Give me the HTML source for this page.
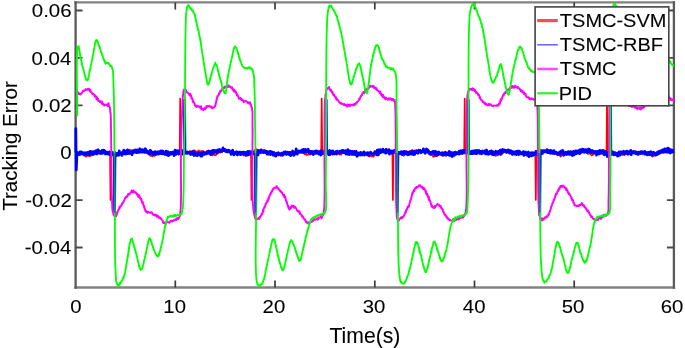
<!DOCTYPE html>
<html><head><meta charset="utf-8"><style>
html,body{margin:0;padding:0;background:#fff;width:685px;height:348px;overflow:hidden;font-family:"Liberation Sans", sans-serif;}
svg{display:block}
</style></head><body>
<svg width="685" height="348" viewBox="0 0 685 348"><defs><filter id="bl" x="-2%" y="-2%" width="104%" height="104%"><feGaussianBlur stdDeviation="0.3 0.7"/></filter></defs><rect width="685" height="348" fill="#fff"/><g filter="url(#bl)"><path d="M74.39999999999999 2.4H675.1M74.39999999999999 287.5H675.1" fill="none" stroke="#828282" stroke-width="2.4"/><path d="M75.6 1.2V288.7M673.9 1.2V288.7" fill="none" stroke="#5a5a5a" stroke-width="2.3"/><path d="M175.3 287.5V280.5M175.3 2.4V9.4M275.0 287.5V280.5M275.0 2.4V9.4M374.8 287.5V280.5M374.8 2.4V9.4M474.5 287.5V280.5M474.5 2.4V9.4M574.2 287.5V280.5M574.2 2.4V9.4" fill="none" stroke="#3a3a3a" stroke-width="1.7"/><path d="M75.6 10.5H82.6M673.9 10.5H666.9M75.6 57.9H82.6M673.9 57.9H666.9M75.6 105.3H82.6M673.9 105.3H666.9M75.6 152.7H82.6M673.9 152.7H666.9M75.6 200.1H82.6M673.9 200.1H666.9M75.6 247.5H82.6M673.9 247.5H666.9" fill="none" stroke="#4a4a4a" stroke-width="1.8"/><polyline points="75.80,152.50 76.50,151.89 77.30,152.55 78.10,152.85 78.90,153.21 79.70,152.15 80.50,152.27 81.30,153.50 82.10,153.69 82.90,154.58 83.70,154.71 84.50,154.61 85.30,154.95 86.10,156.77 86.90,155.67 87.70,155.66 88.50,155.61 89.30,156.23 90.10,156.12 90.90,155.61 91.70,155.37 92.50,155.06 93.30,154.74 94.10,154.37 94.90,153.36 95.70,151.83 96.50,152.60 97.30,151.15 98.10,151.48 98.90,150.64 99.70,151.28 100.50,150.88 101.30,151.44 102.10,153.09 102.90,151.55 103.70,152.13 104.50,151.17 105.30,151.79 106.10,152.34 106.90,152.00 107.70,152.25 108.50,152.12 109.30,151.58 110.00,152.60 110.50,200.00 111.00,152.60 111.70,153.23 112.50,152.22 113.30,153.04 114.10,152.98 114.90,153.78 115.70,153.34 116.50,154.47 117.30,154.21 118.10,155.14 118.90,154.98 119.70,154.79 120.50,154.27 121.30,154.87 122.10,154.43 122.90,154.63 123.70,153.15 124.50,153.10 125.30,152.53 126.10,151.89 126.90,151.36 127.70,150.92 128.50,150.18 129.30,149.72 130.10,149.88 130.90,150.30 131.70,150.77 132.50,150.58 133.30,150.72 134.10,150.70 134.90,150.78 135.70,150.62 136.50,150.98 137.30,151.52 138.10,150.47 138.90,150.27 139.70,151.58 140.50,150.73 141.30,151.13 142.10,151.19 142.90,150.36 143.70,152.41 144.50,152.44 145.30,152.07 146.10,152.87 146.90,153.11 147.70,153.17 148.50,154.11 149.30,154.86 150.10,155.67 150.90,155.79 151.70,155.66 152.50,156.37 153.30,155.24 154.10,155.81 154.90,155.66 155.70,154.56 156.50,153.36 157.30,153.33 158.10,153.44 158.90,153.17 159.70,153.33 160.50,151.79 161.30,152.12 162.10,152.37 162.90,151.97 163.70,150.93 164.50,152.64 165.30,153.53 166.10,153.02 166.90,152.18 167.70,152.52 168.50,152.88 169.30,154.00 170.10,153.02 170.90,152.68 171.70,153.31 172.50,152.40 173.30,153.30 174.10,152.01 174.90,152.15 175.70,152.84 176.50,153.36 177.30,153.19 178.10,153.29 178.90,152.52 179.70,152.60 180.20,98.50 180.70,152.60 181.30,153.94 182.10,154.65 182.90,154.24 183.70,154.75 184.50,154.24 185.30,153.78 186.10,153.67 186.90,153.43 187.70,153.21 188.50,152.10 189.30,151.80 190.10,150.86 190.90,152.03 191.70,151.73 192.50,150.77 193.30,150.57 194.10,150.21 194.90,151.00 195.70,151.14 196.50,152.28 197.30,151.46 198.10,151.08 198.90,150.35 199.70,152.34 200.50,151.75 201.30,150.85 202.10,151.71 202.90,150.79 203.70,153.32 204.50,152.17 205.30,151.98 206.10,151.75 206.90,150.99 207.70,152.29 208.50,151.93 209.30,153.40 210.10,152.46 210.90,153.48 211.70,154.92 212.50,155.44 213.30,154.24 214.10,154.16 214.90,155.34 215.70,155.17 216.50,153.97 217.30,153.74 218.10,153.27 218.90,152.52 219.70,152.24 220.50,152.70 221.30,151.96 222.10,152.27 222.90,150.92 223.70,150.72 224.50,150.24 225.30,150.72 226.10,150.26 226.90,150.23 227.70,151.72 228.50,152.35 229.30,152.31 230.10,152.78 230.90,152.43 231.70,152.08 232.50,152.56 233.30,152.38 234.10,152.02 234.90,151.74 235.70,151.86 236.50,152.64 237.30,152.81 238.10,152.64 238.90,153.81 239.70,153.45 240.50,153.97 241.30,154.63 242.10,153.97 242.90,153.73 243.70,155.37 244.50,154.86 245.30,155.97 246.10,155.48 246.90,155.69 247.70,155.32 248.50,153.54 249.30,154.49 250.10,153.27 250.90,152.67 251.00,152.60 251.50,200.00 252.00,152.60 252.50,152.32 253.30,151.89 254.10,151.53 254.90,149.85 255.70,150.14 256.50,149.09 257.30,150.16 258.10,150.50 258.90,149.87 259.70,150.45 260.50,150.54 261.30,151.01 262.10,150.17 262.90,150.22 263.70,150.29 264.50,151.58 265.30,151.28 266.10,150.72 266.90,150.99 267.70,151.07 268.50,151.33 269.30,151.40 270.10,151.70 270.90,151.66 271.70,152.45 272.50,154.11 273.30,154.06 274.10,154.32 274.90,154.62 275.70,155.11 276.50,155.51 277.30,155.13 278.10,155.55 278.90,155.44 279.70,154.70 280.50,154.33 281.30,153.81 282.10,153.32 282.90,153.83 283.70,151.77 284.50,152.43 285.30,151.94 286.10,151.71 286.90,151.94 287.70,152.42 288.50,151.93 289.30,151.93 290.10,151.83 290.90,152.23 291.70,152.90 292.50,152.36 293.30,152.06 294.10,152.01 294.90,152.06 295.70,151.84 296.50,152.97 297.30,152.48 298.10,152.07 298.90,152.84 299.70,151.76 300.50,152.51 301.30,152.67 302.10,151.70 302.90,151.98 303.70,152.64 304.50,153.94 305.30,154.52 306.10,153.62 306.90,155.07 307.70,154.59 308.50,154.72 309.30,154.66 310.10,154.66 310.90,153.69 311.70,153.77 312.50,153.24 313.30,153.63 314.10,153.93 314.90,153.75 315.70,151.75 316.50,150.65 317.30,150.98 318.10,150.47 318.90,151.78 319.70,151.00 320.50,150.36 321.20,152.60 321.70,98.50 322.20,152.60 322.90,150.19 323.70,150.85 324.50,151.08 325.30,151.27 326.10,151.36 326.90,151.12 327.70,151.35 328.50,150.93 329.30,150.75 330.10,151.96 330.90,151.43 331.70,151.57 332.50,150.72 333.30,151.66 334.10,152.44 334.90,151.71 335.70,153.26 336.50,152.87 337.30,153.58 338.10,153.58 338.90,153.95 339.70,154.54 340.50,153.73 341.30,154.60 342.10,153.20 342.90,152.83 343.70,153.28 344.50,151.99 345.30,151.92 346.10,152.18 346.90,152.00 347.70,150.25 348.50,151.22 349.30,151.85 350.10,151.54 350.90,150.95 351.70,150.98 352.50,151.38 353.30,151.24 354.10,151.97 354.90,152.28 355.70,152.53 356.50,153.38 357.30,152.81 358.10,152.28 358.90,153.57 359.70,152.53 360.50,152.86 361.30,153.06 362.10,153.03 362.90,152.83 363.70,153.40 364.50,154.89 365.30,153.82 366.10,154.44 366.90,155.48 367.70,155.71 368.50,156.11 369.30,156.48 370.10,155.31 370.90,155.99 371.70,156.48 372.50,156.52 373.30,156.64 374.10,155.82 374.90,154.95 375.70,154.50 376.50,153.73 377.30,153.31 378.10,152.89 378.90,151.81 379.70,151.08 380.50,150.66 381.30,151.34 382.10,151.24 382.90,151.00 383.70,150.92 384.50,150.96 385.30,150.64 386.10,151.08 386.90,150.33 387.70,150.84 388.50,150.64 389.30,151.40 390.10,150.75 390.90,150.98 391.70,151.23 392.40,152.60 392.90,200.00 393.40,152.60 394.10,150.72 394.90,151.75 395.70,151.01 396.50,152.08 397.30,151.90 398.10,152.51 398.90,152.04 399.70,153.68 400.50,153.42 401.30,153.49 402.10,155.16 402.90,154.56 403.70,155.93 404.50,154.23 405.30,153.60 406.10,153.49 406.90,153.83 407.70,152.57 408.50,152.36 409.30,151.96 410.10,150.86 410.90,151.07 411.70,150.52 412.50,150.00 413.30,150.99 414.10,150.90 414.90,150.68 415.70,150.31 416.50,149.90 417.30,151.28 418.10,151.11 418.90,150.41 419.70,151.28 420.50,150.57 421.30,151.32 422.10,151.39 422.90,151.50 423.70,151.46 424.50,151.51 425.30,151.00 426.10,151.60 426.90,151.85 427.70,152.38 428.50,153.09 429.30,153.78 430.10,154.83 430.90,153.26 431.70,155.24 432.50,155.37 433.30,156.94 434.10,156.48 434.90,155.27 435.70,156.24 436.50,155.59 437.30,156.04 438.10,154.62 438.90,154.64 439.70,154.13 440.50,153.66 441.30,152.97 442.10,151.96 442.90,152.80 443.70,152.86 444.50,152.21 445.30,151.70 446.10,152.36 446.90,152.64 447.70,152.40 448.50,152.62 449.30,153.44 450.10,152.26 450.90,152.58 451.70,151.89 452.50,152.42 453.30,152.29 454.10,152.04 454.90,152.03 455.70,153.15 456.50,152.05 457.30,152.05 458.10,153.23 458.90,152.19 459.70,151.51 460.50,152.79 461.30,152.37 462.10,153.93 462.90,152.74 463.70,153.30 464.20,152.60 464.70,98.50 465.20,152.60 465.30,153.88 466.10,153.30 466.90,153.66 467.70,153.28 468.50,152.85 469.30,153.25 470.10,152.81 470.90,151.93 471.70,151.00 472.50,150.51 473.30,150.84 474.10,151.64 474.90,150.04 475.70,149.79 476.50,149.84 477.30,149.72 478.10,149.92 478.90,150.48 479.70,151.49 480.50,150.97 481.30,150.88 482.10,150.47 482.90,151.49 483.70,151.45 484.50,150.90 485.30,151.02 486.10,151.59 486.90,152.20 487.70,152.13 488.50,152.10 489.30,152.08 490.10,152.72 490.90,152.92 491.70,154.43 492.50,153.22 493.30,154.04 494.10,155.26 494.90,154.84 495.70,155.93 496.50,155.34 497.30,155.45 498.10,155.08 498.90,154.33 499.70,154.18 500.50,155.33 501.30,154.03 502.10,153.47 502.90,153.11 503.70,152.42 504.50,152.21 505.30,151.23 506.10,151.01 506.90,151.49 507.70,150.80 508.50,150.39 509.30,151.09 510.10,151.13 510.90,151.93 511.70,151.49 512.50,151.52 513.30,152.05 514.10,153.11 514.90,152.37 515.70,152.50 516.50,152.42 517.30,152.55 518.10,152.85 518.90,153.10 519.70,151.65 520.50,153.28 521.30,152.79 522.10,152.90 522.90,154.58 523.70,153.66 524.50,155.11 525.30,155.00 526.10,154.35 526.90,155.40 527.70,155.71 528.50,155.37 529.30,154.22 530.10,155.05 530.90,154.84 531.70,153.98 532.50,154.97 533.30,153.39 534.10,152.75 534.90,152.24 535.30,152.60 535.80,200.00 536.30,152.60 536.50,151.01 537.30,151.06 538.10,150.87 538.90,150.25 539.70,150.34 540.50,149.65 541.30,150.63 542.10,150.06 542.90,150.62 543.70,150.15 544.50,150.42 545.30,150.84 546.10,150.17 546.90,152.03 547.70,150.80 548.50,150.81 549.30,150.54 550.10,151.80 550.90,151.86 551.70,151.54 552.50,151.01 553.30,151.81 554.10,152.80 554.90,152.70 555.70,152.86 556.50,153.34 557.30,153.99 558.10,154.76 558.90,154.72 559.70,155.23 560.50,156.67 561.30,156.09 562.10,154.50 562.90,154.90 563.70,154.40 564.50,153.87 565.30,154.02 566.10,152.91 566.90,152.53 567.70,152.18 568.50,152.08 569.30,152.62 570.10,152.30 570.90,151.26 571.70,151.79 572.50,151.73 573.30,152.68 574.10,152.52 574.90,152.96 575.70,152.55 576.50,151.64 577.30,152.78 578.10,152.57 578.90,152.58 579.70,151.52 580.50,152.07 581.30,151.56 582.10,151.49 582.90,152.01 583.70,152.08 584.50,151.62 585.30,151.45 586.10,151.38 586.90,152.68 587.70,153.90 588.50,153.68 589.30,152.91 590.10,153.86 590.90,154.66 591.70,155.34 592.50,155.01 593.30,154.42 594.10,154.04 594.90,153.02 595.70,152.86 596.50,152.43 597.30,151.71 598.10,151.66 598.90,151.01 599.70,151.04 600.50,151.35 601.30,150.86 602.10,150.65 602.90,150.36 603.70,149.83 604.50,150.69 605.30,151.21 606.10,150.63 606.50,152.60 607.00,98.50 607.50,152.60 607.70,151.30 608.50,151.77 609.30,151.51 610.10,151.09 610.90,152.79 611.70,151.20 612.50,152.28 613.30,151.61 614.10,152.14 614.90,151.76 615.70,152.18 616.50,153.13 617.30,153.96 618.10,152.92 618.90,153.71 619.70,154.52 620.50,154.02 621.30,154.92 622.10,154.30 622.90,155.03 623.70,154.87 624.50,155.07 625.30,154.37 626.10,153.23 626.90,153.74 627.70,152.42 628.50,152.92 629.30,152.90 630.10,152.11 630.90,151.28 631.70,151.99 632.50,151.41 633.30,150.73 634.10,151.28 634.90,152.33 635.70,151.68 636.50,152.11 637.30,152.09 638.10,151.61 638.90,152.34 639.70,152.88 640.50,152.86 641.30,152.69 642.10,151.70 642.90,153.37 643.70,153.13 644.50,153.32 645.30,153.56 646.10,152.85 646.90,153.00 647.70,153.76 648.50,154.80 649.30,153.52 650.10,154.66 650.90,154.81 651.70,155.79 652.50,156.51 653.30,155.79 654.10,155.34 654.90,155.88 655.70,155.47 656.50,154.45 657.30,155.17 658.10,153.88 658.90,153.83 659.70,152.16 660.50,152.71 661.30,150.83 662.10,151.53 662.90,149.65 663.70,150.91 664.50,149.80 665.30,149.09 666.10,149.71 666.90,150.04 667.70,149.46 668.50,149.83 669.30,150.33 670.10,150.22 670.90,148.86 671.70,150.23 672.50,150.69 673.30,150.64" fill="none" stroke="#ff0000" stroke-width="1.7" stroke-linejoin="round"/><polyline points="75.80,152.00 75.80,128.50 76.30,170.00 77.00,152.50 77.50,152.78 77.80,153.49 78.10,154.80 78.40,154.10 78.70,154.70 79.00,153.89 79.30,154.02 79.60,153.79 79.90,151.92 80.20,154.43 80.50,154.06 80.80,154.04 81.10,151.83 81.40,151.76 81.70,152.60 82.00,153.01 82.30,153.77 82.60,153.40 82.90,153.96 83.20,152.78 83.50,153.73 83.80,153.80 84.10,152.74 84.40,155.12 84.70,153.95 85.00,154.59 85.30,152.77 85.60,152.64 85.90,153.04 86.20,153.27 86.50,154.01 86.80,153.63 87.10,152.93 87.40,152.42 87.70,152.85 88.00,154.59 88.30,152.55 88.60,153.60 88.90,153.77 89.20,151.85 89.50,153.37 89.80,154.62 90.10,151.28 90.40,152.96 90.70,153.15 91.00,152.42 91.30,153.71 91.60,153.12 91.90,151.69 92.20,153.95 92.50,153.76 92.80,154.00 93.10,154.46 93.40,153.34 93.70,153.05 94.00,151.59 94.30,153.46 94.60,152.19 94.90,152.30 95.20,151.44 95.50,151.68 95.80,152.07 96.10,153.84 96.40,150.47 96.70,151.00 97.00,152.65 97.30,153.80 97.60,152.89 97.90,150.37 98.20,149.71 98.50,152.55 98.80,151.42 99.10,151.00 99.40,153.07 99.70,153.17 100.00,152.20 100.30,152.27 100.60,152.45 100.90,153.60 101.20,152.61 101.50,152.51 101.80,152.55 102.10,150.44 102.40,153.30 102.70,152.99 103.00,152.59 103.30,150.11 103.60,151.48 103.90,152.99 104.20,150.38 104.50,152.05 104.80,153.30 105.10,151.02 105.40,154.00 105.70,152.99 106.00,152.35 106.30,152.89 106.60,153.27 106.90,152.81 107.20,153.90 107.50,152.16 107.80,152.47 108.10,154.00 108.40,153.05 108.70,152.21 109.00,154.10 109.30,154.68 109.60,152.83 109.90,151.96 110.20,153.26 110.50,153.30 110.80,153.20 111.10,154.95 111.40,152.56 111.70,154.89 112.00,152.40 112.30,152.91 112.60,154.36 112.90,154.88 113.20,154.63 113.50,154.14 113.80,153.94 114.10,153.96 114.20,152.60 114.60,215.00 115.00,152.60 115.30,154.37 115.60,153.78 115.90,154.53 116.20,154.31 116.50,155.73 116.80,154.02 117.10,153.24 117.40,153.26 117.70,153.59 118.00,154.49 118.30,153.19 118.60,153.87 118.90,155.28 119.20,150.84 119.50,152.24 119.80,153.57 120.10,153.68 120.40,153.48 120.70,152.76 121.00,153.81 121.30,153.39 121.60,152.55 121.90,155.46 122.20,153.35 122.50,152.40 122.80,152.82 123.10,152.66 123.40,152.79 123.70,150.10 124.00,152.31 124.30,153.77 124.60,151.57 124.90,152.64 125.20,153.64 125.50,153.51 125.80,154.13 126.10,150.91 126.40,152.23 126.70,152.22 127.00,153.17 127.30,153.61 127.60,149.82 127.90,153.56 128.20,151.00 128.50,153.11 128.80,150.91 129.10,152.55 129.40,153.54 129.70,152.17 130.00,152.48 130.30,153.05 130.60,152.36 130.90,152.09 131.20,153.68 131.50,153.15 131.80,151.76 132.10,154.76 132.40,150.82 132.70,152.83 133.00,151.60 133.30,151.95 133.60,152.47 133.90,151.93 134.20,152.29 134.50,150.06 134.80,150.02 135.10,152.09 135.40,150.45 135.70,150.33 136.00,149.82 136.30,152.50 136.60,151.92 136.90,152.59 137.20,150.13 137.50,151.01 137.80,149.82 138.10,151.68 138.40,152.45 138.70,149.93 139.00,152.34 139.30,151.73 139.60,150.53 139.90,148.71 140.20,152.06 140.50,150.54 140.80,150.02 141.10,151.01 141.40,151.02 141.70,152.11 142.00,149.59 142.30,151.76 142.60,152.13 142.90,152.11 143.20,150.51 143.50,149.98 143.80,151.78 144.10,150.92 144.40,150.97 144.70,152.32 145.00,150.69 145.30,148.72 145.60,150.69 145.90,149.29 146.20,152.04 146.50,151.61 146.80,150.76 147.10,151.44 147.40,152.36 147.70,151.69 148.00,153.02 148.30,151.72 148.60,152.90 148.90,153.44 149.20,153.64 149.50,151.44 149.80,153.08 150.10,150.40 150.40,151.27 150.70,150.47 151.00,153.58 151.30,151.35 151.60,152.64 151.90,152.52 152.20,152.75 152.50,152.25 152.80,153.13 153.10,154.74 153.40,153.04 153.70,153.57 154.00,154.08 154.30,152.92 154.60,151.89 154.90,152.62 155.20,154.28 155.50,151.58 155.80,152.64 156.10,154.26 156.40,154.06 156.70,153.28 157.00,154.09 157.30,153.45 157.60,152.11 157.90,151.72 158.20,152.65 158.50,154.20 158.80,152.71 159.10,152.37 159.40,152.49 159.70,151.72 160.00,153.13 160.30,152.06 160.60,153.59 160.90,150.86 161.20,153.54 161.50,152.57 161.80,151.26 162.10,153.92 162.40,152.92 162.70,150.96 163.00,152.31 163.30,153.48 163.60,152.73 163.90,153.97 164.20,153.93 164.50,153.86 164.80,153.52 165.10,154.53 165.40,153.86 165.70,153.66 166.00,151.13 166.30,154.12 166.60,154.54 166.90,152.94 167.20,152.77 167.50,155.19 167.80,151.50 168.10,153.73 168.40,155.69 168.70,152.34 169.00,153.95 169.30,155.15 169.60,153.14 169.90,153.82 170.20,154.15 170.50,152.33 170.80,153.14 171.10,153.50 171.40,154.02 171.70,153.14 172.00,152.95 172.30,152.11 172.60,152.74 172.90,153.96 173.20,153.13 173.50,152.14 173.80,152.12 174.10,155.59 174.40,154.02 174.70,153.47 175.00,150.19 175.30,153.36 175.60,153.17 175.90,154.33 176.20,153.02 176.50,152.48 176.80,153.02 177.10,150.50 177.40,153.43 177.70,152.67 178.00,151.60 178.30,153.59 178.60,154.03 178.90,150.78 179.20,151.47 179.50,152.40 179.80,152.26 180.10,151.65 180.40,151.05 180.70,154.13 181.00,153.03 181.30,150.78 181.60,150.63 181.90,153.67 182.20,152.96 182.50,153.80 182.80,152.80 183.10,151.14 183.40,152.29 183.70,149.90 184.00,151.34 184.20,152.60 184.60,100.00 185.00,152.60 185.20,152.13 185.50,152.77 185.80,152.74 186.10,153.06 186.40,152.69 186.70,152.22 187.00,153.40 187.30,152.73 187.60,151.92 187.90,152.19 188.20,152.89 188.50,152.85 188.80,153.19 189.10,153.10 189.40,153.34 189.70,153.10 190.00,152.05 190.30,153.79 190.60,154.49 190.90,153.93 191.20,153.36 191.50,154.06 191.80,152.70 192.10,151.81 192.40,153.81 192.70,152.87 193.00,154.57 193.30,152.78 193.60,151.27 193.90,152.88 194.20,155.52 194.50,153.58 194.80,152.61 195.10,153.22 195.40,154.51 195.70,154.49 196.00,154.16 196.30,155.47 196.60,154.68 196.90,153.94 197.20,154.54 197.50,155.58 197.80,154.88 198.10,154.91 198.40,152.78 198.70,153.68 199.00,154.53 199.30,153.48 199.60,154.81 199.90,154.31 200.20,154.59 200.50,153.44 200.80,156.16 201.10,154.82 201.40,153.34 201.70,153.61 202.00,156.08 202.30,153.12 202.60,154.30 202.90,154.38 203.20,153.38 203.50,152.18 203.80,153.51 204.10,153.66 204.40,154.40 204.70,154.03 205.00,153.25 205.30,154.06 205.60,153.73 205.90,153.37 206.20,153.20 206.50,152.88 206.80,153.79 207.10,152.03 207.40,152.44 207.70,153.05 208.00,151.56 208.30,152.56 208.60,150.97 208.90,152.27 209.20,153.49 209.50,153.46 209.80,152.81 210.10,152.60 210.40,151.38 210.70,154.59 211.00,153.24 211.30,153.78 211.60,151.76 211.90,152.41 212.20,150.72 212.50,153.27 212.80,153.37 213.10,150.48 213.40,152.27 213.70,152.89 214.00,150.44 214.30,150.31 214.60,151.00 214.90,151.37 215.20,150.52 215.50,151.89 215.80,152.03 216.10,152.34 216.40,152.34 216.70,153.07 217.00,152.66 217.30,150.11 217.60,150.84 217.90,150.22 218.20,150.14 218.50,151.07 218.80,151.09 219.10,151.52 219.40,149.38 219.70,149.68 220.00,150.84 220.30,150.62 220.60,150.47 220.90,150.68 221.20,149.95 221.50,151.39 221.80,151.02 222.10,150.56 222.40,149.96 222.70,150.46 223.00,147.91 223.30,149.65 223.60,150.68 223.90,149.16 224.20,150.88 224.50,150.85 224.80,149.36 225.10,150.52 225.40,150.50 225.70,151.32 226.00,151.52 226.30,150.93 226.60,150.17 226.90,150.94 227.20,151.08 227.50,151.94 227.80,151.57 228.10,150.63 228.40,150.07 228.70,151.12 229.00,150.83 229.30,150.53 229.60,151.60 229.90,151.30 230.20,151.97 230.50,152.46 230.80,151.59 231.10,154.40 231.40,151.82 231.70,153.31 232.00,152.39 232.30,153.45 232.60,150.01 232.90,151.69 233.20,152.74 233.50,153.15 233.80,154.93 234.10,152.95 234.40,153.95 234.70,153.47 235.00,153.68 235.30,153.28 235.60,152.63 235.90,153.32 236.20,151.75 236.50,154.03 236.80,151.84 237.10,153.12 237.40,155.00 237.70,152.66 238.00,152.91 238.30,154.06 238.60,152.92 238.90,152.09 239.20,153.15 239.50,153.47 239.80,153.60 240.10,152.11 240.40,154.64 240.70,154.55 241.00,152.90 241.30,153.14 241.60,152.45 241.90,154.29 242.20,152.17 242.50,153.55 242.80,152.40 243.10,152.18 243.40,153.60 243.70,154.22 244.00,152.88 244.30,152.22 244.60,153.72 244.90,152.87 245.20,153.24 245.50,154.46 245.80,154.09 246.10,152.45 246.40,155.26 246.70,152.99 247.00,153.79 247.30,152.37 247.60,152.98 247.90,151.29 248.20,154.84 248.50,154.43 248.80,151.85 249.10,151.57 249.40,151.46 249.70,154.26 250.00,152.62 250.30,153.02 250.60,152.77 250.90,152.95 251.20,151.98 251.50,153.08 251.80,151.60 252.10,152.95 252.40,153.31 252.70,153.44 253.00,152.72 253.30,152.02 253.60,153.05 253.90,152.37 254.20,154.38 254.50,153.55 254.80,152.62 255.10,152.22 255.30,152.60 255.70,215.00 256.10,152.60 256.30,152.80 256.60,152.97 256.90,152.97 257.20,154.45 257.50,151.59 257.80,152.26 258.10,154.99 258.40,150.28 258.70,151.58 259.00,152.23 259.30,152.17 259.60,152.39 259.90,151.71 260.20,152.28 260.50,151.93 260.80,152.63 261.10,149.94 261.40,150.93 261.70,151.80 262.00,150.76 262.30,150.74 262.60,152.42 262.90,151.14 263.20,152.44 263.50,152.57 263.80,152.15 264.10,152.37 264.40,151.79 264.70,150.52 265.00,151.94 265.30,152.47 265.60,151.53 265.90,152.01 266.20,152.92 266.50,151.35 266.80,152.93 267.10,154.21 267.40,151.86 267.70,152.64 268.00,152.41 268.30,154.17 268.60,153.02 268.90,153.68 269.20,152.17 269.50,152.92 269.80,153.00 270.10,151.30 270.40,154.59 270.70,154.12 271.00,151.55 271.30,154.11 271.60,153.30 271.90,153.94 272.20,153.92 272.50,152.11 272.80,153.45 273.10,155.21 273.40,153.19 273.70,152.78 274.00,152.49 274.30,152.66 274.60,154.25 274.90,155.63 275.20,154.40 275.50,154.23 275.80,156.24 276.10,153.50 276.40,153.35 276.70,154.56 277.00,154.59 277.30,153.02 277.60,152.87 277.90,154.32 278.20,154.27 278.50,152.71 278.80,153.80 279.10,153.45 279.40,154.44 279.70,153.85 280.00,153.86 280.30,153.58 280.60,154.97 280.90,155.28 281.20,153.51 281.50,154.70 281.80,153.08 282.10,153.89 282.40,154.55 282.70,155.30 283.00,153.39 283.30,153.68 283.60,153.94 283.90,152.23 284.20,153.73 284.50,153.02 284.80,154.06 285.10,152.55 285.40,151.69 285.70,153.69 286.00,153.90 286.30,153.08 286.60,154.51 286.90,153.34 287.20,153.00 287.50,154.07 287.80,152.01 288.10,152.89 288.40,153.53 288.70,154.38 289.00,153.35 289.30,153.80 289.60,152.82 289.90,153.75 290.20,155.09 290.50,152.71 290.80,155.73 291.10,152.68 291.40,153.31 291.70,153.42 292.00,154.23 292.30,151.92 292.60,151.01 292.90,153.66 293.20,153.80 293.50,153.57 293.80,155.51 294.10,153.02 294.40,153.00 294.70,153.61 295.00,152.97 295.30,154.19 295.60,151.22 295.90,152.00 296.20,148.85 296.50,153.03 296.80,151.76 297.10,152.98 297.40,154.12 297.70,151.88 298.00,151.55 298.30,151.23 298.60,150.81 298.90,150.94 299.20,152.14 299.50,151.46 299.80,151.42 300.10,151.12 300.40,152.14 300.70,151.66 301.00,150.97 301.30,151.73 301.60,150.86 301.90,149.82 302.20,152.39 302.50,151.37 302.80,149.92 303.10,151.93 303.40,151.18 303.70,149.26 304.00,152.43 304.30,151.16 304.60,151.72 304.90,151.04 305.20,150.71 305.50,149.33 305.80,151.87 306.10,150.96 306.40,150.68 306.70,151.36 307.00,151.12 307.30,151.77 307.60,150.77 307.90,151.16 308.20,149.11 308.50,150.88 308.80,152.04 309.10,152.76 309.40,151.12 309.70,151.43 310.00,153.19 310.30,151.35 310.60,152.47 310.90,153.47 311.20,151.90 311.50,153.14 311.80,151.26 312.10,152.24 312.40,152.01 312.70,152.25 313.00,153.32 313.30,154.63 313.60,151.61 313.90,151.75 314.20,152.86 314.50,151.34 314.80,152.93 315.10,153.03 315.40,152.21 315.70,153.04 316.00,150.98 316.30,153.31 316.60,151.02 316.90,151.89 317.20,152.04 317.50,152.20 317.80,153.47 318.10,152.70 318.40,152.22 318.70,153.16 319.00,154.20 319.30,152.63 319.60,152.99 319.90,153.86 320.20,152.89 320.50,151.33 320.80,155.11 321.10,154.82 321.40,150.63 321.70,152.57 322.00,153.03 322.30,153.58 322.60,153.29 322.90,152.35 323.20,151.57 323.50,152.74 323.80,153.67 324.10,151.56 324.40,151.63 324.70,152.64 325.00,150.74 325.30,152.43 325.60,152.27 325.80,152.60 326.20,100.00 326.60,152.60 326.80,152.37 327.10,152.74 327.40,152.14 327.70,152.83 328.00,153.58 328.30,154.03 328.60,154.56 328.90,152.09 329.20,152.46 329.50,150.41 329.80,154.80 330.10,152.18 330.40,152.87 330.70,153.43 331.00,151.54 331.30,153.36 331.60,152.86 331.90,151.05 332.20,153.16 332.50,154.04 332.80,150.96 333.10,153.61 333.40,152.98 333.70,153.22 334.00,153.15 334.30,153.98 334.60,152.41 334.90,153.47 335.20,152.14 335.50,153.23 335.80,151.64 336.10,152.30 336.40,154.09 336.70,152.75 337.00,152.09 337.30,151.05 337.60,151.35 337.90,152.28 338.20,152.97 338.50,152.40 338.80,152.45 339.10,151.83 339.40,153.18 339.70,151.39 340.00,151.19 340.30,152.58 340.60,151.72 340.90,151.34 341.20,151.01 341.50,151.31 341.80,152.16 342.10,151.87 342.40,150.30 342.70,151.92 343.00,151.67 343.30,150.49 343.60,152.27 343.90,151.23 344.20,151.19 344.50,152.34 344.80,152.89 345.10,150.91 345.40,152.08 345.70,150.80 346.00,154.04 346.30,151.28 346.60,153.02 346.90,151.23 347.20,152.75 347.50,154.22 347.80,149.53 348.10,151.71 348.40,152.71 348.70,152.19 349.00,151.69 349.30,154.59 349.60,152.59 349.90,150.94 350.20,153.52 350.50,151.02 350.80,153.97 351.10,152.32 351.40,153.11 351.70,154.30 352.00,153.23 352.30,151.79 352.60,151.55 352.90,154.49 353.20,154.11 353.50,152.61 353.80,154.34 354.10,154.03 354.40,154.23 354.70,151.37 355.00,153.37 355.30,154.61 355.60,154.48 355.90,154.66 356.20,151.35 356.50,154.00 356.80,154.35 357.10,156.43 357.40,152.94 357.70,153.58 358.00,153.95 358.30,154.81 358.60,153.49 358.90,155.08 359.20,153.15 359.50,154.21 359.80,153.42 360.10,154.10 360.40,153.25 360.70,152.34 361.00,155.03 361.30,154.24 361.60,153.38 361.90,154.13 362.20,154.92 362.50,152.95 362.80,153.82 363.10,154.46 363.40,154.45 363.70,153.59 364.00,151.82 364.30,155.17 364.60,154.26 364.90,153.95 365.20,153.66 365.50,154.20 365.80,153.52 366.10,152.92 366.40,153.21 366.70,153.36 367.00,153.35 367.30,152.80 367.60,154.60 367.90,152.66 368.20,154.63 368.50,152.95 368.80,154.31 369.10,155.33 369.40,154.15 369.70,153.21 370.00,153.98 370.30,154.07 370.60,152.17 370.90,153.27 371.20,154.02 371.50,153.36 371.80,153.88 372.10,154.50 372.40,154.50 372.70,154.60 373.00,154.23 373.30,153.31 373.60,153.53 373.90,153.22 374.20,153.12 374.50,153.19 374.80,151.58 375.10,152.90 375.40,153.14 375.70,152.11 376.00,152.99 376.30,153.45 376.60,152.69 376.90,154.84 377.20,150.08 377.50,152.39 377.80,150.69 378.10,153.41 378.40,154.99 378.70,149.75 379.00,152.30 379.30,152.61 379.60,151.70 379.90,152.48 380.20,149.60 380.50,152.62 380.80,152.07 381.10,151.65 381.40,150.98 381.70,152.14 382.00,150.96 382.30,151.62 382.60,150.84 382.90,149.06 383.20,151.24 383.50,151.44 383.80,151.96 384.10,150.31 384.40,151.13 384.70,151.77 385.00,151.29 385.30,152.39 385.60,153.14 385.90,150.25 386.20,149.25 386.50,152.04 386.80,152.73 387.10,152.15 387.40,152.07 387.70,150.67 388.00,150.62 388.30,152.26 388.60,150.50 388.90,149.64 389.20,150.50 389.50,154.04 389.80,153.52 390.10,150.96 390.40,150.97 390.70,151.98 391.00,151.05 391.30,153.17 391.60,151.83 391.90,150.87 392.20,153.31 392.50,151.47 392.80,152.32 393.10,152.13 393.40,151.87 393.70,152.55 394.00,151.57 394.30,150.45 394.60,150.12 394.90,151.09 395.20,151.62 395.50,152.38 395.80,152.48 396.10,153.00 396.40,152.58 396.70,151.68 397.00,151.78 397.10,152.60 397.50,215.00 397.90,152.60 397.90,153.00 398.20,153.04 398.50,152.40 398.80,152.34 399.10,153.45 399.40,152.53 399.70,153.25 400.00,153.10 400.30,152.72 400.60,153.82 400.90,151.93 401.20,152.15 401.50,151.70 401.80,151.71 402.10,154.06 402.40,154.26 402.70,152.53 403.00,153.08 403.30,153.69 403.60,153.33 403.90,153.73 404.20,151.27 404.50,151.90 404.80,153.01 405.10,154.00 405.40,152.68 405.70,151.73 406.00,152.25 406.30,151.96 406.60,151.78 406.90,154.16 407.20,152.05 407.50,152.71 407.80,154.87 408.10,153.91 408.40,153.08 408.70,152.14 409.00,153.18 409.30,154.40 409.60,153.42 409.90,154.06 410.20,152.91 410.50,153.33 410.80,152.61 411.10,153.24 411.40,154.11 411.70,151.37 412.00,152.73 412.30,153.02 412.60,152.20 412.90,152.44 413.20,153.51 413.50,154.70 413.80,153.30 414.10,152.96 414.40,151.05 414.70,154.49 415.00,152.59 415.30,152.44 415.60,151.31 415.90,152.32 416.20,151.22 416.50,152.34 416.80,152.67 417.10,152.18 417.40,152.37 417.70,151.18 418.00,153.40 418.30,151.25 418.60,150.03 418.90,151.60 419.20,150.96 419.50,150.66 419.80,151.25 420.10,151.85 420.40,150.32 420.70,151.31 421.00,152.83 421.30,152.04 421.60,151.17 421.90,151.41 422.20,151.13 422.50,151.18 422.80,151.94 423.10,151.09 423.40,148.77 423.70,151.14 424.00,150.27 424.30,151.82 424.60,150.56 424.90,151.33 425.20,153.38 425.50,150.18 425.80,150.13 426.10,149.87 426.40,148.93 426.70,149.49 427.00,151.78 427.30,150.82 427.60,149.65 427.90,150.09 428.20,152.25 428.50,150.92 428.80,151.40 429.10,152.16 429.40,153.26 429.70,153.92 430.00,153.08 430.30,152.27 430.60,152.38 430.90,154.08 431.20,153.78 431.50,152.12 431.80,152.96 432.10,152.86 432.40,152.70 432.70,152.22 433.00,151.46 433.30,152.32 433.60,151.37 433.90,154.20 434.20,153.57 434.50,151.89 434.80,154.54 435.10,154.09 435.40,151.34 435.70,155.13 436.00,154.14 436.30,155.44 436.60,152.18 436.90,153.97 437.20,153.90 437.50,153.71 437.80,153.70 438.10,154.61 438.40,152.08 438.70,152.36 439.00,152.22 439.30,153.08 439.60,153.05 439.90,154.03 440.20,153.95 440.50,153.73 440.80,153.03 441.10,153.28 441.40,154.69 441.70,154.51 442.00,153.86 442.30,153.45 442.60,155.34 442.90,153.21 443.20,154.46 443.50,154.98 443.80,153.58 444.10,154.69 444.40,152.76 444.70,154.91 445.00,154.12 445.30,152.35 445.60,154.63 445.90,153.08 446.20,155.28 446.50,153.34 446.80,153.87 447.10,154.34 447.40,153.75 447.70,154.36 448.00,153.57 448.30,154.81 448.60,154.16 448.90,154.38 449.20,151.43 449.50,155.35 449.80,154.23 450.10,152.42 450.40,154.30 450.70,154.67 451.00,155.28 451.30,153.12 451.60,155.73 451.90,154.01 452.20,156.55 452.50,153.99 452.80,154.79 453.10,153.71 453.40,152.93 453.70,155.10 454.00,154.87 454.30,155.45 454.60,154.72 454.90,153.24 455.20,152.09 455.50,153.04 455.80,152.95 456.10,152.74 456.40,154.07 456.70,153.74 457.00,153.06 457.30,153.42 457.60,153.03 457.90,153.30 458.20,153.76 458.50,153.88 458.80,152.15 459.10,151.24 459.40,154.09 459.70,152.69 460.00,153.60 460.30,150.77 460.60,152.00 460.90,152.28 461.20,150.74 461.50,151.59 461.80,152.76 462.10,153.05 462.40,153.50 462.70,150.99 463.00,150.40 463.30,152.27 463.60,152.64 463.90,151.86 464.20,150.33 464.50,152.38 464.80,152.36 465.10,152.10 465.40,151.05 465.70,151.83 466.00,152.31 466.30,150.96 466.60,149.68 466.90,151.86 467.20,152.02 467.50,151.57 467.80,152.47 467.90,152.60 468.30,100.00 468.70,152.60 468.70,151.35 469.00,152.26 469.30,153.32 469.60,151.51 469.90,153.86 470.20,153.37 470.50,152.67 470.80,152.51 471.10,153.74 471.40,151.83 471.70,151.94 472.00,151.03 472.30,152.61 472.60,153.52 472.90,152.75 473.20,152.68 473.50,152.09 473.80,152.50 474.10,150.93 474.40,153.44 474.70,152.01 475.00,151.34 475.30,151.72 475.60,151.66 475.90,153.36 476.20,153.58 476.50,151.18 476.80,153.48 477.10,153.45 477.40,151.99 477.70,151.09 478.00,151.83 478.30,151.95 478.60,152.92 478.90,152.22 479.20,150.55 479.50,152.81 479.80,151.04 480.10,153.48 480.40,151.36 480.70,151.87 481.00,151.71 481.30,152.02 481.60,153.85 481.90,153.41 482.20,153.16 482.50,152.87 482.80,151.01 483.10,152.04 483.40,152.01 483.70,151.59 484.00,153.08 484.30,151.84 484.60,151.88 484.90,151.55 485.20,150.55 485.50,153.22 485.80,153.97 486.10,152.83 486.40,151.69 486.70,149.98 487.00,152.87 487.30,153.94 487.60,153.03 487.90,153.68 488.20,154.25 488.50,153.92 488.80,152.36 489.10,153.87 489.40,153.61 489.70,151.31 490.00,152.45 490.30,151.44 490.60,152.76 490.90,153.46 491.20,151.81 491.50,150.82 491.80,154.17 492.10,153.24 492.40,154.32 492.70,151.52 493.00,153.88 493.30,154.87 493.60,154.78 493.90,152.53 494.20,152.98 494.50,152.52 494.80,153.63 495.10,153.63 495.40,152.63 495.70,151.13 496.00,153.18 496.30,151.91 496.60,152.95 496.90,152.52 497.20,153.82 497.50,153.26 497.80,151.61 498.10,152.34 498.40,153.69 498.70,151.31 499.00,152.21 499.30,152.90 499.60,152.90 499.90,152.09 500.20,150.19 500.50,150.18 500.80,151.63 501.10,151.71 501.40,153.81 501.70,150.34 502.00,152.29 502.30,151.88 502.60,149.39 502.90,150.21 503.20,151.16 503.50,150.47 503.80,150.78 504.10,151.38 504.40,150.09 504.70,151.36 505.00,150.25 505.30,150.34 505.60,151.43 505.90,150.33 506.20,151.21 506.50,152.54 506.80,150.99 507.10,150.85 507.40,151.77 507.70,150.70 508.00,152.20 508.30,149.88 508.60,151.83 508.90,150.75 509.20,150.52 509.50,153.15 509.80,150.59 510.10,153.26 510.40,152.23 510.70,153.09 511.00,150.73 511.30,152.97 511.60,153.30 511.90,151.80 512.20,151.85 512.50,154.51 512.80,152.30 513.10,151.76 513.40,151.62 513.70,152.76 514.00,152.71 514.30,152.61 514.60,154.21 514.90,152.22 515.20,153.08 515.50,154.11 515.80,151.70 516.10,153.79 516.40,154.63 516.70,151.48 517.00,151.78 517.30,151.88 517.60,151.11 517.90,153.44 518.20,151.16 518.50,153.55 518.80,154.53 519.10,151.49 519.40,152.82 519.70,151.24 520.00,153.96 520.30,152.47 520.60,152.96 520.90,153.31 521.20,153.82 521.50,152.95 521.80,153.34 522.10,152.80 522.40,153.49 522.70,152.23 523.00,153.49 523.30,151.52 523.60,152.99 523.90,155.43 524.20,153.62 524.50,152.31 524.80,153.86 525.10,152.67 525.40,152.02 525.70,152.97 526.00,154.48 526.30,154.16 526.60,153.72 526.90,152.93 527.20,152.81 527.50,155.28 527.80,154.21 528.10,153.05 528.40,151.93 528.70,152.70 529.00,156.58 529.30,152.98 529.60,154.09 529.90,154.40 530.20,154.06 530.50,153.96 530.80,152.88 531.10,153.22 531.40,155.97 531.70,153.54 532.00,155.14 532.30,152.60 532.60,154.02 532.90,154.55 533.20,155.31 533.50,153.14 533.80,154.83 534.10,154.60 534.40,153.44 534.70,154.62 535.00,153.21 535.30,153.27 535.60,154.00 535.90,151.25 536.20,153.80 536.50,152.85 536.80,152.32 537.10,153.30 537.40,154.42 537.70,153.18 538.00,154.77 538.30,152.27 538.60,152.04 538.90,154.82 539.20,153.59 539.40,152.60 539.80,215.00 540.20,152.60 540.40,153.13 540.70,153.44 541.00,152.74 541.30,153.84 541.60,151.91 541.90,151.53 542.20,150.94 542.50,153.52 542.80,151.55 543.10,151.19 543.40,151.24 543.70,151.68 544.00,150.81 544.30,151.75 544.60,151.37 544.90,151.41 545.20,150.98 545.50,151.95 545.80,151.43 546.10,151.99 546.40,152.12 546.70,152.20 547.00,149.67 547.30,151.33 547.60,151.07 547.90,152.65 548.20,150.32 548.50,151.20 548.80,151.64 549.10,151.62 549.40,152.97 549.70,151.57 550.00,153.01 550.30,150.61 550.60,150.30 550.90,153.37 551.20,152.62 551.50,152.71 551.80,152.38 552.10,152.78 552.40,151.12 552.70,153.32 553.00,151.87 553.30,153.42 553.60,152.56 553.90,150.53 554.20,151.25 554.50,153.69 554.80,152.45 555.10,152.22 555.40,152.88 555.70,152.23 556.00,152.13 556.30,152.79 556.60,152.85 556.90,154.23 557.20,152.77 557.50,154.61 557.80,154.54 558.10,154.46 558.40,153.81 558.70,152.88 559.00,152.88 559.30,152.60 559.60,152.01 559.90,152.68 560.20,152.10 560.50,154.38 560.80,153.27 561.10,152.28 561.40,150.81 561.70,152.67 562.00,152.31 562.30,151.64 562.60,151.59 562.90,150.47 563.20,153.30 563.50,152.67 563.80,155.32 564.10,152.71 564.40,152.60 564.70,154.21 565.00,152.91 565.30,152.95 565.60,152.43 565.90,152.21 566.20,154.33 566.50,153.85 566.80,154.59 567.10,152.54 567.40,152.94 567.70,152.05 568.00,153.92 568.30,151.58 568.60,153.55 568.90,154.10 569.20,154.44 569.50,152.10 569.80,154.15 570.10,152.36 570.40,152.33 570.70,151.77 571.00,154.26 571.30,154.76 571.60,152.52 571.90,152.35 572.20,152.77 572.50,155.60 572.80,154.09 573.10,152.53 573.40,151.26 573.70,152.35 574.00,154.19 574.30,154.83 574.60,152.66 574.90,152.20 575.20,152.34 575.50,150.91 575.80,153.66 576.10,151.61 576.40,153.70 576.70,150.86 577.00,151.24 577.30,152.73 577.60,151.60 577.90,153.08 578.20,152.23 578.50,150.97 578.80,152.69 579.10,152.83 579.40,149.99 579.70,153.65 580.00,152.25 580.30,152.43 580.60,149.73 580.90,150.80 581.20,151.09 581.50,152.45 581.80,149.84 582.10,150.35 582.40,149.14 582.70,150.87 583.00,151.40 583.30,149.31 583.60,150.36 583.90,151.42 584.20,152.45 584.50,151.50 584.80,150.50 585.10,149.60 585.40,149.82 585.70,150.08 586.00,150.88 586.30,150.68 586.60,152.40 586.90,151.03 587.20,149.68 587.50,152.31 587.80,151.73 588.10,150.91 588.40,150.12 588.70,149.00 589.00,149.88 589.30,151.86 589.60,150.19 589.90,149.72 590.20,151.28 590.50,151.38 590.80,151.79 591.10,151.90 591.40,152.71 591.70,150.51 592.00,152.39 592.30,150.48 592.60,152.22 592.90,151.76 593.20,151.89 593.50,152.67 593.80,151.74 594.10,152.92 594.40,152.74 594.70,152.05 595.00,151.40 595.30,151.26 595.60,151.54 595.90,151.91 596.20,152.13 596.50,155.18 596.80,152.88 597.10,153.05 597.40,151.45 597.70,151.64 598.00,152.07 598.30,152.61 598.60,151.41 598.90,154.09 599.20,151.95 599.50,153.62 599.80,150.23 600.10,152.59 600.40,152.90 600.70,152.84 601.00,153.28 601.30,152.99 601.60,152.90 601.90,150.87 602.20,152.08 602.50,150.48 602.80,153.49 603.10,153.20 603.40,152.73 603.70,152.14 604.00,152.42 604.30,154.88 604.60,154.81 604.90,153.06 605.20,154.45 605.50,151.62 605.80,151.32 606.10,152.82 606.40,152.47 606.70,152.84 607.00,153.64 607.30,156.52 607.60,152.89 607.90,153.65 608.20,153.93 608.50,153.66 608.80,154.68 609.10,155.57 609.40,152.60 609.70,154.05 610.00,153.67 610.10,152.60 610.50,100.00 610.90,152.60 611.20,151.77 611.50,154.64 611.80,154.33 612.10,154.24 612.40,151.82 612.70,153.83 613.00,153.46 613.30,152.80 613.60,153.31 613.90,154.92 614.20,154.76 614.50,154.18 614.80,154.70 615.10,153.56 615.40,154.21 615.70,154.14 616.00,154.62 616.30,153.96 616.60,153.84 616.90,153.80 617.20,153.24 617.50,156.06 617.80,154.28 618.10,154.14 618.40,155.93 618.70,154.98 619.00,151.95 619.30,154.13 619.60,154.20 619.90,155.17 620.20,154.53 620.50,153.91 620.80,151.89 621.10,152.12 621.40,153.19 621.70,153.35 622.00,151.76 622.30,152.33 622.60,152.24 622.90,152.64 623.20,152.86 623.50,152.18 623.80,151.17 624.10,153.60 624.40,153.91 624.70,152.17 625.00,153.26 625.30,152.65 625.60,152.83 625.90,152.63 626.20,151.36 626.50,152.68 626.80,153.11 627.10,151.20 627.40,154.05 627.70,154.18 628.00,153.92 628.30,154.09 628.60,152.86 628.90,151.79 629.20,151.55 629.50,151.36 629.80,152.31 630.10,152.19 630.40,152.92 630.70,150.26 631.00,154.62 631.30,154.62 631.60,152.35 631.90,153.09 632.20,152.92 632.50,152.75 632.80,152.31 633.10,152.43 633.40,151.76 633.70,152.79 634.00,152.62 634.30,153.00 634.60,151.85 634.90,152.77 635.20,152.80 635.50,153.38 635.80,151.74 636.10,153.24 636.40,153.82 636.70,153.45 637.00,152.50 637.30,152.39 637.60,152.65 637.90,153.62 638.20,154.45 638.50,152.75 638.80,152.27 639.10,153.29 639.40,153.12 639.70,152.01 640.00,152.18 640.30,152.82 640.60,153.59 640.90,151.72 641.20,151.90 641.50,153.42 641.80,151.69 642.10,153.03 642.40,153.27 642.70,152.81 643.00,151.91 643.30,152.87 643.60,152.61 643.90,153.29 644.20,152.12 644.50,154.06 644.80,151.31 645.10,152.82 645.40,153.03 645.70,154.00 646.00,152.45 646.30,153.62 646.60,152.53 646.90,153.86 647.20,154.88 647.50,152.77 647.80,153.64 648.10,152.29 648.40,154.22 648.70,154.48 649.00,153.33 649.30,152.19 649.60,153.75 649.90,154.52 650.20,154.48 650.50,154.22 650.80,151.60 651.10,152.76 651.40,154.87 651.70,152.24 652.00,154.60 652.30,155.35 652.60,154.23 652.90,154.58 653.20,153.12 653.50,152.22 653.80,153.32 654.10,153.20 654.40,153.33 654.70,154.04 655.00,153.17 655.30,153.46 655.60,153.65 655.90,153.17 656.20,154.97 656.50,153.51 656.80,153.09 657.10,152.73 657.40,152.25 657.70,154.15 658.00,152.88 658.30,151.57 658.60,152.01 658.90,152.35 659.20,151.96 659.50,153.40 659.80,151.07 660.10,152.64 660.40,152.20 660.70,150.80 661.00,151.93 661.30,151.71 661.60,152.22 661.90,151.18 662.20,151.86 662.50,149.81 662.80,150.32 663.10,152.11 663.40,152.30 663.70,151.18 664.00,150.53 664.30,152.16 664.60,148.93 664.90,150.17 665.20,151.60 665.50,151.54 665.80,149.82 666.10,148.94 666.40,152.25 666.70,150.93 667.00,149.87 667.30,150.81 667.60,151.65 667.90,148.15 668.20,151.86 668.50,151.50 668.80,148.69 669.10,151.56 669.40,149.03 669.70,151.97 670.00,151.25 670.30,153.14 670.60,150.31 670.90,150.96 671.20,152.03 671.50,150.39 671.80,150.36 672.10,150.73 672.40,151.08 672.70,150.11 673.00,151.72 673.30,151.82 673.60,151.39" fill="none" stroke="#0000ff" stroke-width="2.7" stroke-linejoin="round"/><polyline points="76.40,91.06 76.74,92.12 77.08,91.17 77.43,92.68 77.79,92.28 78.17,92.60 78.58,94.19 79.01,93.41 79.44,93.52 79.91,94.17 80.40,94.50 80.89,93.71 81.33,93.85 81.72,92.61 82.08,92.62 82.42,92.22 82.77,91.32 83.11,90.85 83.47,90.44 83.86,90.96 84.28,90.71 84.69,90.35 85.11,90.31 85.54,89.21 85.98,89.73 86.45,89.75 86.94,89.97 87.44,89.03 87.92,89.42 88.38,88.65 88.81,89.81 89.23,89.06 89.63,89.82 90.03,91.64 90.42,89.97 90.81,92.09 91.19,92.13 91.55,92.09 91.89,92.92 92.23,93.33 92.55,94.02 92.88,93.64 93.20,93.80 93.53,94.17 93.86,94.32 94.19,95.26 94.51,95.19 94.84,96.69 95.16,95.31 95.48,96.15 95.81,96.62 96.13,96.32 96.46,99.09 96.78,96.89 97.10,98.55 97.41,98.79 97.72,100.49 98.04,98.70 98.36,100.91 98.69,100.21 99.04,100.91 99.41,100.94 99.81,102.02 100.26,101.16 100.73,101.96 101.20,102.39 101.63,103.53 102.00,101.33 102.31,104.08 102.61,104.13 102.93,103.66 103.29,104.48 103.72,104.26 104.19,105.69 104.69,104.90 105.18,104.68 105.68,104.69 106.18,104.71 106.68,104.75 107.18,104.37 107.68,106.20 108.15,103.97 108.59,103.19 108.95,105.62 109.26,106.00 109.47,106.76 109.66,106.88 109.80,107.39 109.91,108.17 110.00,109.04 110.07,108.69 110.14,109.23 110.19,111.11 110.24,110.76 110.29,110.35 110.33,112.83 110.38,112.40 110.44,112.08 110.49,112.23 110.54,113.61 110.60,113.43 110.65,113.79 110.69,114.14 110.73,115.12 110.76,116.58 110.79,116.16 110.81,116.05 110.83,117.82 110.85,117.96 110.87,118.92 110.88,119.64 110.88,119.32 110.89,119.83 110.90,120.39 110.91,120.24 110.91,121.82 110.91,122.74 110.92,122.52 110.92,122.77 110.92,123.26 110.93,123.45 110.93,123.93 110.93,124.68 110.94,124.91 110.94,125.65 110.95,125.47 110.95,127.13 110.96,127.45 110.97,127.23 110.97,127.04 110.98,128.91 110.99,130.08 111.00,129.48 111.01,130.13 111.02,130.58 111.02,131.81 111.03,131.37 111.04,133.01 111.05,132.73 111.06,133.97 111.07,133.94 111.07,134.28 111.08,134.03 111.09,135.00 111.10,135.76 111.11,136.81 111.12,137.06 111.12,137.00 111.13,138.16 111.13,139.01 111.14,138.83 111.14,139.15 111.15,139.68 111.15,140.90 111.16,141.24 111.17,140.86 111.17,142.14 111.18,142.13 111.18,142.46 111.19,144.16 111.19,144.41 111.20,143.98 111.21,144.96 111.21,145.72 111.22,145.53 111.22,146.34 111.23,147.31 111.23,146.34 111.23,148.11 111.24,148.86 111.24,149.22 111.25,148.61 111.25,150.11 111.26,149.90 111.26,151.26 111.27,151.78 111.27,152.04 111.28,151.96 111.28,152.56 111.29,153.93 111.29,153.38 111.30,154.71 111.30,155.22 111.30,155.25 111.31,157.35 111.31,156.46 111.32,158.20 111.32,156.20 111.33,156.57 111.33,159.00 111.34,159.30 111.34,159.23 111.35,159.88 111.35,159.27 111.35,160.54 111.36,160.79 111.36,161.78 111.37,162.95 111.37,162.95 111.38,163.64 111.38,163.50 111.39,164.15 111.39,164.98 111.40,165.24 111.40,166.67 111.41,165.89 111.41,168.05 111.42,166.83 111.42,168.55 111.43,167.95 111.43,169.90 111.44,169.50 111.44,170.15 111.45,170.86 111.45,170.53 111.46,170.79 111.46,170.70 111.47,173.15 111.47,172.50 111.48,173.06 111.48,173.89 111.49,175.61 111.49,173.88 111.50,175.56 111.50,175.68 111.51,176.73 111.52,175.83 111.52,177.17 111.53,178.42 111.54,179.35 111.55,179.87 111.55,178.90 111.56,179.95 111.57,180.35 111.57,180.09 111.58,180.55 111.59,182.37 111.59,182.56 111.60,182.83 111.61,184.14 111.61,183.31 111.62,184.73 111.63,184.92 111.63,185.38 111.64,186.21 111.65,186.52 111.66,187.07 111.67,187.57 111.68,189.08 111.69,188.23 111.70,189.52 111.71,189.78 111.72,189.70 111.73,190.89 111.74,190.40 111.75,192.11 111.76,191.43 111.77,192.12 111.78,193.10 111.79,193.91 111.80,194.46 111.82,194.95 111.84,194.79 111.85,194.84 111.87,196.24 111.88,196.59 111.90,196.34 111.92,197.99 111.93,198.03 111.95,197.83 111.96,199.17 111.98,198.61 112.00,199.38 112.02,200.65 112.04,199.97 112.06,201.43 112.07,201.10 112.09,202.85 112.11,202.47 112.12,203.51 112.14,203.00 112.16,204.20 112.17,205.47 112.19,205.68 112.21,204.80 112.23,206.96 112.25,207.44 112.28,207.18 112.31,208.75 112.34,207.76 112.39,208.85 112.44,210.06 112.50,210.68 112.58,211.15 112.65,210.22 112.76,210.30 112.87,212.09 112.99,211.48 113.12,212.74 113.26,212.53 113.41,214.42 113.57,214.74 113.74,215.06 113.93,215.20 114.15,215.66 114.41,215.89 114.76,216.64 115.22,216.54 115.58,216.34 115.87,215.40 116.11,216.36 116.34,214.95 116.55,215.16 116.76,214.67 116.95,212.88 117.15,211.94 117.34,213.24 117.54,211.80 117.74,211.62 117.95,210.96 118.16,210.74 118.39,209.50 118.63,209.72 118.87,209.06 119.12,208.90 119.36,207.07 119.61,208.53 119.86,207.80 120.11,206.14 120.36,206.30 120.62,206.33 120.87,206.26 121.13,205.45 121.39,205.85 121.65,204.61 121.91,203.57 122.17,203.34 122.43,203.76 122.69,202.52 122.95,202.97 123.21,202.65 123.47,201.96 123.72,201.79 123.98,200.64 124.23,200.31 124.49,199.53 124.76,199.10 125.02,198.10 125.29,198.28 125.56,197.55 125.83,196.92 126.12,197.45 126.40,197.23 126.70,196.35 127.01,196.98 127.32,196.33 127.65,196.02 127.98,194.66 128.33,193.77 128.68,194.64 129.03,194.14 129.39,194.04 129.76,193.51 130.13,193.69 130.51,192.44 130.92,192.72 131.34,191.51 131.78,190.42 132.25,191.36 132.73,192.43 133.23,190.52 133.72,192.23 134.19,191.38 134.63,191.78 135.06,192.30 135.47,192.69 135.85,192.30 136.23,193.28 136.60,193.82 136.95,194.40 137.30,193.80 137.65,195.55 137.99,196.13 138.31,196.82 138.62,194.95 138.92,196.27 139.20,195.46 139.48,197.22 139.74,197.75 140.00,197.15 140.24,197.33 140.49,198.83 140.72,199.53 140.95,199.13 141.18,199.89 141.41,198.98 141.63,200.51 141.85,201.47 142.08,201.93 142.30,203.23 142.52,202.05 142.74,201.83 142.96,203.90 143.17,203.73 143.37,204.71 143.56,205.43 143.74,205.83 143.91,206.81 144.07,207.23 144.22,205.89 144.38,207.33 144.53,209.04 144.69,208.07 144.85,209.37 145.02,209.22 145.21,209.47 145.41,211.13 145.62,211.26 145.88,210.91 146.16,212.01 146.52,211.03 146.92,211.67 147.39,212.81 147.88,212.36 148.38,211.68 148.88,212.54 149.37,212.41 149.87,212.94 150.37,212.75 150.86,212.10 151.33,212.16 151.76,212.62 152.16,212.86 152.55,214.19 152.92,214.60 153.29,214.80 153.67,214.54 154.05,214.48 154.47,215.45 154.90,214.95 155.35,215.51 155.82,214.55 156.29,215.47 156.76,216.76 157.22,215.46 157.68,215.38 158.13,216.40 158.55,217.77 158.95,217.94 159.34,217.17 159.71,217.43 160.07,218.00 160.42,217.86 160.77,218.80 161.12,218.95 161.45,218.63 161.75,219.56 162.04,220.16 162.33,220.21 162.61,220.46 162.91,222.08 163.22,223.07 163.56,222.13 163.94,222.37 164.36,223.18 164.83,222.90 165.33,222.61 165.82,223.87 166.31,222.30 166.79,222.34 167.26,222.21 167.73,221.90 168.20,222.12 168.67,222.45 169.15,222.82 169.63,222.23 170.12,221.72 170.60,220.82 171.08,221.39 171.56,220.72 172.04,221.08 172.51,221.57 172.98,220.94 173.45,220.51 173.91,220.00 174.37,220.25 174.84,220.14 175.30,219.32 175.76,219.38 176.21,220.00 176.66,218.25 177.10,218.75 177.53,218.06 177.94,219.40 178.33,218.52 178.68,218.11 179.01,217.67 179.29,217.19 179.52,216.75 179.69,215.15 179.84,215.78 179.96,215.50 180.05,213.79 180.11,214.65 180.18,214.06 180.24,212.25 180.31,212.38 180.38,211.99 180.44,211.36 180.51,211.41 180.56,209.92 180.59,210.05 180.61,209.82 180.64,209.62 180.66,208.71 180.69,208.04 180.71,208.10 180.74,205.99 180.76,207.25 180.79,206.00 180.81,204.94 180.84,204.93 180.86,203.59 180.88,202.96 180.89,203.49 180.90,202.72 180.91,203.13 180.91,201.66 180.92,200.91 180.93,200.62 180.94,201.72 180.95,200.21 180.96,199.32 180.97,198.60 180.97,198.03 180.98,198.09 180.99,197.95 181.00,197.88 181.01,197.38 181.02,196.35 181.02,195.30 181.02,194.68 181.02,193.30 181.02,193.58 181.02,193.94 181.02,192.99 181.02,192.91 181.02,191.38 181.03,192.23 181.03,191.37 181.03,190.72 181.03,190.43 181.03,188.35 181.03,188.86 181.03,188.15 181.03,189.28 181.03,187.58 181.03,186.89 181.03,187.20 181.03,185.56 181.03,186.55 181.03,184.77 181.02,184.66 181.02,183.64 181.02,184.18 181.02,181.89 181.01,183.11 181.01,181.70 181.01,181.72 181.00,180.50 181.00,180.83 181.00,180.30 181.00,180.05 180.99,179.38 180.99,179.07 180.99,178.79 180.99,177.46 180.98,176.48 180.98,175.93 180.98,176.60 180.98,175.47 180.97,175.82 180.97,174.72 180.97,173.58 180.96,174.24 180.96,174.36 180.96,172.58 180.95,171.63 180.95,171.18 180.95,171.73 180.94,170.34 180.94,169.95 180.94,170.10 180.94,169.20 180.93,168.76 180.93,167.87 180.93,167.31 180.92,167.29 180.92,166.79 180.92,166.55 180.92,165.39 180.92,165.40 180.92,164.98 180.92,164.24 180.92,164.03 180.92,163.80 180.92,162.81 180.92,162.24 180.91,161.11 180.91,161.39 180.91,160.64 180.91,160.01 180.91,159.20 180.91,159.54 180.91,160.23 180.91,158.45 180.91,157.74 180.92,157.45 180.92,156.34 180.93,156.25 180.93,155.29 180.94,154.81 180.95,154.83 180.95,154.33 180.96,153.63 180.96,152.72 180.97,152.85 180.97,151.54 180.98,152.16 180.99,150.99 180.99,150.69 181.00,150.66 181.01,150.03 181.02,148.42 181.03,148.54 181.04,148.41 181.05,147.04 181.06,145.75 181.08,146.65 181.09,146.17 181.10,145.95 181.11,145.24 181.12,144.77 181.13,144.34 181.15,144.52 181.16,143.49 181.17,143.02 181.18,141.96 181.19,142.37 181.21,141.08 181.22,141.14 181.23,138.93 181.24,139.84 181.25,139.14 181.27,138.42 181.28,138.97 181.29,137.94 181.30,137.11 181.32,136.38 181.33,137.32 181.34,136.14 181.36,135.59 181.37,134.24 181.38,134.98 181.39,134.03 181.41,133.04 181.42,132.64 181.43,131.22 181.45,132.09 181.46,130.54 181.48,131.20 181.49,129.94 181.50,129.33 181.52,129.42 181.53,128.83 181.54,127.52 181.56,127.66 181.57,127.56 181.59,126.55 181.60,125.40 181.62,125.56 181.63,124.63 181.65,124.36 181.66,124.23 181.68,123.67 181.70,123.08 181.71,121.71 181.73,122.41 181.75,121.58 181.76,120.96 181.78,120.80 181.80,121.36 181.81,118.93 181.83,118.24 181.85,119.16 181.86,117.73 181.88,118.48 181.90,116.62 181.92,116.42 181.94,116.70 181.96,116.25 181.98,115.47 182.00,114.98 182.02,114.13 182.04,113.44 182.06,113.09 182.08,113.47 182.10,112.63 182.13,111.72 182.15,111.40 182.17,111.21 182.19,110.92 182.21,109.63 182.24,109.17 182.26,108.91 182.28,109.77 182.30,107.86 182.32,107.97 182.34,105.80 182.36,106.72 182.38,104.88 182.41,104.57 182.43,104.34 182.45,104.13 182.47,103.82 182.49,103.44 182.51,102.85 182.53,101.96 182.56,103.26 182.58,101.45 182.60,101.12 182.63,101.43 182.66,100.30 182.69,99.57 182.72,98.92 182.74,99.34 182.78,97.08 182.82,96.66 182.86,96.82 182.90,95.02 182.95,95.27 183.00,95.91 183.05,94.46 183.12,94.34 183.19,94.16 183.26,92.56 183.34,92.92 183.43,91.89 183.51,91.12 183.60,91.12 183.69,90.76 183.80,90.06 183.94,89.43 184.13,89.93 184.47,89.70 184.91,89.52 185.25,89.50 185.54,89.34 185.82,89.89 186.10,90.14 186.38,91.33 186.67,92.16 187.00,92.54 187.36,92.33 187.73,92.44 188.12,93.10 188.51,93.37 188.90,93.97 189.28,94.82 189.65,93.87 189.99,95.88 190.31,93.77 190.60,94.37 190.85,94.96 191.09,95.69 191.31,96.61 191.52,98.43 191.72,97.25 191.91,98.78 192.12,98.37 192.32,99.13 192.54,98.88 192.76,101.29 192.97,100.37 193.17,100.48 193.36,102.66 193.55,101.88 193.74,102.48 193.94,102.61 194.14,102.66 194.35,102.76 194.56,103.95 194.80,105.46 195.06,105.18 195.35,105.23 195.68,106.33 196.06,105.48 196.51,107.05 197.00,106.32 197.50,105.85 198.00,106.73 198.50,106.63 199.00,106.16 199.48,106.62 199.91,107.32 200.30,107.89 200.67,106.89 201.02,106.19 201.36,109.34 201.70,108.32 202.06,108.58 202.45,109.39 202.88,109.13 203.37,110.11 203.86,108.64 204.28,109.01 204.67,108.07 205.03,109.37 205.37,107.95 205.70,108.38 206.03,108.18 206.37,106.27 206.72,106.50 207.11,106.74 207.52,106.06 207.98,105.77 208.47,106.31 208.96,106.42 209.44,105.68 209.89,106.17 210.34,106.86 210.77,106.85 211.21,107.05 211.64,106.55 212.10,108.47 212.56,107.46 213.05,107.86 213.54,107.61 213.95,107.41 214.33,107.13 214.59,106.12 214.83,106.41 215.03,106.44 215.20,105.49 215.36,105.21 215.50,104.59 215.63,103.84 215.76,104.42 215.88,102.45 215.99,102.59 216.11,102.49 216.22,101.56 216.34,100.28 216.45,99.77 216.58,100.86 216.71,98.88 216.84,98.98 216.99,98.82 217.17,98.08 217.34,96.50 217.54,95.97 217.75,96.58 217.97,95.73 218.19,95.59 218.41,95.35 218.63,94.95 218.87,93.61 219.10,92.97 219.35,94.09 219.60,92.73 219.86,91.98 220.13,91.06 220.41,92.15 220.69,90.67 220.99,90.40 221.29,90.99 221.60,90.41 221.91,90.17 222.23,88.70 222.56,87.37 222.90,88.12 223.25,88.18 223.62,87.62 224.00,88.22 224.40,87.61 224.83,86.52 225.28,87.26 225.75,86.66 226.23,86.32 226.72,87.18 227.22,85.46 227.72,87.06 228.21,87.12 228.71,85.32 229.19,86.57 229.65,86.78 230.09,86.44 230.51,87.04 230.92,87.18 231.33,87.99 231.73,87.92 232.12,87.29 232.50,89.60 232.87,89.76 233.24,89.07 233.60,90.44 233.95,91.48 234.29,89.71 234.63,90.76 234.96,91.06 235.29,92.09 235.61,91.96 235.91,91.70 236.20,93.70 236.47,93.17 236.73,94.22 236.99,95.59 237.25,94.20 237.50,94.83 237.76,96.05 238.01,95.87 238.28,96.67 238.55,96.78 238.85,98.86 239.15,97.96 239.48,98.16 239.82,98.40 240.20,98.88 240.59,97.99 240.98,99.10 241.40,100.00 241.82,99.09 242.25,100.09 242.69,100.25 243.14,100.21 243.60,102.23 244.06,101.35 244.52,101.31 245.00,100.77 245.50,101.37 246.00,101.18 246.49,101.33 246.99,101.54 247.49,102.94 247.99,102.31 248.47,102.65 248.92,102.66 249.33,103.82 249.68,102.08 249.98,102.10 250.25,103.42 250.49,103.89 250.70,104.21 250.90,104.27 251.07,105.53 251.23,106.63 251.37,106.20 251.51,106.41 251.63,107.75 251.75,107.34 251.86,107.79 251.98,108.69 252.07,107.62 252.15,110.61 252.24,109.91 252.30,110.78 252.35,111.15 252.40,111.71 252.45,111.16 252.47,113.52 252.49,113.30 252.51,113.64 252.52,115.85 252.53,113.70 252.53,115.40 252.53,115.40 252.53,115.06 252.52,117.62 252.52,116.03 252.51,117.54 252.51,117.91 252.50,118.57 252.49,118.39 252.49,120.28 252.48,120.11 252.48,119.69 252.48,120.23 252.47,121.62 252.47,121.26 252.47,122.72 252.48,123.16 252.48,123.11 252.49,122.80 252.49,123.68 252.50,125.18 252.50,125.15 252.51,127.07 252.51,126.19 252.51,127.19 252.52,127.87 252.52,128.01 252.52,128.65 252.53,129.57 252.53,129.37 252.53,130.16 252.54,130.24 252.54,132.16 252.54,131.56 252.55,132.46 252.55,130.67 252.55,132.67 252.55,132.78 252.55,133.98 252.55,134.19 252.54,134.33 252.54,135.29 252.54,136.45 252.53,137.10 252.53,136.64 252.53,138.10 252.53,137.59 252.52,138.83 252.52,138.44 252.52,140.09 252.51,141.35 252.51,140.28 252.51,141.69 252.51,140.59 252.50,141.58 252.50,144.06 252.50,142.92 252.49,143.76 252.49,142.98 252.48,144.45 252.48,144.49 252.48,146.18 252.47,145.64 252.47,147.99 252.46,146.30 252.46,147.66 252.45,146.76 252.45,148.22 252.44,149.69 252.44,149.39 252.43,149.18 252.43,150.75 252.42,151.53 252.42,151.72 252.42,152.55 252.41,151.60 252.41,154.05 252.40,153.88 252.40,152.69 252.39,155.58 252.39,154.68 252.38,155.77 252.38,154.77 252.38,156.08 252.37,155.86 252.37,157.96 252.37,157.82 252.36,157.90 252.36,158.73 252.35,160.13 252.35,159.49 252.35,160.80 252.34,160.25 252.34,160.46 252.34,161.66 252.33,162.28 252.33,163.06 252.33,164.02 252.32,163.71 252.32,164.24 252.32,165.42 252.31,165.71 252.31,165.93 252.30,166.60 252.30,165.64 252.30,167.13 252.29,167.00 252.29,168.24 252.29,169.50 252.29,168.45 252.29,170.51 252.29,170.12 252.29,170.83 252.29,171.18 252.29,172.38 252.29,172.05 252.29,171.71 252.29,173.65 252.29,173.87 252.29,174.83 252.29,175.32 252.29,174.73 252.29,176.08 252.29,176.53 252.29,176.91 252.29,177.51 252.29,178.14 252.29,178.12 252.29,178.87 252.29,180.04 252.29,179.32 252.29,180.41 252.29,180.35 252.29,180.82 252.29,181.71 252.30,182.56 252.31,183.87 252.31,183.33 252.32,184.52 252.33,184.78 252.33,185.00 252.34,183.60 252.35,186.03 252.35,186.49 252.36,186.33 252.37,187.53 252.37,188.84 252.38,187.76 252.39,188.65 252.39,190.00 252.40,188.87 252.41,189.83 252.41,191.13 252.42,192.03 252.42,192.68 252.43,192.91 252.44,194.34 252.45,193.69 252.47,193.18 252.49,194.34 252.51,195.33 252.53,195.68 252.55,194.79 252.57,196.68 252.59,196.47 252.61,197.33 252.63,198.83 252.65,198.35 252.67,198.55 252.68,199.38 252.70,199.56 252.72,201.68 252.74,201.44 252.76,202.00 252.78,201.54 252.80,202.06 252.82,203.10 252.87,202.14 252.91,204.56 252.96,203.67 253.01,205.00 253.06,205.64 253.11,205.46 253.15,206.64 253.20,207.35 253.25,208.57 253.30,208.16 253.35,209.51 253.40,209.20 253.44,209.30 253.49,210.43 253.57,210.10 253.65,210.99 253.73,211.77 253.81,212.57 253.89,212.55 253.98,212.00 254.06,214.15 254.16,213.96 254.25,214.17 254.35,214.35 254.46,215.67 254.58,216.01 254.69,216.71 254.84,216.70 254.98,218.18 255.15,217.57 255.35,218.43 255.59,218.74 255.88,219.67 256.26,218.93 256.71,219.33 257.20,219.32 257.66,218.85 258.08,218.60 258.48,217.96 258.85,218.81 259.22,218.91 259.56,217.06 259.90,217.75 260.23,216.22 260.54,216.03 260.85,215.93 261.13,215.78 261.39,215.55 261.61,213.68 261.83,213.60 262.02,213.97 262.21,213.31 262.39,214.27 262.56,212.36 262.72,211.66 262.88,212.30 263.04,209.50 263.20,209.51 263.36,211.78 263.53,209.31 263.71,209.26 263.90,208.64 264.09,207.76 264.29,207.75 264.50,206.59 264.70,207.50 264.91,206.93 265.12,206.42 265.33,205.01 265.54,203.95 265.75,204.36 265.96,203.54 266.17,203.98 266.38,202.32 266.59,202.28 266.80,202.46 267.01,202.18 267.21,201.53 267.41,200.26 267.62,200.15 267.81,201.30 268.01,200.20 268.21,198.68 268.40,199.86 268.60,198.18 268.79,197.79 268.99,196.84 269.19,197.78 269.39,196.48 269.59,195.91 269.79,194.95 270.00,194.28 270.21,194.70 270.43,194.15 270.64,194.63 270.86,192.70 271.07,192.57 271.28,192.93 271.48,192.37 271.70,191.02 271.91,191.85 272.14,190.82 272.37,190.62 272.62,189.86 272.90,189.82 273.20,188.59 273.53,188.34 273.90,188.78 274.28,188.05 274.70,187.75 275.15,188.00 275.63,187.34 276.13,187.47 276.60,186.07 277.04,187.31 277.45,188.41 277.82,187.72 278.19,188.41 278.55,189.07 278.89,189.22 279.23,190.18 279.57,190.32 279.91,190.30 280.25,191.42 280.58,190.93 280.91,191.10 281.23,192.10 281.54,192.67 281.85,192.60 282.15,192.44 282.45,193.18 282.74,194.03 283.03,194.71 283.31,195.78 283.58,195.04 283.85,195.42 284.12,194.70 284.38,197.17 284.63,197.39 284.87,197.28 285.10,197.29 285.31,196.61 285.51,199.07 285.70,198.63 285.86,200.47 286.02,200.49 286.19,201.28 286.33,200.91 286.47,202.18 286.62,201.11 286.76,203.30 286.90,202.89 287.03,202.68 287.17,203.63 287.31,203.77 287.46,204.99 287.61,204.87 287.76,205.02 287.93,206.04 288.11,206.58 288.29,207.31 288.53,208.04 288.78,208.81 289.12,208.65 289.53,209.68 290.01,207.12 290.41,208.27 290.77,208.51 291.09,206.79 291.41,207.07 291.73,206.94 292.07,205.51 292.44,205.76 292.86,206.22 293.35,205.67 293.79,207.00 294.17,207.82 294.50,206.74 294.81,206.49 295.11,207.55 295.41,207.63 295.72,207.51 296.04,208.51 296.38,208.84 296.70,209.29 297.03,210.43 297.35,210.90 297.66,210.90 297.98,210.82 298.29,211.68 298.61,211.83 298.93,212.33 299.25,212.00 299.57,211.12 299.90,213.87 300.24,213.35 300.58,213.78 300.92,214.43 301.25,214.78 301.58,215.02 301.88,216.51 302.18,216.07 302.45,216.55 302.73,216.30 303.01,217.19 303.28,217.94 303.55,218.04 303.82,218.70 304.10,218.36 304.37,219.56 304.66,219.14 304.95,219.89 305.25,220.10 305.56,221.06 305.88,221.99 306.20,221.89 306.57,221.53 306.94,222.47 307.34,223.29 307.79,223.33 308.27,223.32 308.76,222.36 309.26,222.61 309.72,222.36 310.17,222.27 310.61,222.45 311.04,222.07 311.46,221.58 311.89,221.86 312.31,220.83 312.76,220.83 313.20,220.87 313.66,219.78 314.11,219.86 314.55,219.32 315.00,219.30 315.45,219.62 315.90,219.40 316.34,219.45 316.78,219.22 317.23,218.11 317.67,219.67 318.11,219.12 318.55,217.35 318.99,217.44 319.44,217.34 319.90,217.54 320.35,217.58 320.80,217.00 321.24,215.23 321.66,218.20 322.04,216.68 322.38,216.29 322.67,214.94 322.92,215.02 323.12,215.06 323.28,213.75 323.41,214.23 323.53,213.11 323.62,213.51 323.71,212.11 323.80,212.47 323.85,210.13 323.91,211.45 323.96,210.36 324.01,209.37 324.06,209.74 324.11,208.44 324.17,208.59 324.22,208.17 324.26,207.73 324.28,207.93 324.30,206.93 324.32,207.10 324.34,205.53 324.36,204.70 324.38,204.35 324.40,203.59 324.42,202.38 324.44,202.70 324.46,201.40 324.48,201.44 324.50,200.93 324.51,200.28 324.51,199.48 324.52,199.68 324.53,199.10 324.53,199.43 324.54,198.49 324.55,198.18 324.55,196.83 324.56,196.43 324.57,195.37 324.57,195.10 324.58,195.54 324.59,194.50 324.59,194.03 324.60,193.28 324.60,194.04 324.60,192.58 324.60,192.79 324.60,191.59 324.60,191.68 324.60,190.04 324.60,189.31 324.60,190.27 324.60,188.93 324.60,188.77 324.60,188.64 324.60,188.03 324.60,187.28 324.60,185.90 324.60,185.70 324.60,185.64 324.60,185.50 324.60,184.92 324.59,184.33 324.59,183.16 324.59,183.11 324.58,183.19 324.58,181.60 324.58,181.27 324.58,181.65 324.57,181.56 324.57,180.36 324.57,179.62 324.56,178.55 324.56,178.54 324.56,177.64 324.55,177.70 324.55,177.54 324.55,176.89 324.54,176.89 324.54,175.01 324.54,174.36 324.53,175.43 324.53,174.74 324.53,173.04 324.52,173.20 324.52,171.98 324.52,172.10 324.51,171.80 324.51,171.69 324.50,170.04 324.50,169.36 324.50,169.96 324.49,168.92 324.49,169.45 324.49,167.43 324.48,167.23 324.48,165.49 324.48,167.29 324.47,166.91 324.47,165.86 324.47,164.94 324.47,163.41 324.47,163.30 324.47,163.30 324.46,164.25 324.46,163.15 324.46,161.76 324.46,161.87 324.46,161.45 324.46,160.92 324.45,159.57 324.45,159.36 324.45,159.71 324.45,159.03 324.45,157.92 324.45,159.07 324.45,157.28 324.46,156.37 324.46,156.66 324.46,156.10 324.47,155.04 324.47,155.69 324.47,154.76 324.48,153.63 324.48,153.54 324.48,153.02 324.49,151.95 324.49,152.06 324.49,150.80 324.50,150.48 324.50,150.51 324.50,148.87 324.51,148.91 324.51,148.04 324.52,148.54 324.52,147.28 324.53,148.21 324.53,147.53 324.53,145.71 324.54,145.71 324.54,144.91 324.55,144.62 324.55,144.52 324.56,144.50 324.56,144.42 324.56,143.72 324.56,141.37 324.57,141.34 324.57,141.01 324.57,140.43 324.57,140.21 324.57,140.01 324.57,138.85 324.57,138.27 324.57,139.52 324.57,138.03 324.57,138.41 324.57,136.28 324.57,136.94 324.57,136.62 324.57,135.91 324.57,134.17 324.57,134.45 324.57,133.16 324.57,132.45 324.57,132.61 324.57,132.43 324.57,131.50 324.57,131.06 324.57,131.00 324.57,129.72 324.56,129.88 324.56,129.58 324.56,129.01 324.56,128.46 324.56,127.03 324.56,126.95 324.56,126.37 324.56,126.55 324.56,124.58 324.56,125.21 324.56,123.67 324.56,124.51 324.56,123.31 324.56,123.15 324.56,123.18 324.56,123.14 324.57,121.03 324.57,121.19 324.57,119.46 324.57,120.00 324.57,119.21 324.57,119.52 324.57,118.56 324.57,118.18 324.58,116.96 324.58,116.93 324.59,115.96 324.59,116.13 324.60,114.68 324.60,115.28 324.60,115.28 324.61,115.68 324.61,114.52 324.62,113.91 324.62,113.10 324.62,113.07 324.63,111.60 324.64,111.36 324.65,109.51 324.66,109.83 324.67,110.31 324.68,108.10 324.70,108.81 324.71,108.09 324.72,107.41 324.73,107.31 324.74,106.64 324.75,105.46 324.76,105.58 324.78,104.05 324.80,105.52 324.82,104.11 324.85,104.16 324.87,102.59 324.90,103.73 324.92,102.74 324.94,101.84 324.97,101.26 324.99,100.86 325.02,99.70 325.04,99.55 325.08,99.00 325.13,98.86 325.18,99.05 325.23,98.33 325.28,97.31 325.33,97.02 325.38,95.98 325.43,95.37 325.48,94.20 325.55,93.91 325.63,93.46 325.71,93.63 325.80,93.08 325.89,92.95 325.98,92.88 326.08,92.11 326.19,91.13 326.31,90.46 326.44,90.08 326.58,90.14 326.75,88.76 326.94,87.95 327.17,88.27 327.49,88.64 327.93,88.52 328.43,88.20 328.86,86.95 329.24,88.32 329.57,89.20 329.89,89.82 330.19,90.67 330.48,89.41 330.76,90.60 331.05,89.87 331.32,91.09 331.60,91.40 331.88,92.53 332.15,92.56 332.43,91.84 332.71,93.22 333.00,93.92 333.29,94.98 333.58,94.08 333.88,94.40 334.17,94.97 334.47,96.33 334.75,95.97 335.03,96.60 335.30,97.23 335.58,96.90 335.85,98.46 336.12,97.26 336.39,99.73 336.67,98.66 336.95,98.94 337.24,99.44 337.53,99.59 337.83,100.17 338.15,100.60 338.47,100.76 338.80,101.72 339.16,102.36 339.52,102.18 339.91,102.94 340.32,102.63 340.73,103.55 341.17,103.45 341.62,103.21 342.08,104.12 342.55,104.13 343.02,104.00 343.50,104.50 343.99,104.97 344.47,104.04 344.96,104.56 345.46,105.32 345.95,105.03 346.45,105.55 346.94,106.57 347.44,104.44 347.94,105.43 348.44,105.02 348.94,106.11 349.44,105.60 349.94,104.43 350.44,105.87 350.94,105.21 351.44,104.98 351.93,105.11 352.43,105.16 352.92,104.42 353.40,104.59 353.88,105.48 354.35,103.89 354.80,103.92 355.24,104.50 355.67,103.22 356.07,103.37 356.45,103.34 356.81,102.27 357.15,102.27 357.45,101.51 357.75,101.53 358.04,101.41 358.30,100.83 358.57,100.54 358.83,100.19 359.07,100.00 359.31,98.46 359.56,98.73 359.80,99.16 360.04,97.64 360.28,97.18 360.53,96.91 360.78,96.04 361.03,96.37 361.28,95.60 361.55,95.09 361.83,95.22 362.10,95.07 362.41,93.12 362.72,93.27 363.03,93.02 363.37,91.97 363.70,92.84 364.04,93.33 364.37,92.18 364.71,92.08 365.05,89.79 365.39,90.33 365.73,89.44 366.07,90.33 366.43,89.44 366.79,89.05 367.14,89.10 367.51,88.93 367.89,89.12 368.27,88.64 368.67,88.08 369.08,86.26 369.49,87.70 369.94,86.79 370.39,85.61 370.86,86.46 371.35,86.12 371.84,86.17 372.34,86.87 372.82,85.62 373.27,87.02 373.71,87.59 374.12,86.48 374.52,88.29 374.90,87.38 375.27,87.67 375.63,89.02 375.99,88.80 376.34,88.07 376.69,89.14 377.04,90.30 377.39,89.92 377.74,90.31 378.11,90.94 378.47,91.28 378.83,91.21 379.20,91.41 379.55,92.59 379.89,93.42 380.22,91.55 380.55,93.69 380.87,94.42 381.20,93.67 381.52,95.45 381.84,94.07 382.17,95.92 382.50,96.69 382.83,97.01 383.18,94.86 383.53,96.85 383.90,96.54 384.28,97.70 384.68,98.61 385.10,98.29 385.52,99.29 385.99,97.48 386.46,98.16 386.94,98.45 387.44,99.25 387.93,99.64 388.43,98.45 388.93,98.43 389.43,99.53 389.93,98.22 390.43,99.37 390.93,98.57 391.43,99.03 391.92,100.38 392.42,99.05 392.90,99.38 393.38,99.01 393.79,100.12 394.17,101.01 394.46,100.89 394.68,100.16 394.86,101.63 394.96,102.83 395.05,101.82 395.09,102.81 395.13,102.84 395.13,103.54 395.14,103.80 395.14,104.09 395.13,105.68 395.13,105.86 395.14,105.09 395.15,106.27 395.17,106.95 395.19,107.23 395.23,108.48 395.26,108.77 395.29,109.61 395.32,109.08 395.35,109.94 395.37,110.62 395.40,111.16 395.42,111.67 395.44,111.93 395.45,112.81 395.47,114.37 395.48,113.43 395.50,113.39 395.51,115.05 395.52,114.83 395.53,116.37 395.54,117.01 395.55,117.89 395.55,117.47 395.56,116.87 395.57,119.34 395.57,119.44 395.58,120.15 395.58,119.94 395.59,120.17 395.59,120.90 395.60,120.28 395.60,122.47 395.61,122.01 395.61,122.51 395.62,123.60 395.62,123.36 395.63,124.87 395.63,124.51 395.64,126.80 395.64,126.63 395.65,126.79 395.66,127.08 395.66,127.42 395.67,127.59 395.68,127.24 395.68,128.56 395.69,128.91 395.70,129.58 395.70,130.44 395.71,129.76 395.71,130.64 395.72,131.48 395.72,132.11 395.73,133.43 395.73,134.98 395.74,133.80 395.74,134.78 395.75,134.88 395.75,135.54 395.76,136.93 395.76,136.49 395.77,137.23 395.77,137.42 395.78,137.52 395.78,139.03 395.78,138.79 395.78,140.27 395.79,139.22 395.79,140.66 395.79,141.90 395.79,141.01 395.79,142.10 395.80,143.28 395.80,143.15 395.80,142.91 395.80,143.69 395.80,144.58 395.80,144.53 395.81,145.14 395.81,145.97 395.81,145.64 395.81,147.89 395.81,147.03 395.81,147.88 395.82,148.45 395.82,149.74 395.82,149.16 395.82,151.11 395.82,151.50 395.82,151.33 395.82,150.58 395.82,151.11 395.82,152.24 395.82,153.06 395.82,153.78 395.82,154.62 395.82,154.67 395.82,154.93 395.82,155.63 395.82,154.67 395.83,157.09 395.83,155.98 395.83,156.23 395.83,157.46 395.83,158.13 395.83,158.15 395.83,159.26 395.83,159.94 395.83,160.76 395.83,161.12 395.83,161.08 395.83,161.95 395.83,163.15 395.83,162.73 395.84,163.30 395.84,162.61 395.84,164.57 395.84,166.12 395.84,165.84 395.84,165.76 395.84,167.14 395.84,167.64 395.84,168.21 395.84,167.19 395.84,167.70 395.84,169.32 395.84,169.71 395.85,170.17 395.85,169.51 395.85,171.36 395.85,172.55 395.85,172.61 395.85,173.94 395.85,173.18 395.86,173.47 395.86,174.99 395.86,175.00 395.86,173.52 395.86,174.47 395.87,176.05 395.87,176.08 395.87,177.98 395.87,178.34 395.88,178.67 395.88,178.20 395.88,178.76 395.88,179.87 395.88,179.69 395.89,180.80 395.89,181.07 395.89,181.86 395.89,181.96 395.90,181.93 395.90,181.14 395.90,182.58 395.90,183.01 395.91,184.80 395.91,184.03 395.92,185.04 395.92,186.18 395.93,186.80 395.93,187.51 395.94,187.66 395.94,188.82 395.95,188.04 395.95,189.59 395.96,188.57 395.96,189.64 395.97,190.64 395.97,191.26 395.98,191.22 395.98,191.49 395.99,191.64 395.99,191.51 396.00,192.20 396.00,194.86 396.01,193.29 396.02,193.93 396.03,194.39 396.04,195.71 396.05,196.22 396.06,196.52 396.07,196.59 396.08,197.79 396.10,197.52 396.11,199.08 396.12,200.28 396.13,199.30 396.14,200.51 396.15,200.57 396.16,201.13 396.17,201.07 396.18,202.42 396.19,202.86 396.20,204.14 396.22,205.32 396.25,203.72 396.27,205.55 396.29,204.87 396.31,205.55 396.34,205.66 396.36,207.16 396.38,208.11 396.40,207.80 396.43,208.50 396.45,208.38 396.47,209.18 396.49,209.08 396.52,210.32 396.55,209.64 396.58,212.74 396.61,212.62 396.63,212.01 396.65,212.57 396.67,213.10 396.68,213.93 396.70,214.50 396.72,216.00 396.74,215.07 396.77,214.70 396.80,216.51 396.83,217.11 396.88,216.85 396.93,218.34 397.02,218.23 397.11,218.35 397.29,219.25 397.53,218.94 397.92,219.76 398.40,220.99 398.85,220.45 399.25,219.80 399.64,219.19 400.02,218.96 400.40,217.75 400.79,218.26 401.20,217.43 401.62,217.22 402.04,218.28 402.45,216.60 402.85,216.78 403.22,216.46 403.56,216.64 403.86,215.49 404.13,215.52 404.38,215.02 404.60,214.23 404.82,213.54 405.02,212.81 405.22,213.62 405.42,211.99 405.61,212.76 405.80,212.60 406.00,210.80 406.20,210.09 406.40,209.61 406.61,209.45 406.83,210.11 407.05,208.39 407.26,207.77 407.48,206.97 407.70,207.57 407.92,207.33 408.13,207.52 408.34,206.32 408.55,205.68 408.75,205.23 408.95,206.54 409.14,205.29 409.33,204.41 409.51,203.20 409.67,202.81 409.84,202.40 409.99,201.92 410.13,201.79 410.27,200.60 410.41,201.68 410.54,199.47 410.68,199.97 410.81,199.55 410.94,199.19 411.07,198.95 411.20,197.84 411.33,197.29 411.47,197.56 411.60,196.99 411.74,195.73 411.88,195.77 412.04,194.05 412.19,194.54 412.35,192.57 412.52,194.10 412.71,192.51 412.89,192.99 413.10,192.25 413.33,191.17 413.56,191.60 413.81,191.65 414.08,189.71 414.36,190.96 414.65,189.65 414.95,188.48 415.27,188.47 415.59,188.47 415.92,188.31 416.27,187.03 416.63,186.94 417.00,187.13 417.39,186.69 417.81,187.44 418.24,186.51 418.71,186.36 419.20,185.21 419.70,185.25 420.18,185.28 420.65,186.05 421.10,186.68 421.54,187.56 421.96,187.40 422.37,186.61 422.75,187.38 423.11,189.06 423.46,188.21 423.79,188.83 424.10,188.07 424.40,188.46 424.68,189.42 424.95,189.98 425.20,190.88 425.44,190.93 425.67,190.43 425.89,193.36 426.10,192.58 426.32,191.80 426.52,194.27 426.72,194.22 426.92,194.07 427.12,194.65 427.32,195.40 427.51,194.18 427.70,196.62 427.90,196.64 428.09,197.35 428.28,197.05 428.48,197.49 428.68,199.27 428.88,196.77 429.09,199.97 429.29,200.39 429.50,199.18 429.70,200.46 429.90,200.64 430.09,201.19 430.26,201.23 430.44,201.66 430.61,202.98 430.78,203.23 430.95,204.21 431.12,204.79 431.30,204.47 431.50,206.53 431.71,206.70 431.94,205.23 432.21,206.49 432.52,206.76 432.94,207.49 433.41,206.72 433.87,208.10 434.29,206.64 434.67,207.83 435.03,205.74 435.39,207.03 435.75,205.75 436.12,205.73 436.52,205.08 436.95,204.85 437.44,203.94 437.93,204.53 438.39,204.40 438.81,204.98 439.20,205.19 439.57,206.22 439.92,206.28 440.26,206.30 440.59,205.80 440.92,207.79 441.22,207.18 441.52,207.80 441.78,208.72 442.03,208.86 442.26,209.38 442.48,209.84 442.70,209.10 442.91,211.10 443.12,211.01 443.34,212.04 443.56,212.08 443.79,212.22 444.03,213.77 444.29,213.41 444.56,214.36 444.84,214.54 445.12,215.07 445.39,215.63 445.66,215.80 445.94,215.30 446.21,216.12 446.49,217.49 446.78,217.00 447.07,217.27 447.38,217.90 447.70,218.83 448.04,218.14 448.38,218.96 448.77,219.04 449.16,219.21 449.60,220.30 450.06,219.73 450.54,220.23 451.03,220.50 451.53,220.61 452.03,220.60 452.53,220.74 453.02,219.80 453.51,218.71 454.01,220.57 454.49,220.93 454.98,219.60 455.46,219.71 455.94,220.08 456.42,218.95 456.90,219.25 457.38,218.88 457.86,219.30 458.33,218.85 458.79,219.61 459.26,217.91 459.72,217.84 460.17,217.22 460.63,217.97 461.07,217.54 461.52,217.25 461.95,217.49 462.38,216.31 462.80,215.76 463.21,217.57 463.60,216.01 463.97,215.10 464.33,215.94 464.65,215.02 464.93,213.97 465.14,214.27 465.32,214.23 465.47,213.56 465.56,212.59 465.64,213.14 465.72,211.14 465.80,211.05 465.88,210.95 465.96,209.57 466.04,210.08 466.12,209.41 466.17,209.27 466.20,208.38 466.23,208.87 466.26,206.40 466.29,206.47 466.32,205.89 466.35,205.70 466.38,205.58 466.41,204.08 466.44,204.79 466.47,204.37 466.50,203.28 466.52,201.89 466.53,202.58 466.54,201.96 466.55,200.64 466.56,200.30 466.57,199.89 466.58,198.86 466.59,199.42 466.60,199.36 466.61,198.41 466.62,197.30 466.63,197.17 466.64,196.69 466.65,197.30 466.66,195.45 466.67,195.50 466.67,194.52 466.67,194.89 466.67,193.23 466.67,193.51 466.67,192.50 466.67,192.56 466.67,190.87 466.67,191.16 466.68,191.36 466.68,190.61 466.68,189.09 466.68,190.74 466.68,188.97 466.68,188.06 466.68,187.50 466.68,186.66 466.68,187.62 466.68,186.97 466.67,186.56 466.67,184.61 466.66,183.60 466.66,182.93 466.66,182.83 466.65,182.87 466.65,182.00 466.64,181.21 466.64,182.00 466.64,180.78 466.63,180.88 466.63,180.91 466.62,179.21 466.62,178.88 466.61,179.43 466.61,177.29 466.61,177.39 466.60,176.50 466.60,176.55 466.59,175.81 466.59,175.79 466.58,174.89 466.58,175.37 466.57,173.70 466.57,173.61 466.56,173.57 466.56,172.14 466.55,171.79 466.55,171.59 466.54,170.92 466.54,171.13 466.53,169.73 466.52,168.77 466.52,169.54 466.51,168.17 466.51,167.78 466.50,167.50 466.50,167.83 466.50,167.13 466.49,166.27 466.49,165.82 466.49,164.91 466.48,165.68 466.48,164.78 466.48,163.16 466.48,163.71 466.47,161.87 466.47,161.68 466.47,161.25 466.46,162.12 466.46,161.84 466.46,160.19 466.45,159.37 466.45,159.96 466.45,158.35 466.45,159.12 466.45,157.10 466.45,157.75 466.46,156.19 466.46,157.21 466.46,155.75 466.47,154.79 466.47,154.74 466.47,152.75 466.48,153.71 466.48,153.57 466.48,154.08 466.49,151.54 466.49,152.39 466.49,151.94 466.50,151.11 466.50,149.98 466.50,149.78 466.51,148.69 466.51,148.85 466.52,147.49 466.52,147.38 466.53,147.24 466.53,146.15 466.54,145.42 466.54,145.64 466.55,145.36 466.55,145.07 466.56,144.43 466.56,144.67 466.57,143.16 466.57,143.47 466.57,141.57 466.57,142.08 466.57,141.62 466.57,141.80 466.57,139.82 466.57,140.79 466.57,139.12 466.57,138.43 466.57,137.19 466.57,138.23 466.57,136.86 466.57,137.19 466.57,136.29 466.57,136.16 466.57,135.22 466.57,134.28 466.57,133.92 466.57,133.69 466.57,133.45 466.57,132.23 466.57,132.74 466.56,130.47 466.56,130.41 466.56,131.10 466.56,130.38 466.56,130.91 466.56,129.82 466.56,128.09 466.55,127.54 466.55,127.70 466.55,127.14 466.55,127.12 466.55,125.87 466.55,125.26 466.55,124.74 466.55,124.67 466.55,123.67 466.55,123.60 466.54,123.63 466.54,122.58 466.54,121.53 466.54,122.00 466.54,121.65 466.54,120.15 466.54,119.94 466.54,118.72 466.54,118.55 466.54,118.00 466.54,117.35 466.55,117.28 466.55,118.33 466.55,117.37 466.56,115.91 466.56,115.93 466.56,115.22 466.57,114.74 466.57,112.98 466.57,113.57 466.57,112.48 466.58,112.39 466.58,112.11 466.58,109.48 466.59,109.61 466.60,110.91 466.61,110.97 466.62,110.20 466.64,108.48 466.65,108.42 466.66,108.54 466.67,107.53 466.68,105.82 466.69,107.12 466.70,105.76 466.71,105.65 466.72,104.09 466.74,103.97 466.76,104.89 466.79,103.38 466.82,103.45 466.84,103.65 466.87,102.19 466.89,101.69 466.92,101.01 466.95,101.18 466.97,100.39 467.00,99.94 467.02,100.13 467.08,98.99 467.14,98.94 467.19,97.17 467.25,97.03 467.31,97.10 467.36,95.70 467.42,94.83 467.48,95.15 467.55,94.40 467.63,94.45 467.72,94.70 467.81,92.95 467.91,92.08 468.01,92.07 468.13,91.41 468.25,90.96 468.40,91.49 468.57,90.68 468.78,90.12 469.05,89.31 469.39,89.69 469.80,88.76 470.28,89.74 470.78,88.68 471.27,88.71 471.76,89.30 472.23,90.33 472.69,88.18 473.12,89.77 473.54,89.03 473.95,89.05 474.34,90.09 474.73,91.19 475.11,89.99 475.47,91.09 475.84,92.79 476.19,92.80 476.55,92.18 476.89,93.16 477.23,93.16 477.54,93.16 477.84,93.41 478.14,95.07 478.40,94.33 478.67,95.07 478.93,95.27 479.17,95.10 479.42,96.33 479.66,98.03 479.90,96.70 480.13,97.73 480.37,98.94 480.61,98.93 480.86,99.07 481.10,99.89 481.35,100.14 481.61,100.34 481.88,100.29 482.15,100.95 482.45,100.56 482.75,102.10 483.06,102.27 483.42,102.38 483.79,102.12 484.17,103.09 484.60,102.56 485.03,104.29 485.49,103.40 485.95,104.83 486.43,103.92 486.91,104.99 487.40,105.03 487.89,105.31 488.38,104.67 488.88,103.75 489.38,105.23 489.87,104.65 490.37,104.15 490.87,104.48 491.36,105.39 491.86,105.68 492.35,105.60 492.84,105.91 493.33,106.21 493.83,105.43 494.33,105.68 494.82,105.58 495.32,105.58 495.82,105.66 496.32,105.82 496.81,105.29 497.28,105.53 497.74,105.80 498.15,104.78 498.52,104.97 498.90,103.76 499.18,103.38 499.46,104.52 499.74,102.98 499.97,103.36 500.20,100.97 500.42,100.28 500.63,101.24 500.83,100.65 501.02,98.96 501.22,100.32 501.41,99.81 501.60,98.54 501.79,98.86 501.98,98.41 502.18,97.63 502.39,96.78 502.59,97.07 502.80,95.95 503.03,95.46 503.27,94.51 503.51,94.96 503.75,95.21 504.05,93.76 504.35,93.35 504.66,92.46 504.98,92.74 505.33,93.03 505.68,92.06 506.03,92.17 506.39,92.13 506.75,90.58 507.11,90.40 507.49,90.81 507.86,89.93 508.24,89.13 508.62,89.45 509.01,89.39 509.41,89.49 509.80,88.00 510.21,88.45 510.63,88.25 511.04,85.98 511.47,87.87 511.91,87.14 512.35,85.97 512.80,87.82 513.27,86.83 513.74,86.56 514.22,87.71 514.72,86.86 515.22,85.56 515.71,86.27 516.20,87.41 516.65,87.32 517.10,87.72 517.52,87.05 517.93,88.04 518.31,87.29 518.69,87.88 519.05,88.72 519.41,88.61 519.76,89.40 520.11,89.31 520.45,89.93 520.80,91.39 521.15,90.83 521.51,91.49 521.88,90.30 522.25,91.14 522.61,92.41 522.97,91.20 523.32,92.30 523.66,92.71 524.00,93.99 524.34,92.59 524.67,93.71 525.00,94.40 525.33,94.85 525.66,94.16 526.00,96.26 526.33,96.31 526.68,97.04 527.03,96.97 527.38,97.35 527.75,97.13 528.12,97.47 528.53,97.19 528.93,98.48 529.37,97.73 529.81,99.37 530.27,99.19 530.75,98.68 531.23,99.30 531.71,98.36 532.19,98.82 532.68,99.14 533.16,98.82 533.65,99.45 534.12,99.83 534.60,99.71 535.09,99.70 535.57,99.62 536.03,99.34 536.41,101.20 536.67,101.02 536.88,102.47 537.02,101.51 537.13,102.40 537.20,103.59 537.25,104.55 537.29,104.78 537.32,105.22 537.34,104.35 537.36,106.01 537.37,107.31 537.38,105.38 537.39,107.40 537.41,109.03 537.42,107.53 537.44,108.85 537.46,110.38 537.49,110.03 537.51,110.29 537.53,111.21 537.56,111.08 537.58,112.14 537.60,112.10 537.63,113.20 537.65,112.67 537.67,113.61 537.68,114.28 537.69,113.33 537.71,115.75 537.72,115.48 537.73,115.82 537.74,115.83 537.76,117.13 537.77,117.12 537.78,118.58 537.78,119.67 537.79,118.91 537.80,119.26 537.80,120.11 537.81,120.53 537.82,121.49 537.82,120.47 537.83,122.51 537.84,122.67 537.84,122.84 537.84,122.74 537.84,124.74 537.85,125.36 537.85,125.38 537.85,126.11 537.86,126.70 537.86,126.81 537.86,127.69 537.87,127.07 537.87,128.69 537.87,127.20 537.87,129.90 537.87,130.67 537.88,130.91 537.88,130.19 537.88,131.03 537.88,132.04 537.88,131.68 537.89,132.94 537.89,133.16 537.89,134.62 537.89,133.91 537.89,134.37 537.89,135.55 537.90,136.34 537.90,136.00 537.90,135.86 537.90,136.41 537.90,136.73 537.90,138.25 537.91,138.07 537.91,139.20 537.91,138.83 537.91,140.02 537.92,141.03 537.92,140.54 537.92,142.39 537.93,142.22 537.93,142.21 537.93,142.99 537.93,143.66 537.94,143.69 537.94,144.34 537.95,145.35 537.95,144.54 537.96,147.69 537.96,147.22 537.97,147.95 537.97,149.08 537.98,148.64 537.99,148.68 537.99,149.13 538.00,150.05 538.00,151.07 538.01,150.18 538.01,152.28 538.01,151.49 538.02,151.56 538.02,153.52 538.03,152.89 538.03,154.14 538.04,153.39 538.04,155.14 538.05,154.91 538.05,156.42 538.05,155.25 538.06,156.28 538.06,156.60 538.06,157.84 538.06,157.59 538.07,158.49 538.07,159.19 538.07,159.44 538.07,160.29 538.07,160.87 538.07,160.22 538.07,162.33 538.07,161.53 538.07,162.22 538.07,164.24 538.07,163.28 538.07,164.11 538.08,165.13 538.08,164.80 538.08,165.62 538.08,166.02 538.08,166.58 538.08,166.48 538.08,168.33 538.08,168.21 538.08,169.06 538.08,169.22 538.08,169.33 538.08,170.89 538.08,170.24 538.08,171.79 538.08,171.24 538.08,171.76 538.07,172.75 538.07,174.61 538.07,174.25 538.08,174.27 538.08,174.96 538.08,175.90 538.08,175.41 538.08,175.05 538.08,176.06 538.08,177.17 538.08,177.26 538.08,178.04 538.08,179.58 538.08,179.04 538.09,179.33 538.09,180.22 538.09,181.44 538.09,182.23 538.09,182.12 538.09,182.03 538.09,182.43 538.10,182.52 538.10,183.33 538.11,184.76 538.11,185.06 538.11,185.39 538.12,185.08 538.12,186.16 538.13,186.29 538.13,188.11 538.13,187.71 538.14,188.14 538.14,188.69 538.15,189.20 538.15,189.75 538.15,189.87 538.16,190.86 538.17,191.24 538.18,192.23 538.19,192.52 538.20,193.11 538.21,192.90 538.22,193.71 538.23,192.86 538.24,194.18 538.25,194.95 538.26,194.25 538.27,196.90 538.28,197.28 538.29,197.30 538.30,199.12 538.31,197.26 538.33,198.74 538.35,199.27 538.37,199.40 538.39,201.10 538.41,201.36 538.43,201.48 538.45,201.13 538.47,202.35 538.49,202.74 538.51,203.51 538.53,202.84 538.55,203.58 538.57,205.36 538.61,205.24 538.65,205.64 538.69,206.16 538.73,205.05 538.77,208.05 538.81,206.79 538.85,207.44 538.89,209.00 538.93,210.00 538.98,210.40 539.02,209.87 539.08,210.18 539.13,211.55 539.19,211.80 539.25,211.08 539.30,213.46 539.36,211.99 539.41,213.89 539.47,214.34 539.54,215.09 539.60,215.20 539.67,216.15 539.75,216.31 539.82,216.09 539.92,216.75 540.02,218.44 540.15,216.94 540.29,218.99 540.47,218.67 540.70,218.43 541.04,219.31 541.48,220.32 541.95,218.22 542.39,220.20 542.79,220.11 543.19,218.80 543.59,218.54 544.00,218.51 544.45,218.78 544.90,217.40 545.35,217.52 545.79,217.79 546.23,216.43 546.64,217.25 547.03,216.71 547.38,216.87 547.69,215.31 547.96,215.55 548.22,215.38 548.45,214.73 548.67,213.61 548.87,214.49 549.07,213.28 549.25,212.96 549.44,212.44 549.62,212.36 549.80,211.53 549.99,210.60 550.17,211.06 550.34,210.04 550.51,209.67 550.67,209.26 550.82,207.95 550.97,208.24 551.12,207.89 551.26,206.37 551.41,206.57 551.55,206.23 551.70,206.21 551.85,205.13 552.00,204.89 552.16,204.75 552.33,203.16 552.50,202.98 552.67,202.78 552.85,202.92 553.02,202.84 553.20,201.62 553.38,201.03 553.56,200.34 553.75,200.23 553.93,200.70 554.12,199.16 554.31,198.46 554.50,199.27 554.69,197.78 554.89,197.28 555.09,196.42 555.29,197.11 555.49,195.89 555.69,194.45 555.90,193.81 556.10,194.84 556.31,193.87 556.51,194.02 556.73,193.59 556.95,193.75 557.17,193.24 557.41,191.29 557.66,191.34 557.92,190.61 558.18,191.18 558.44,189.35 558.70,190.18 558.95,188.34 559.21,189.56 559.46,189.20 559.72,187.10 559.99,187.67 560.28,186.89 560.58,185.85 560.91,187.03 561.26,185.64 561.67,186.46 562.13,185.94 562.61,186.75 563.09,185.51 563.51,186.55 563.91,186.46 564.28,186.46 564.62,187.69 564.96,187.46 565.26,187.55 565.57,188.32 565.87,187.82 566.15,189.67 566.44,190.45 566.72,188.95 567.00,190.34 567.27,190.46 567.54,190.68 567.81,192.02 568.08,192.98 568.36,192.55 568.63,192.61 568.90,194.23 569.18,193.41 569.46,193.62 569.72,194.11 569.98,195.44 570.23,195.35 570.48,195.84 570.70,195.83 570.92,196.86 571.14,197.08 571.35,198.61 571.55,197.99 571.76,197.86 571.96,199.94 572.16,199.55 572.36,199.82 572.56,200.58 572.76,200.78 572.96,199.92 573.17,201.64 573.38,202.88 573.60,203.13 573.82,202.55 574.06,203.26 574.31,204.18 574.55,205.58 574.85,204.96 575.15,205.28 575.46,205.18 575.86,205.58 576.27,205.80 576.74,206.24 577.23,205.66 577.71,205.88 578.17,205.21 578.61,206.35 579.04,205.80 579.46,205.05 579.90,204.76 580.34,205.15 580.82,204.64 581.31,204.20 581.80,202.96 582.26,203.64 582.68,205.43 583.07,205.24 583.43,205.23 583.77,204.97 584.10,206.83 584.41,206.12 584.72,207.30 585.02,207.56 585.33,207.68 585.64,207.71 585.94,208.99 586.26,208.35 586.59,209.19 586.91,209.87 587.22,211.02 587.53,210.47 587.83,211.21 588.11,211.90 588.39,210.49 588.68,211.80 588.95,212.57 589.22,212.76 589.50,214.11 589.77,213.72 590.05,214.81 590.32,215.43 590.60,215.12 590.88,215.92 591.17,216.98 591.46,217.09 591.75,216.95 592.05,216.30 592.38,217.30 592.70,218.03 593.02,218.66 593.40,218.90 593.77,219.12 594.15,218.84 594.60,220.03 595.06,220.45 595.53,219.96 596.03,220.05 596.52,220.43 597.00,219.58 597.46,219.85 597.91,219.98 598.34,218.72 598.77,218.83 599.18,218.12 599.59,217.65 600.00,216.88 600.40,217.92 600.81,218.94 601.23,216.96 601.66,217.84 602.09,217.29 602.54,216.22 603.01,216.82 603.48,215.86 603.96,214.71 604.44,216.35 604.92,215.53 605.39,215.40 605.86,215.77 606.30,215.70 606.71,214.70 607.07,214.65 607.40,214.31 607.62,213.16 607.85,213.68 608.02,212.41 608.14,212.51 608.26,212.34 608.34,211.88 608.39,209.62 608.45,209.86 608.48,209.61 608.49,208.82 608.51,208.70 608.52,208.24 608.52,207.84 608.51,208.67 608.51,206.94 608.50,206.33 608.49,205.34 608.48,205.15 608.47,204.67 608.47,204.67 608.46,203.06 608.46,203.17 608.45,202.16 608.45,201.27 608.46,202.22 608.47,201.18 608.48,201.00 608.49,201.29 608.51,200.67 608.52,199.25 608.54,199.00 608.56,198.00 608.57,197.66 608.59,196.36 608.61,197.25 608.62,196.35 608.64,196.41 608.66,196.39 608.67,194.29 608.67,194.40 608.68,193.67 608.69,194.05 608.70,192.66 608.71,193.32 608.72,193.20 608.73,192.53 608.74,192.00 608.75,190.53 608.76,189.83 608.76,188.48 608.77,188.93 608.77,187.34 608.78,187.22 608.78,188.04 608.79,187.39 608.79,185.65 608.80,187.13 608.80,184.64 608.81,184.14 608.81,185.18 608.82,184.77 608.82,183.19 608.82,183.19 608.82,181.37 608.83,182.29 608.83,180.99 608.83,181.40 608.83,179.93 608.84,179.51 608.84,179.74 608.84,179.20 608.84,178.08 608.85,176.91 608.85,177.50 608.85,177.64 608.85,176.77 608.85,174.99 608.86,175.36 608.86,174.95 608.86,175.23 608.86,173.70 608.86,173.14 608.86,173.76 608.86,171.55 608.87,171.38 608.87,170.72 608.87,171.48 608.87,169.85 608.87,170.19 608.87,168.85 608.87,169.66 608.88,168.61 608.88,167.40 608.88,167.70 608.88,167.00 608.88,166.31 608.88,165.23 608.89,166.44 608.89,164.86 608.89,164.08 608.89,163.88 608.89,163.28 608.90,162.07 608.90,162.94 608.90,160.86 608.90,161.84 608.91,159.68 608.91,159.47 608.91,160.51 608.91,158.42 608.92,158.82 608.92,158.46 608.92,158.61 608.93,158.35 608.93,157.32 608.93,156.63 608.94,156.49 608.94,155.90 608.95,153.85 608.95,154.68 608.96,153.29 608.97,154.86 608.97,153.53 608.98,151.88 608.98,152.92 608.99,150.74 608.99,151.14 609.00,149.56 609.00,149.59 609.01,149.44 609.01,148.00 609.02,148.66 609.02,148.43 609.03,148.27 609.03,147.45 609.03,146.55 609.04,146.30 609.04,144.83 609.05,144.49 609.05,145.13 609.06,143.13 609.06,142.97 609.07,143.34 609.07,142.24 609.07,141.07 609.07,140.93 609.07,140.38 609.08,139.56 609.08,139.45 609.08,139.74 609.08,138.46 609.08,138.42 609.08,137.39 609.09,137.18 609.09,137.21 609.09,136.53 609.09,135.67 609.09,135.13 609.09,135.44 609.10,134.07 609.10,132.93 609.10,133.72 609.10,133.20 609.10,132.23 609.10,131.46 609.10,132.09 609.10,131.56 609.10,130.53 609.11,129.79 609.11,129.72 609.11,129.84 609.11,127.92 609.11,128.31 609.11,126.07 609.11,126.47 609.11,126.67 609.12,125.89 609.12,124.59 609.12,125.29 609.12,124.72 609.12,124.26 609.13,123.09 609.13,122.70 609.13,122.18 609.13,121.97 609.14,121.37 609.14,120.74 609.14,120.74 609.14,120.49 609.14,119.39 609.15,119.57 609.15,117.30 609.16,119.33 609.16,116.78 609.17,116.56 609.17,116.58 609.18,116.41 609.18,115.43 609.19,113.85 609.20,114.09 609.20,113.09 609.21,113.85 609.21,112.55 609.22,110.86 609.22,111.35 609.23,111.46 609.24,110.13 609.25,110.58 609.26,108.80 609.28,109.13 609.29,109.37 609.30,108.32 609.31,107.21 609.32,106.85 609.33,107.39 609.34,106.71 609.35,106.01 609.36,105.74 609.38,104.75 609.40,104.31 609.42,103.73 609.44,103.04 609.47,103.47 609.49,101.74 609.51,103.12 609.53,101.78 609.55,100.66 609.58,101.17 609.60,100.82 609.62,99.50 609.66,98.10 609.71,98.38 609.75,97.83 609.79,96.96 609.84,95.96 609.88,95.78 609.93,95.92 609.97,95.22 610.02,95.39 610.09,93.60 610.15,94.23 610.21,92.86 610.27,93.11 610.34,92.47 610.41,92.71 610.49,91.70 610.60,90.71 610.72,90.49 610.88,89.04 611.11,89.49 611.43,89.40 611.85,88.99 612.33,88.41 612.83,88.91 613.32,88.98 613.80,89.17 614.27,88.58 614.72,89.82 615.15,89.58 615.57,89.19 615.97,90.08 616.36,91.17 616.74,91.72 617.12,90.96 617.48,91.01 617.85,91.62 618.20,92.58 618.55,93.34 618.89,92.99 619.21,93.13 619.52,94.53 619.83,94.33 620.10,94.02 620.37,94.76 620.64,95.87 620.90,95.56 621.14,96.21 621.39,96.21 621.64,97.38 621.88,98.36 622.12,98.65 622.36,98.13 622.61,98.14 622.86,100.10 623.11,100.09 623.37,99.19 623.63,101.36 623.90,100.67 624.18,101.00 624.48,101.76 624.79,101.34 625.10,101.88 625.46,103.72 625.82,103.07 626.21,103.83 626.62,104.62 627.05,104.30 627.49,104.25 627.95,104.85 628.42,105.67 628.89,105.15 629.37,104.77 629.85,106.29 630.34,106.11 630.82,104.68 631.31,105.72 631.79,107.04 632.27,104.93 632.74,105.11 633.21,106.53 633.68,105.99 634.14,105.57 634.59,107.58 635.04,106.82 635.50,107.37 635.95,108.06 636.40,107.71 636.86,107.22 637.32,109.29 637.79,108.70 638.26,108.30 638.75,108.18 639.24,107.67 639.74,108.92 640.24,107.72 640.73,109.51 641.22,107.17 641.70,108.69 642.17,107.37 642.63,107.20 643.07,108.00 643.50,107.39 643.91,107.47 644.29,106.06 644.66,106.28 645.00,105.80 645.28,105.74 645.55,105.69 645.74,104.63 645.93,103.68 646.06,103.82 646.20,102.29 646.31,102.42 646.42,103.05 646.52,101.50 646.63,101.84 646.73,100.61 646.84,99.80 646.96,99.94 647.08,99.67 647.23,98.82 647.39,98.58 647.57,98.96 647.77,97.51 647.98,97.26 648.22,96.15 648.47,96.66 648.71,95.31 648.96,95.42 649.21,94.58 649.46,94.84 649.71,94.32 649.97,94.21 650.24,93.20 650.50,93.11 650.77,93.43 651.04,91.34 651.32,90.93 651.60,91.56 651.88,90.74 652.17,90.30 652.48,88.39 652.78,89.32 653.09,89.63 653.40,88.97 653.74,88.31 654.09,87.84 654.43,87.16 654.80,86.99 655.20,86.95 655.59,85.51 656.02,87.14 656.49,85.49 656.95,86.77 657.45,86.48 657.95,85.59 658.42,86.05 658.88,86.63 659.30,87.33 659.72,86.42 660.11,87.56 660.51,88.00 660.87,87.79 661.24,88.47 661.60,88.34 661.95,88.72 662.31,88.71 662.66,89.13 663.01,90.45 663.36,90.66 663.72,91.04 664.08,90.75 664.42,91.65 664.77,92.32 665.10,91.42 665.42,91.93 665.73,92.28 666.04,93.39 666.34,93.82 666.64,95.24 666.93,95.15 667.23,93.34 667.52,95.49 667.81,95.50 668.11,96.70 668.40,95.88 668.70,96.04 669.01,96.75 669.32,98.06 669.65,97.86 669.98,98.85 670.33,99.94 670.72,98.45 671.13,99.16 671.58,99.79 672.06,100.27 672.55,99.42 673.05,99.96 673.55,99.38 673.60,100.87" fill="none" stroke="#ff00ff" stroke-width="1.9" stroke-linejoin="round"/><polyline points="77.40,115.41 77.39,114.93 77.38,115.33 77.37,113.35 77.36,113.93 77.35,112.37 77.34,113.55 77.33,112.60 77.32,112.68 77.31,111.25 77.30,111.20 77.30,110.36 77.29,109.63 77.28,109.57 77.27,108.37 77.26,108.32 77.25,108.35 77.24,107.53 77.23,106.80 77.22,107.60 77.21,106.03 77.21,105.21 77.20,105.08 77.19,104.24 77.18,103.81 77.18,103.33 77.17,104.01 77.16,102.51 77.15,102.09 77.15,101.84 77.14,102.01 77.13,100.39 77.12,99.69 77.12,100.74 77.11,98.27 77.10,98.32 77.09,98.34 77.08,98.64 77.08,96.53 77.07,95.29 77.06,96.33 77.05,95.24 77.05,94.81 77.04,94.73 77.04,94.11 77.03,93.65 77.03,92.79 77.02,93.15 77.01,92.76 77.01,91.52 77.00,90.78 77.00,90.87 76.99,90.24 76.99,88.98 76.98,88.77 76.98,89.03 76.97,87.96 76.96,87.34 76.96,87.11 76.95,86.49 76.95,86.00 76.94,84.54 76.94,85.88 76.93,84.60 76.92,83.57 76.92,83.99 76.91,83.16 76.91,82.51 76.91,82.53 76.91,82.63 76.90,81.28 76.90,81.30 76.90,81.08 76.90,78.99 76.89,78.74 76.89,78.89 76.89,77.15 76.89,77.37 76.88,77.65 76.88,77.03 76.88,76.29 76.88,74.56 76.87,76.18 76.87,74.78 76.87,74.39 76.87,73.75 76.86,72.15 76.86,71.79 76.86,71.40 76.86,72.46 76.85,70.59 76.86,70.38 76.86,69.88 76.86,69.79 76.86,69.25 76.87,68.64 76.87,67.37 76.87,65.93 76.87,67.09 76.88,66.64 76.88,66.62 76.88,65.45 76.88,64.70 76.89,64.71 76.89,63.23 76.89,62.98 76.90,62.50 76.90,62.65 76.90,63.05 76.90,61.89 76.91,61.57 76.91,60.62 76.91,60.14 76.92,59.28 76.94,58.86 76.95,57.29 76.96,57.40 76.98,56.86 76.99,57.42 77.00,56.84 77.02,56.58 77.03,56.28 77.04,54.85 77.06,55.03 77.07,54.98 77.09,53.50 77.10,53.55 77.11,52.42 77.13,51.20 77.14,51.57 77.18,50.60 77.23,50.57 77.29,49.78 77.34,49.68 77.39,47.95 77.44,49.56 77.49,48.71 77.54,47.35 77.60,46.58 77.76,46.56 78.02,46.47 78.41,46.35 78.63,46.78 78.77,46.07 78.89,46.98 78.99,48.71 79.09,48.64 79.17,48.26 79.26,49.08 79.34,49.28 79.42,49.99 79.49,51.58 79.57,51.37 79.65,52.55 79.72,52.57 79.80,52.21 79.87,53.13 79.95,55.12 80.04,54.06 80.12,54.41 80.20,56.06 80.29,55.97 80.39,56.41 80.48,57.65 80.59,56.50 80.69,58.10 80.79,57.84 80.90,58.15 81.00,58.94 81.11,60.43 81.21,60.26 81.32,59.89 81.42,60.74 81.53,62.58 81.63,62.81 81.74,62.22 81.85,64.50 81.96,63.56 82.07,63.63 82.18,64.66 82.29,65.69 82.40,66.52 82.52,66.71 82.64,66.46 82.76,66.87 82.88,66.90 83.00,68.09 83.12,68.31 83.26,69.22 83.39,68.93 83.52,69.80 83.65,70.09 83.77,70.41 83.90,70.90 84.03,71.47 84.15,71.87 84.27,73.25 84.40,73.50 84.52,73.26 84.64,74.68 84.77,75.05 84.89,76.13 85.02,75.77 85.15,76.24 85.29,76.48 85.43,77.37 85.58,78.04 85.73,78.36 85.90,78.61 86.07,79.49 86.28,79.70 86.52,80.22 86.89,79.94 87.29,80.39 87.56,79.36 87.78,78.99 87.93,79.03 88.08,79.55 88.23,78.50 88.35,77.51 88.47,76.93 88.59,77.04 88.70,76.76 88.80,76.18 88.91,74.98 89.01,74.68 89.12,73.92 89.22,73.46 89.32,72.68 89.42,72.50 89.53,71.03 89.63,71.03 89.74,71.38 89.85,70.20 89.96,70.46 90.07,69.03 90.18,69.02 90.29,68.92 90.41,67.70 90.51,67.38 90.61,68.52 90.71,66.42 90.81,65.92 90.91,65.49 91.01,65.31 91.10,64.79 91.20,64.82 91.29,64.23 91.38,63.12 91.48,62.66 91.57,61.62 91.66,61.09 91.75,60.99 91.84,61.25 91.93,60.44 92.03,60.30 92.12,59.88 92.21,58.82 92.31,59.49 92.40,57.66 92.50,57.12 92.60,56.73 92.70,57.04 92.80,55.90 92.90,55.10 93.00,55.21 93.10,55.07 93.20,53.95 93.29,53.39 93.39,53.58 93.48,53.04 93.57,52.52 93.65,51.16 93.74,51.20 93.83,50.75 93.91,49.15 94.00,50.19 94.08,49.14 94.17,48.42 94.25,49.26 94.34,47.68 94.43,46.75 94.52,46.59 94.61,46.42 94.70,46.05 94.80,45.12 94.90,44.22 94.99,43.81 95.09,43.26 95.20,42.65 95.33,42.70 95.45,41.97 95.57,41.76 95.74,40.84 95.92,40.36 96.14,40.27 96.49,39.83 96.89,40.87 97.15,40.24 97.36,41.26 97.54,41.60 97.71,41.42 97.86,42.94 98.02,43.13 98.17,42.45 98.32,44.30 98.47,44.95 98.63,44.54 98.79,46.28 98.96,45.97 99.14,45.77 99.32,47.11 99.49,47.11 99.67,47.08 99.84,47.14 100.01,48.82 100.19,48.79 100.36,49.97 100.53,50.31 100.70,50.31 100.87,50.78 101.04,52.42 101.22,52.86 101.39,52.84 101.57,52.74 101.74,52.89 101.91,53.66 102.08,55.18 102.23,55.04 102.39,55.14 102.55,55.13 102.70,56.32 102.86,56.26 103.02,57.19 103.18,58.03 103.35,58.67 103.52,58.67 103.70,58.89 103.90,59.64 104.10,60.90 104.33,60.62 104.57,60.15 104.85,62.07 105.16,61.80 105.51,63.79 105.91,62.08 106.34,62.53 106.78,62.66 107.23,63.23 107.66,62.99 108.08,62.80 108.49,62.86 108.91,64.05 109.33,64.12 109.74,64.37 110.14,66.05 110.52,65.70 110.87,66.21 111.18,65.79 111.46,66.61 111.71,66.78 111.93,67.23 112.12,68.18 112.29,68.58 112.43,68.91 112.56,69.31 112.66,68.99 112.76,69.84 112.85,70.90 112.91,71.01 112.97,71.30 113.03,72.37 113.07,72.22 113.11,72.85 113.14,74.14 113.18,74.01 113.20,75.41 113.22,75.45 113.25,76.10 113.27,76.76 113.28,75.59 113.30,77.15 113.31,77.03 113.33,77.95 113.34,78.63 113.35,79.82 113.37,79.66 113.38,81.02 113.39,80.42 113.41,81.16 113.42,81.73 113.44,82.66 113.45,82.66 113.47,82.87 113.49,83.52 113.51,83.47 113.53,85.32 113.55,85.56 113.57,85.90 113.59,86.32 113.60,86.37 113.62,86.97 113.64,88.09 113.66,87.78 113.67,88.28 113.69,89.98 113.70,90.47 113.72,90.33 113.73,90.95 113.74,91.27 113.76,92.40 113.77,91.95 113.78,92.72 113.79,93.42 113.80,94.41 113.81,94.05 113.82,94.80 113.83,94.93 113.84,95.35 113.85,95.85 113.86,96.72 113.87,97.63 113.88,97.33 113.89,97.87 113.90,98.47 113.90,99.35 113.91,100.03 113.92,99.55 113.93,100.86 113.94,100.67 113.95,102.04 113.95,101.69 113.96,102.13 113.97,102.82 113.98,103.64 113.99,103.68 113.99,104.78 114.00,105.25 114.01,105.72 114.02,106.31 114.02,107.12 114.03,106.81 114.04,107.68 114.04,108.16 114.05,107.64 114.06,109.37 114.06,109.29 114.07,109.81 114.08,110.45 114.08,111.22 114.09,111.84 114.10,112.42 114.10,112.33 114.11,113.52 114.12,113.88 114.12,113.98 114.13,114.66 114.13,115.58 114.14,115.89 114.14,116.52 114.15,116.73 114.15,117.75 114.16,118.79 114.16,118.40 114.17,117.87 114.17,120.04 114.18,119.39 114.18,119.48 114.19,119.49 114.19,121.39 114.20,122.22 114.20,122.68 114.21,122.48 114.21,123.90 114.22,123.64 114.22,123.88 114.23,124.71 114.23,125.28 114.24,125.70 114.24,126.37 114.24,125.58 114.25,127.96 114.25,127.39 114.26,128.50 114.26,128.27 114.27,129.26 114.27,129.59 114.27,129.38 114.28,130.87 114.28,131.49 114.29,131.12 114.29,131.13 114.30,132.35 114.30,132.75 114.30,133.73 114.31,134.17 114.31,135.48 114.32,135.50 114.32,135.55 114.32,136.26 114.33,135.23 114.33,136.72 114.34,137.21 114.34,138.12 114.34,138.83 114.35,139.28 114.35,140.14 114.35,139.83 114.36,140.83 114.36,141.11 114.37,141.68 114.37,142.33 114.37,142.53 114.38,143.28 114.38,143.66 114.38,144.69 114.39,144.62 114.39,145.33 114.40,146.97 114.40,146.49 114.40,146.93 114.41,147.71 114.41,147.17 114.41,148.53 114.42,149.05 114.42,149.39 114.43,150.16 114.43,150.57 114.43,151.27 114.44,150.85 114.44,151.89 114.44,151.90 114.45,153.29 114.45,153.24 114.45,153.03 114.46,154.23 114.46,154.17 114.46,155.66 114.47,155.51 114.47,155.08 114.47,156.48 114.48,157.68 114.48,157.84 114.48,157.86 114.49,159.00 114.49,159.46 114.50,160.41 114.50,160.62 114.50,160.86 114.51,160.78 114.51,161.82 114.51,162.32 114.52,162.68 114.52,163.38 114.52,163.08 114.53,164.46 114.53,164.68 114.53,165.35 114.54,165.63 114.54,166.02 114.54,166.80 114.55,167.56 114.55,167.51 114.55,168.34 114.56,168.29 114.56,169.38 114.57,169.68 114.57,169.54 114.57,171.25 114.58,170.73 114.58,171.71 114.58,171.52 114.59,171.81 114.59,173.50 114.59,172.98 114.60,173.14 114.60,174.57 114.60,174.40 114.61,175.57 114.61,177.08 114.61,176.48 114.62,177.35 114.62,177.95 114.63,178.30 114.63,178.61 114.63,179.92 114.64,179.63 114.64,180.35 114.64,180.73 114.65,180.54 114.65,181.83 114.66,182.20 114.66,182.99 114.66,183.52 114.67,184.45 114.67,183.23 114.67,184.40 114.68,184.94 114.68,185.24 114.69,186.38 114.69,186.63 114.69,187.24 114.70,186.86 114.70,187.70 114.70,188.64 114.71,188.95 114.71,189.37 114.72,190.11 114.72,190.54 114.73,190.65 114.73,192.50 114.73,191.84 114.74,192.99 114.74,193.47 114.75,194.15 114.75,193.89 114.76,194.18 114.76,195.39 114.76,195.80 114.77,195.01 114.77,195.38 114.78,196.90 114.78,197.48 114.78,198.04 114.79,198.88 114.79,198.69 114.80,200.98 114.80,200.62 114.80,201.31 114.81,201.31 114.81,200.65 114.81,202.29 114.82,202.40 114.82,203.39 114.82,203.62 114.83,204.50 114.83,204.24 114.83,204.99 114.84,205.67 114.84,205.80 114.84,206.45 114.85,207.48 114.85,208.62 114.85,208.07 114.86,209.08 114.86,208.61 114.86,209.45 114.86,210.33 114.86,210.96 114.87,210.67 114.87,211.97 114.87,212.24 114.87,213.32 114.87,213.63 114.87,213.94 114.87,213.98 114.88,214.80 114.88,214.75 114.88,215.26 114.88,215.26 114.88,216.03 114.88,216.54 114.88,217.62 114.88,218.22 114.89,218.01 114.89,219.12 114.89,219.87 114.89,220.63 114.89,220.62 114.89,221.28 114.89,221.49 114.89,222.63 114.89,221.90 114.89,223.29 114.89,222.53 114.89,225.01 114.90,225.13 114.90,224.13 114.90,225.41 114.90,225.47 114.90,225.80 114.90,226.97 114.90,227.24 114.90,228.68 114.90,228.41 114.90,228.62 114.90,229.63 114.90,230.37 114.90,231.07 114.90,231.42 114.91,230.93 114.91,231.76 114.91,232.58 114.91,232.75 114.91,234.03 114.91,234.00 114.91,234.63 114.91,234.98 114.91,235.69 114.92,235.43 114.92,237.70 114.92,236.89 114.92,237.31 114.92,237.29 114.92,238.62 114.92,238.49 114.92,239.83 114.93,240.75 114.93,240.97 114.93,240.95 114.94,242.29 114.94,242.07 114.94,242.64 114.94,243.20 114.95,243.43 114.95,244.37 114.95,244.06 114.95,244.29 114.96,246.25 114.96,245.80 114.96,246.49 114.96,247.33 114.97,247.43 114.97,247.58 114.98,248.57 114.98,248.70 114.99,249.93 114.99,249.95 115.00,250.54 115.01,251.54 115.01,250.90 115.02,251.43 115.02,253.02 115.03,253.79 115.03,253.71 115.04,253.82 115.05,255.27 115.05,255.42 115.06,256.17 115.06,255.27 115.07,256.60 115.08,256.66 115.09,257.12 115.11,258.45 115.12,259.02 115.13,258.93 115.14,259.54 115.15,260.84 115.16,260.99 115.18,261.10 115.19,261.91 115.20,262.22 115.21,262.04 115.22,262.91 115.23,263.80 115.25,264.47 115.27,264.07 115.29,264.76 115.31,265.37 115.34,265.42 115.36,267.20 115.38,267.38 115.40,268.30 115.42,267.08 115.44,268.26 115.46,270.05 115.49,268.96 115.51,269.26 115.54,270.76 115.56,271.93 115.59,271.97 115.62,271.68 115.64,272.92 115.67,273.35 115.69,273.78 115.72,274.34 115.74,275.06 115.77,275.72 115.79,276.32 115.82,276.67 115.85,276.58 115.88,276.24 115.91,277.91 115.95,277.41 115.98,279.76 116.03,278.57 116.08,278.73 116.12,279.23 116.19,280.82 116.26,281.28 116.33,281.94 116.43,282.25 116.54,282.22 116.66,283.48 116.83,283.21 117.01,283.28 117.26,284.90 117.55,285.12 117.91,284.75 118.34,285.33 118.82,285.92 119.19,285.55 119.49,284.16 119.75,284.80 120.00,282.55 120.25,283.44 120.52,283.16 120.79,282.49 121.07,282.19 121.34,280.93 121.61,281.23 121.88,281.12 122.14,279.99 122.39,280.08 122.64,279.50 122.86,278.03 123.09,278.39 123.29,278.52 123.49,277.01 123.68,277.32 123.85,277.00 124.00,275.73 124.14,275.76 124.29,275.85 124.43,275.28 124.54,273.95 124.66,274.46 124.78,273.64 124.89,273.04 124.99,273.24 125.09,272.36 125.19,271.69 125.28,271.49 125.38,270.86 125.46,270.66 125.55,269.49 125.63,268.18 125.72,269.33 125.80,268.46 125.88,267.83 125.96,267.10 126.04,266.54 126.12,266.14 126.20,265.13 126.28,265.49 126.36,264.65 126.44,263.65 126.52,263.76 126.60,262.97 126.68,262.62 126.76,262.41 126.84,262.98 126.92,260.63 127.01,260.87 127.09,260.52 127.19,259.89 127.28,259.92 127.37,258.49 127.46,258.05 127.55,257.71 127.64,256.55 127.73,257.28 127.81,255.63 127.90,256.02 127.99,255.84 128.06,254.35 128.14,254.18 128.21,253.67 128.29,254.13 128.36,252.91 128.44,251.42 128.51,252.32 128.58,251.81 128.66,249.82 128.73,248.96 128.80,251.11 128.87,249.36 128.95,247.77 129.02,248.85 129.10,248.54 129.17,246.16 129.25,247.48 129.32,246.71 129.40,245.85 129.49,245.02 129.57,245.07 129.65,243.98 129.74,243.97 129.82,243.27 129.93,242.69 130.04,242.69 130.14,242.42 130.25,241.88 130.37,241.18 130.54,241.32 130.70,239.39 130.87,239.58 131.22,239.28 131.59,239.74 131.96,238.34 132.18,239.69 132.41,240.20 132.58,240.92 132.75,242.42 132.91,241.89 133.06,242.20 133.20,242.94 133.34,243.69 133.48,243.60 133.61,245.00 133.74,244.05 133.86,245.76 133.99,245.97 134.12,246.60 134.24,247.36 134.36,246.95 134.49,247.77 134.61,248.18 134.73,248.23 134.86,248.63 134.98,249.11 135.11,250.40 135.24,249.33 135.37,250.31 135.51,251.47 135.64,252.56 135.78,252.34 135.92,253.50 136.05,253.32 136.19,253.57 136.32,253.54 136.45,254.89 136.58,256.14 136.70,255.81 136.81,255.74 136.93,257.03 137.05,256.54 137.16,257.14 137.27,258.75 137.38,258.89 137.49,259.65 137.60,259.78 137.71,260.09 137.82,260.72 137.93,260.96 138.05,262.14 138.16,261.46 138.27,261.65 138.38,262.65 138.50,264.01 138.62,263.78 138.74,263.39 138.86,266.43 138.98,265.04 139.11,265.89 139.25,266.75 139.40,267.13 139.54,267.34 139.69,267.12 139.87,268.62 140.08,268.33 140.28,269.19 140.59,270.03 140.97,269.78 141.37,268.83 141.68,269.05 141.90,269.20 142.12,268.81 142.28,267.33 142.44,267.53 142.59,267.17 142.74,267.08 142.87,266.27 143.00,265.66 143.12,264.95 143.25,264.85 143.37,264.51 143.48,263.56 143.59,263.02 143.71,263.53 143.82,262.16 143.93,261.31 144.04,261.54 144.15,260.10 144.26,259.69 144.36,260.20 144.47,259.27 144.59,259.16 144.70,258.66 144.81,257.42 144.92,257.55 145.04,256.63 145.16,256.44 145.28,255.97 145.41,255.32 145.53,254.24 145.65,254.54 145.76,253.92 145.88,253.68 146.00,252.41 146.11,252.55 146.21,251.86 146.31,251.26 146.41,250.85 146.51,250.36 146.60,249.32 146.70,249.24 146.79,248.79 146.88,248.75 146.97,247.96 147.07,248.24 147.16,247.35 147.25,246.71 147.35,246.17 147.44,244.88 147.53,245.26 147.63,245.22 147.73,243.60 147.83,244.27 147.93,243.43 148.03,242.78 148.14,241.94 148.26,241.67 148.38,240.79 148.51,240.69 148.63,240.24 148.81,239.77 148.99,238.67 149.17,239.27 149.53,238.14 149.92,238.64 150.24,239.10 150.48,239.15 150.66,240.92 150.82,240.24 150.98,240.87 151.12,241.02 151.26,241.78 151.40,241.48 151.53,242.90 151.66,242.88 151.79,243.30 151.93,244.40 152.06,244.96 152.20,244.78 152.35,244.97 152.50,244.96 152.65,245.93 152.83,247.13 153.01,247.67 153.19,247.20 153.39,248.31 153.58,249.26 153.77,248.83 153.95,249.40 154.14,249.69 154.32,250.80 154.51,250.14 154.69,251.46 154.88,252.22 155.08,252.42 155.27,253.38 155.48,253.67 155.69,253.57 155.91,253.78 156.16,254.19 156.41,255.38 156.70,255.47 157.02,255.98 157.46,255.69 157.89,256.58 158.26,256.11 158.52,255.63 158.76,254.27 158.94,255.63 159.12,254.30 159.29,252.89 159.44,253.41 159.58,252.40 159.73,251.60 159.86,251.13 159.98,251.26 160.11,250.69 160.24,250.15 160.36,249.46 160.47,248.58 160.59,248.72 160.71,247.98 160.83,247.52 160.95,247.44 161.06,247.48 161.18,245.86 161.30,246.15 161.42,244.83 161.55,245.12 161.67,244.54 161.79,243.76 161.90,243.37 162.02,242.39 162.14,242.12 162.25,242.26 162.35,241.68 162.45,241.92 162.55,239.83 162.65,239.61 162.75,239.39 162.84,238.88 162.93,238.12 163.02,237.67 163.11,237.33 163.20,237.51 163.28,236.34 163.37,235.53 163.45,235.56 163.54,233.64 163.62,234.00 163.71,233.62 163.79,233.58 163.87,231.83 163.96,232.35 164.04,231.43 164.13,231.94 164.21,231.36 164.30,230.26 164.38,230.21 164.48,228.92 164.57,229.11 164.66,228.64 164.75,228.54 164.84,227.32 164.94,225.99 165.04,226.94 165.15,225.53 165.25,225.31 165.35,224.91 165.48,225.40 165.61,224.09 165.73,224.19 165.86,223.18 166.00,221.98 166.13,222.41 166.27,221.95 166.39,220.94 166.52,219.97 166.65,221.64 166.79,220.81 166.93,219.49 167.09,219.05 167.27,218.81 167.49,218.19 167.74,216.75 168.03,216.39 168.38,217.11 168.77,217.06 169.20,216.67 169.67,216.39 170.16,215.85 170.65,216.24 171.15,216.47 171.64,215.94 172.14,216.27 172.64,216.24 173.14,215.30 173.64,216.21 174.14,215.24 174.64,215.15 175.14,216.33 175.64,214.68 176.13,215.32 176.63,215.80 177.12,215.50 177.62,215.07 178.12,214.75 178.62,215.39 179.11,215.33 179.60,214.92 180.07,214.34 180.52,213.90 180.94,214.32 181.31,213.96 181.60,213.99 181.82,212.98 181.99,213.10 182.14,211.60 182.25,210.86 182.33,211.66 182.41,210.50 182.49,209.81 182.57,209.65 182.65,208.64 182.73,208.57 182.81,207.57 182.86,207.83 182.89,206.96 182.93,206.72 182.96,206.25 183.00,205.97 183.03,204.42 183.07,204.83 183.10,204.13 183.13,203.20 183.17,203.13 183.20,203.00 183.24,202.49 183.27,202.72 183.28,201.10 183.30,200.83 183.32,201.20 183.33,199.47 183.35,198.86 183.37,198.54 183.39,197.98 183.40,197.75 183.42,197.33 183.44,196.40 183.45,195.71 183.47,195.74 183.49,194.67 183.50,194.37 183.52,194.43 183.53,193.72 183.54,192.78 183.55,192.07 183.56,191.78 183.57,191.05 183.57,191.52 183.58,191.12 183.59,190.41 183.60,189.92 183.61,189.03 183.62,188.84 183.63,188.29 183.63,187.79 183.64,187.03 183.65,186.25 183.66,186.40 183.67,185.95 183.68,184.73 183.68,184.65 183.69,184.25 183.69,184.00 183.69,182.44 183.70,182.09 183.70,181.60 183.71,181.17 183.71,180.74 183.71,181.17 183.72,179.71 183.72,180.79 183.73,179.40 183.73,179.10 183.73,178.24 183.74,178.18 183.74,177.45 183.75,177.15 183.75,176.55 183.75,176.06 183.76,175.45 183.76,175.29 183.76,174.28 183.77,173.51 183.77,174.03 183.77,172.53 183.77,172.46 183.78,172.78 183.78,170.96 183.78,170.63 183.78,169.94 183.79,169.32 183.79,169.58 183.79,168.67 183.80,168.33 183.80,166.94 183.80,167.50 183.80,166.42 183.81,165.33 183.81,165.42 183.81,164.49 183.82,165.53 183.82,163.45 183.82,163.90 183.83,162.76 183.83,162.37 183.84,161.65 183.84,162.35 183.84,160.73 183.85,160.46 183.85,160.38 183.86,159.59 183.86,159.60 183.86,158.41 183.87,157.49 183.87,157.98 183.88,157.84 183.88,157.02 183.89,155.86 183.90,156.33 183.91,155.65 183.92,154.58 183.93,154.48 183.94,153.75 183.94,153.32 183.95,153.08 183.96,152.69 183.97,151.81 183.98,151.30 183.99,149.57 184.00,149.88 184.01,149.99 184.02,148.88 184.03,148.95 184.05,148.17 184.06,147.80 184.07,147.31 184.08,147.40 184.10,146.51 184.11,145.79 184.12,144.70 184.14,144.95 184.15,143.75 184.16,144.36 184.18,142.93 184.19,142.47 184.20,142.20 184.22,141.29 184.23,141.51 184.24,140.93 184.26,139.95 184.27,139.51 184.28,140.15 184.29,139.33 184.31,138.54 184.32,137.91 184.33,138.00 184.35,136.59 184.36,136.15 184.37,135.71 184.38,134.76 184.40,134.35 184.41,135.16 184.42,133.85 184.43,132.85 184.45,132.66 184.46,132.04 184.47,131.57 184.48,131.25 184.49,130.07 184.50,129.41 184.51,129.68 184.53,129.16 184.54,128.21 184.55,128.23 184.56,127.50 184.57,127.37 184.58,126.68 184.59,126.81 184.60,126.45 184.61,125.60 184.62,124.79 184.63,124.69 184.64,124.13 184.65,123.50 184.66,123.15 184.67,122.10 184.68,122.15 184.69,121.54 184.70,120.98 184.71,120.20 184.72,119.59 184.73,119.56 184.74,118.54 184.74,117.77 184.75,118.59 184.76,117.85 184.77,116.42 184.78,116.95 184.79,114.81 184.80,115.57 184.80,115.11 184.81,114.40 184.82,113.69 184.82,113.66 184.83,113.03 184.83,111.74 184.84,111.44 184.85,111.76 184.85,111.14 184.86,109.74 184.86,109.08 184.87,109.50 184.88,108.39 184.88,107.94 184.89,107.54 184.90,107.39 184.90,105.82 184.91,106.66 184.91,105.61 184.92,105.72 184.92,104.24 184.93,103.87 184.93,104.02 184.93,103.76 184.94,102.76 184.94,102.13 184.95,102.43 184.95,101.81 184.95,100.93 184.96,100.17 184.96,100.39 184.96,99.62 184.97,98.62 184.97,98.99 184.98,98.32 184.98,97.39 184.98,97.01 184.99,96.66 184.99,95.57 185.00,94.72 185.00,95.36 185.00,93.51 185.01,93.07 185.01,92.62 185.01,93.03 185.01,92.79 185.02,91.48 185.02,91.91 185.02,91.57 185.03,90.95 185.03,89.18 185.03,89.91 185.03,89.89 185.04,87.86 185.04,87.02 185.04,87.90 185.05,87.04 185.05,86.27 185.05,85.76 185.05,84.47 185.06,84.39 185.06,84.38 185.06,84.01 185.07,83.73 185.07,83.24 185.07,82.07 185.07,81.75 185.08,81.97 185.08,80.14 185.08,80.54 185.08,79.38 185.09,79.39 185.09,79.68 185.09,78.48 185.09,77.57 185.10,76.96 185.10,76.12 185.10,76.28 185.10,74.70 185.11,75.25 185.11,74.85 185.11,73.86 185.11,73.41 185.12,73.86 185.12,73.39 185.12,73.27 185.12,72.34 185.13,71.44 185.13,70.69 185.13,70.88 185.14,70.12 185.14,69.38 185.14,69.66 185.15,68.22 185.15,67.88 185.15,67.82 185.15,67.03 185.16,66.33 185.16,66.29 185.16,66.62 185.17,64.63 185.17,64.63 185.17,64.00 185.18,63.37 185.18,63.60 185.18,62.25 185.18,62.61 185.19,60.82 185.19,60.85 185.19,59.90 185.20,59.97 185.20,59.62 185.20,59.06 185.21,58.40 185.21,57.67 185.22,56.71 185.22,57.20 185.22,56.30 185.23,56.35 185.23,54.49 185.24,54.67 185.24,53.47 185.24,54.32 185.25,52.94 185.25,52.29 185.26,52.71 185.26,51.75 185.27,51.41 185.27,50.74 185.27,50.83 185.28,49.93 185.28,49.42 185.29,48.79 185.29,48.76 185.30,48.33 185.30,47.12 185.31,47.21 185.32,45.57 185.32,45.41 185.33,45.04 185.34,44.44 185.34,44.55 185.35,43.12 185.35,42.54 185.36,42.88 185.37,41.87 185.37,41.82 185.38,41.33 185.39,40.47 185.39,40.10 185.40,40.20 185.41,39.29 185.41,38.82 185.42,38.61 185.43,37.44 185.44,36.71 185.45,36.62 185.46,37.07 185.47,36.08 185.48,36.36 185.49,35.27 185.51,34.73 185.52,33.55 185.53,32.50 185.54,31.77 185.55,32.36 185.56,31.25 185.57,30.72 185.58,31.06 185.59,30.43 185.61,29.17 185.62,29.41 185.63,29.46 185.65,28.74 185.66,27.46 185.67,27.75 185.69,25.83 185.70,26.15 185.71,25.58 185.72,25.89 185.74,24.21 185.75,23.83 185.76,23.63 185.77,23.66 185.79,22.12 185.80,22.41 185.81,21.62 185.82,21.07 185.84,20.18 185.85,20.50 185.87,19.86 185.88,19.50 185.90,18.88 185.91,18.24 185.93,17.37 185.96,17.29 185.98,17.17 186.00,16.36 186.02,16.05 186.05,15.72 186.09,14.96 186.12,14.18 186.15,13.33 186.19,13.91 186.24,12.72 186.29,12.22 186.34,11.85 186.41,11.71 186.48,11.24 186.55,9.98 186.63,9.79 186.72,9.90 186.81,8.55 186.90,8.37 187.00,7.46 187.11,6.68 187.25,6.27 187.45,6.52 187.78,6.23 188.26,4.81 188.68,6.20 189.05,6.55 189.40,6.27 189.73,7.35 190.06,7.39 190.39,8.80 190.72,8.04 191.06,9.39 191.41,8.67 191.75,9.11 192.09,10.67 192.41,10.00 192.71,10.55 193.00,10.40 193.27,11.66 193.50,12.70 193.71,12.34 193.91,12.81 194.10,13.40 194.27,13.51 194.42,13.73 194.58,14.84 194.72,15.15 194.86,14.94 194.99,15.10 195.12,16.98 195.24,16.62 195.36,17.94 195.47,18.64 195.59,18.66 195.70,18.89 195.81,18.44 195.92,20.90 196.03,21.07 196.13,20.76 196.24,21.11 196.34,22.35 196.45,21.63 196.56,23.43 196.67,24.03 196.77,23.48 196.88,24.03 197.00,25.90 197.11,25.28 197.23,26.09 197.34,26.33 197.46,25.99 197.58,27.95 197.70,28.74 197.81,28.15 197.93,28.49 198.05,30.15 198.16,29.16 198.28,30.23 198.40,30.21 198.51,30.59 198.62,31.54 198.73,31.03 198.84,32.23 198.95,33.32 199.06,33.44 199.17,33.74 199.28,35.97 199.38,35.64 199.49,35.50 199.59,36.77 199.69,37.04 199.79,37.30 199.89,38.07 199.98,38.02 200.08,38.41 200.17,40.05 200.26,39.71 200.35,40.90 200.44,39.68 200.52,40.70 200.60,41.20 200.68,42.20 200.76,42.60 200.84,43.59 200.92,43.87 200.99,44.11 201.07,44.86 201.14,45.45 201.22,45.73 201.29,44.90 201.36,46.35 201.43,47.38 201.51,47.38 201.58,48.74 201.65,48.31 201.72,49.09 201.79,49.16 201.86,49.99 201.94,51.08 202.01,51.72 202.08,51.95 202.15,52.35 202.23,52.58 202.30,52.39 202.38,53.81 202.45,53.69 202.53,54.64 202.61,54.94 202.68,55.90 202.76,55.66 202.83,56.86 202.91,56.97 202.98,58.25 203.06,57.90 203.13,58.38 203.21,58.03 203.28,59.87 203.36,59.95 203.43,59.36 203.51,61.16 203.58,61.65 203.65,61.75 203.73,63.04 203.81,62.85 203.88,63.32 203.96,64.08 204.04,63.84 204.12,65.14 204.20,64.95 204.28,65.99 204.36,66.89 204.44,66.66 204.53,67.03 204.61,68.64 204.70,68.34 204.79,69.34 204.87,69.60 204.96,70.03 205.05,70.99 205.14,70.77 205.22,70.54 205.31,71.66 205.39,71.98 205.47,72.22 205.54,73.06 205.62,73.96 205.70,74.49 205.77,74.78 205.85,75.17 205.93,75.76 206.00,76.01 206.08,76.31 206.16,77.25 206.24,78.13 206.32,77.85 206.40,78.70 206.49,79.52 206.58,79.21 206.68,80.35 206.77,80.74 206.87,81.65 206.98,81.21 207.10,81.91 207.21,83.36 207.37,84.08 207.55,83.84 207.77,84.66 208.13,83.99 208.51,84.46 208.73,83.68 208.94,83.40 209.09,82.01 209.25,82.20 209.40,81.98 209.53,81.71 209.66,80.90 209.79,80.41 209.92,80.19 210.04,80.06 210.17,78.07 210.29,77.37 210.41,77.80 210.54,78.08 210.67,77.70 210.80,76.69 210.93,75.40 211.07,75.66 211.22,74.60 211.37,74.83 211.53,73.86 211.68,74.29 211.84,72.53 211.99,73.23 212.14,71.69 212.28,71.90 212.42,71.24 212.57,69.97 212.71,69.19 212.85,69.56 212.99,69.01 213.13,68.39 213.28,68.56 213.42,67.87 213.58,67.54 213.74,66.27 213.90,66.23 214.08,65.76 214.27,65.86 214.46,65.53 214.71,64.24 214.97,64.05 215.39,62.60 215.80,64.94 216.14,64.47 216.36,64.99 216.58,65.36 216.75,65.58 216.91,65.28 217.07,66.16 217.22,66.69 217.35,67.45 217.48,67.51 217.61,68.63 217.74,69.33 217.86,69.59 217.97,70.06 218.09,71.62 218.21,70.58 218.32,71.13 218.44,72.33 218.55,72.24 218.67,73.74 218.78,73.07 218.90,73.87 219.02,75.20 219.14,74.06 219.26,75.84 219.38,75.96 219.51,76.41 219.65,77.47 219.79,76.98 219.92,78.05 220.06,77.98 220.20,79.33 220.34,78.59 220.48,79.64 220.61,79.89 220.74,80.10 220.87,81.60 220.99,81.40 221.12,82.36 221.24,81.43 221.36,82.55 221.49,83.06 221.61,84.20 221.73,83.72 221.85,85.15 221.97,85.94 222.10,86.00 222.22,86.51 222.34,86.74 222.47,86.98 222.59,87.88 222.73,88.48 222.86,89.58 222.99,89.43 223.13,89.47 223.27,90.70 223.43,90.27 223.58,90.26 223.74,91.60 223.92,91.84 224.13,92.95 224.34,93.06 224.69,92.80 225.05,93.08 225.38,92.81 225.53,93.59 225.67,91.49 225.81,91.11 225.90,91.73 225.99,91.35 226.08,89.98 226.17,90.32 226.24,89.12 226.31,88.22 226.38,88.12 226.45,88.11 226.51,87.90 226.58,86.58 226.64,85.55 226.70,85.80 226.76,84.97 226.82,84.37 226.88,84.41 226.94,83.81 227.00,82.61 227.06,82.37 227.11,82.90 227.17,81.61 227.23,82.10 227.30,79.54 227.36,79.70 227.43,79.74 227.49,78.76 227.56,78.82 227.63,78.28 227.71,77.09 227.79,78.15 227.87,77.63 227.96,75.45 228.04,75.64 228.14,74.65 228.23,74.60 228.33,74.08 228.43,73.70 228.52,73.87 228.62,73.42 228.72,72.19 228.81,72.06 228.91,71.69 229.01,70.11 229.11,70.42 229.21,69.40 229.31,69.97 229.41,69.53 229.51,68.58 229.61,68.66 229.71,67.31 229.81,66.57 229.92,67.13 230.02,65.98 230.13,65.65 230.24,64.35 230.34,64.87 230.45,63.98 230.56,63.47 230.67,62.51 230.79,62.19 230.90,61.87 231.02,61.66 231.13,61.72 231.25,59.76 231.37,59.44 231.48,59.17 231.59,58.79 231.71,58.26 231.82,57.61 231.92,57.36 232.02,57.41 232.12,56.51 232.23,55.77 232.33,56.03 232.43,55.31 232.53,54.27 232.63,54.85 232.73,53.45 232.83,52.80 232.94,52.97 233.04,51.90 233.15,51.32 233.26,52.00 233.39,50.62 233.51,49.88 233.63,49.96 233.77,49.32 233.92,47.96 234.08,48.22 234.27,48.22 234.49,47.31 234.75,47.34 235.16,46.25 235.56,47.48 235.91,47.24 236.14,47.49 236.37,47.69 236.58,49.21 236.75,49.20 236.92,49.49 237.10,50.33 237.27,50.56 237.42,50.93 237.57,51.75 237.72,51.84 237.87,52.99 238.02,54.16 238.16,52.66 238.30,53.99 238.44,54.25 238.58,55.24 238.72,54.45 238.86,56.94 239.00,56.76 239.14,57.87 239.28,57.90 239.42,57.31 239.57,58.21 239.72,59.58 239.86,59.80 240.01,59.35 240.17,60.33 240.34,61.35 240.52,61.78 240.69,61.43 240.87,62.27 241.07,62.80 241.27,62.88 241.47,63.34 241.66,64.39 241.86,64.37 242.07,64.80 242.28,65.86 242.50,66.30 242.74,66.45 242.99,66.40 243.27,66.62 243.59,66.86 243.96,67.44 244.36,68.19 244.81,67.62 245.29,67.96 245.79,67.90 246.27,68.37 246.74,67.89 247.20,68.65 247.66,68.37 248.14,67.59 248.63,67.41 249.13,68.03 249.60,67.23 250.04,68.35 250.46,67.53 250.86,68.27 251.23,68.96 251.57,69.23 251.88,68.76 252.18,69.55 252.45,70.44 252.69,70.03 252.92,72.13 253.08,71.38 253.25,72.27 253.42,74.04 253.52,73.03 253.62,73.79 253.72,74.43 253.79,74.56 253.85,74.63 253.91,74.87 253.97,76.24 254.01,76.51 254.04,77.78 254.07,77.71 254.10,78.45 254.12,78.10 254.14,78.96 254.15,79.83 254.17,79.94 254.19,80.94 254.20,80.91 254.21,81.48 254.22,82.31 254.23,82.04 254.24,84.39 254.25,82.99 254.26,84.83 254.28,85.37 254.29,84.99 254.30,85.82 254.32,86.59 254.34,86.79 254.36,87.43 254.38,87.45 254.40,88.36 254.43,88.34 254.45,88.55 254.47,89.51 254.50,90.47 254.52,90.76 254.54,91.29 254.56,91.42 254.58,92.17 254.60,92.22 254.61,93.05 254.63,93.65 254.65,93.71 254.66,95.34 254.68,94.15 254.69,95.92 254.71,95.94 254.72,97.11 254.73,96.85 254.74,98.02 254.75,97.73 254.76,98.22 254.77,99.00 254.78,99.62 254.79,99.62 254.80,101.18 254.81,100.57 254.82,101.48 254.82,102.15 254.83,102.54 254.84,103.61 254.85,103.14 254.85,104.58 254.86,105.16 254.87,105.12 254.87,106.56 254.88,105.32 254.88,106.31 254.89,106.39 254.90,106.08 254.90,106.95 254.91,108.74 254.91,108.56 254.92,108.41 254.92,110.13 254.93,109.96 254.93,110.88 254.94,111.34 254.94,112.79 254.95,111.40 254.95,113.18 254.96,115.26 254.96,114.09 254.97,114.74 254.97,115.05 254.98,116.00 254.99,116.30 254.99,116.89 255.00,116.53 255.00,117.59 255.01,118.33 255.01,118.60 255.02,119.36 255.02,120.11 255.03,120.74 255.04,120.70 255.05,121.38 255.05,121.40 255.06,121.91 255.07,122.96 255.07,122.47 255.08,124.17 255.09,123.54 255.09,124.55 255.10,124.70 255.11,125.16 255.12,126.32 255.12,125.74 255.13,127.79 255.14,126.77 255.15,128.45 255.15,128.45 255.16,128.94 255.17,129.76 255.18,130.73 255.18,130.68 255.19,130.74 255.20,131.60 255.21,132.58 255.21,132.09 255.22,133.23 255.23,134.20 255.24,133.78 255.24,134.51 255.25,135.55 255.26,135.30 255.26,136.08 255.27,136.45 255.28,137.21 255.28,137.04 255.29,137.26 255.30,139.14 255.30,138.69 255.31,139.11 255.32,140.52 255.32,140.30 255.33,140.99 255.34,141.03 255.34,141.95 255.35,142.77 255.36,143.60 255.36,143.96 255.37,143.48 255.38,144.42 255.38,145.42 255.39,145.16 255.39,145.63 255.40,146.43 255.41,147.63 255.41,147.01 255.42,148.48 255.43,148.94 255.43,148.76 255.44,148.97 255.45,149.94 255.45,150.41 255.46,150.77 255.46,151.61 255.47,153.22 255.48,153.05 255.48,153.69 255.49,153.56 255.50,154.67 255.50,154.24 255.51,155.20 255.51,156.15 255.52,157.22 255.53,156.86 255.53,157.16 255.54,157.56 255.54,157.61 255.55,158.88 255.56,159.91 255.56,159.93 255.57,160.05 255.58,160.46 255.58,160.61 255.59,162.27 255.59,162.08 255.60,163.17 255.61,162.64 255.61,163.96 255.62,164.49 255.62,164.51 255.63,164.82 255.64,166.90 255.64,166.90 255.65,167.24 255.66,166.76 255.66,168.31 255.67,168.39 255.67,169.46 255.68,169.03 255.69,169.48 255.69,169.57 255.70,169.82 255.70,170.25 255.71,171.39 255.72,172.09 255.72,173.35 255.73,174.07 255.74,173.30 255.74,172.96 255.75,174.73 255.76,175.28 255.76,175.38 255.77,175.61 255.77,176.24 255.78,177.17 255.79,177.66 255.79,177.22 255.80,178.51 255.81,178.57 255.81,179.09 255.82,180.12 255.83,180.16 255.83,181.19 255.84,180.33 255.85,182.34 255.85,182.68 255.86,182.83 255.87,183.15 255.87,183.28 255.88,184.00 255.89,185.96 255.89,185.77 255.90,186.02 255.91,186.24 255.91,186.74 255.92,186.97 255.93,188.22 255.93,189.04 255.94,188.54 255.95,189.88 255.95,189.85 255.96,190.73 255.97,190.61 255.98,191.96 255.98,192.91 255.99,192.27 256.00,192.92 256.01,194.05 256.01,193.73 256.02,193.92 256.03,193.80 256.03,195.30 256.04,196.64 256.05,196.20 256.06,196.97 256.06,196.32 256.07,197.81 256.08,198.46 256.09,198.72 256.09,199.31 256.10,199.46 256.10,200.08 256.10,201.64 256.11,200.97 256.11,202.70 256.11,201.88 256.11,203.69 256.11,203.50 256.11,204.38 256.12,204.46 256.12,205.32 256.12,206.75 256.12,204.92 256.12,206.27 256.13,207.27 256.13,208.31 256.13,207.43 256.13,208.60 256.13,209.52 256.13,209.32 256.14,210.09 256.14,210.71 256.14,211.58 256.14,211.79 256.13,212.28 256.13,212.25 256.12,212.83 256.12,214.69 256.11,213.44 256.11,214.40 256.10,214.74 256.10,215.62 256.09,215.63 256.09,216.95 256.08,216.71 256.08,217.29 256.07,217.31 256.07,218.34 256.06,218.29 256.06,219.43 256.05,220.33 256.05,219.73 256.04,222.02 256.04,221.98 256.03,222.18 256.03,222.39 256.02,223.59 256.02,223.80 256.01,223.87 256.01,224.66 256.00,225.15 255.99,225.16 255.99,226.77 255.98,225.90 255.97,227.30 255.97,227.12 255.96,228.05 255.95,228.47 255.94,229.17 255.94,230.36 255.93,229.85 255.92,230.86 255.92,231.28 255.91,231.71 255.90,231.50 255.90,232.58 255.89,232.25 255.88,234.15 255.87,234.82 255.87,234.67 255.86,235.35 255.85,235.57 255.85,235.17 255.84,236.43 255.83,237.55 255.83,237.55 255.82,237.67 255.81,237.12 255.81,239.62 255.80,240.41 255.80,240.96 255.79,241.87 255.79,239.98 255.78,241.60 255.78,242.42 255.77,242.30 255.76,243.20 255.76,244.17 255.75,243.79 255.75,244.90 255.74,244.60 255.74,244.34 255.73,246.10 255.73,246.84 255.72,247.34 255.71,248.00 255.71,247.56 255.70,248.91 255.70,247.49 255.69,249.68 255.69,249.41 255.68,250.59 255.68,250.47 255.68,251.67 255.68,252.52 255.68,253.13 255.68,252.81 255.68,254.29 255.68,254.23 255.68,255.29 255.68,255.06 255.68,255.03 255.68,256.11 255.68,256.12 255.68,256.58 255.68,256.51 255.68,258.16 255.68,259.25 255.68,258.52 255.68,259.46 255.68,259.30 255.68,260.77 255.68,261.64 255.68,261.55 255.68,262.42 255.68,262.93 255.69,262.97 255.70,263.96 255.71,263.22 255.72,264.49 255.74,265.15 255.75,265.90 255.76,266.73 255.77,266.47 255.78,266.63 255.80,267.34 255.81,267.91 255.82,268.11 255.83,268.35 255.85,269.71 255.86,269.45 255.87,270.55 255.88,271.07 255.89,271.53 255.91,272.59 255.92,272.76 255.93,273.17 255.97,274.31 256.01,273.88 256.05,273.87 256.09,274.78 256.13,276.06 256.17,275.55 256.21,276.12 256.25,277.29 256.29,278.79 256.33,277.84 256.37,279.10 256.41,279.82 256.44,279.28 256.48,279.70 256.52,280.42 256.62,280.67 256.75,281.51 256.88,281.38 257.00,282.35 257.13,282.90 257.25,284.49 257.38,283.24 257.51,284.46 257.67,284.48 257.99,285.24 258.40,285.33 258.87,285.29 259.36,285.59 259.83,285.15 260.25,285.36 260.62,285.44 260.97,284.82 261.28,284.23 261.58,284.11 261.87,283.27 262.13,283.19 262.39,283.88 262.63,282.29 262.87,282.66 263.09,281.58 263.29,280.54 263.48,280.42 263.66,279.29 263.84,279.62 264.00,279.48 264.14,278.63 264.28,278.35 264.42,277.47 264.56,276.74 264.68,275.55 264.79,276.22 264.90,275.97 265.01,275.43 265.12,274.39 265.23,274.32 265.33,273.81 265.43,273.37 265.52,272.23 265.62,271.49 265.72,270.58 265.81,270.86 265.90,270.38 265.99,269.68 266.08,269.68 266.17,268.45 266.26,268.73 266.35,268.91 266.44,267.55 266.53,266.26 266.63,266.63 266.72,265.86 266.81,265.68 266.90,265.01 267.00,264.36 267.09,264.34 267.19,264.21 267.29,263.11 267.38,262.76 267.49,261.45 267.60,262.75 267.71,260.81 267.82,260.77 267.93,259.56 268.04,260.03 268.15,258.83 268.26,258.84 268.37,258.01 268.48,257.68 268.59,257.17 268.70,256.42 268.80,256.28 268.90,255.47 269.00,255.21 269.10,254.68 269.20,253.87 269.30,254.01 269.40,253.72 269.49,253.00 269.59,251.66 269.69,252.20 269.79,251.87 269.88,250.12 269.98,250.97 270.08,248.81 270.18,249.64 270.28,249.32 270.38,249.14 270.48,248.75 270.59,247.75 270.69,247.50 270.79,247.31 270.91,246.96 271.02,245.72 271.13,245.50 271.24,244.01 271.35,243.73 271.47,244.32 271.60,243.36 271.74,242.10 271.87,242.12 272.01,240.87 272.15,241.19 272.34,241.25 272.53,239.46 272.71,239.82 272.98,239.61 273.35,239.03 273.72,239.22 274.09,239.16 274.28,239.56 274.46,240.44 274.65,239.97 274.79,241.32 274.91,241.12 275.04,241.97 275.17,243.55 275.29,243.11 275.40,243.55 275.50,244.70 275.61,244.39 275.71,244.97 275.82,245.72 275.91,246.55 276.01,246.27 276.11,247.20 276.20,246.78 276.30,247.57 276.40,248.64 276.49,248.85 276.59,249.79 276.69,250.54 276.78,249.61 276.88,251.30 276.98,251.69 277.08,251.95 277.19,252.68 277.29,252.71 277.40,253.79 277.51,254.16 277.62,255.46 277.75,254.10 277.87,255.01 278.00,256.21 278.13,256.99 278.26,256.37 278.40,256.92 278.54,257.68 278.68,258.59 278.81,258.45 278.94,259.84 279.07,260.61 279.20,260.23 279.33,261.40 279.46,260.56 279.59,261.30 279.72,262.57 279.85,263.20 279.98,262.59 280.12,263.50 280.26,264.43 280.39,264.68 280.53,264.79 280.68,265.65 280.83,266.54 280.98,266.36 281.13,266.45 281.31,268.19 281.49,267.79 281.67,267.48 281.91,269.05 282.16,269.81 282.51,270.23 282.92,270.25 283.31,269.45 283.54,269.19 283.74,268.79 283.93,268.93 284.07,267.79 284.22,266.38 284.36,267.17 284.49,266.26 284.60,265.62 284.72,265.10 284.83,265.11 284.95,264.25 285.05,263.89 285.15,263.27 285.26,263.25 285.36,261.71 285.46,261.99 285.57,261.56 285.67,260.81 285.77,261.06 285.87,260.66 285.97,259.22 286.08,259.48 286.19,258.03 286.29,258.90 286.40,258.01 286.51,256.66 286.63,256.84 286.76,256.22 286.88,255.29 287.00,254.37 287.13,254.41 287.25,254.51 287.37,254.00 287.50,253.24 287.61,252.78 287.72,251.63 287.82,251.29 287.93,251.16 288.04,250.49 288.14,249.61 288.25,248.98 288.35,249.71 288.45,248.59 288.55,248.35 288.66,247.16 288.77,246.55 288.87,247.13 288.98,246.36 289.08,246.17 289.20,244.84 289.32,244.52 289.43,244.40 289.55,243.61 289.68,243.94 289.82,243.45 289.97,241.96 290.11,242.36 290.30,241.29 290.51,241.35 290.72,240.67 291.10,240.05 291.51,240.24 291.89,241.37 292.17,241.37 292.41,241.48 292.61,241.56 292.81,243.41 292.99,243.35 293.16,243.33 293.33,243.96 293.49,244.12 293.65,244.88 293.80,245.56 293.96,245.60 294.11,246.00 294.26,246.25 294.42,246.65 294.57,247.41 294.73,248.12 294.89,247.29 295.06,249.25 295.23,248.85 295.41,250.25 295.58,250.84 295.75,251.47 295.93,251.52 296.09,251.31 296.25,253.11 296.40,252.40 296.55,253.86 296.70,253.17 296.85,254.02 296.99,253.96 297.14,255.00 297.29,255.80 297.44,256.45 297.59,255.64 297.74,256.72 297.91,256.98 298.07,258.41 298.24,258.48 298.43,259.33 298.62,259.27 298.86,260.53 299.12,260.23 299.50,260.77 299.91,260.71 300.29,260.18 300.49,259.20 300.70,259.00 300.88,259.40 301.02,258.88 301.17,257.54 301.31,257.51 301.44,255.93 301.55,256.79 301.67,255.71 301.78,254.17 301.90,254.33 302.00,254.14 302.11,253.61 302.21,253.29 302.31,252.41 302.41,251.44 302.52,252.64 302.61,250.86 302.71,250.30 302.81,249.63 302.91,249.70 303.01,250.00 303.12,249.50 303.22,249.40 303.32,247.60 303.43,247.40 303.54,247.62 303.65,246.38 303.77,246.19 303.89,246.41 304.00,244.50 304.13,244.00 304.25,244.33 304.38,243.23 304.50,242.94 304.62,243.20 304.74,242.30 304.86,242.33 304.98,240.78 305.10,240.67 305.21,240.35 305.33,239.86 305.44,238.18 305.56,238.17 305.67,238.47 305.79,236.77 305.91,236.40 306.02,236.36 306.14,236.01 306.26,236.18 306.37,235.59 306.49,234.56 306.61,233.84 306.73,233.36 306.85,233.94 306.97,233.05 307.09,232.67 307.22,230.87 307.35,230.46 307.48,231.43 307.61,231.48 307.74,230.20 307.88,229.08 308.02,228.16 308.16,227.87 308.29,228.24 308.43,227.70 308.57,226.74 308.70,226.92 308.83,226.86 308.96,225.87 309.09,224.88 309.21,224.08 309.35,223.99 309.48,223.32 309.62,224.09 309.77,222.55 309.92,223.10 310.07,221.53 310.25,221.45 310.43,221.11 310.63,220.31 310.85,220.03 311.07,219.56 311.35,219.00 311.64,218.75 311.98,218.96 312.36,218.95 312.77,217.66 313.21,218.24 313.66,217.25 314.12,217.11 314.58,217.09 315.03,216.64 315.49,216.95 315.95,216.06 316.41,216.03 316.87,216.00 317.34,215.40 317.81,215.16 318.28,215.56 318.75,215.65 319.22,214.89 319.70,214.39 320.17,214.37 320.64,214.37 321.11,214.20 321.60,214.16 322.09,215.15 322.59,213.54 323.08,213.50 323.56,213.62 324.02,213.02 324.43,213.90 324.77,212.34 324.98,212.21 325.18,211.65 325.38,211.84 325.58,211.15 325.70,210.41 325.78,210.03 325.86,210.05 325.94,209.52 326.03,209.71 326.10,207.95 326.13,208.51 326.15,208.34 326.18,207.10 326.20,205.45 326.23,205.92 326.25,205.79 326.27,205.18 326.27,204.42 326.27,203.38 326.26,203.67 326.26,203.03 326.26,202.36 326.25,200.92 326.25,201.67 326.25,200.93 326.23,200.62 326.22,199.55 326.20,200.12 326.19,199.28 326.17,198.49 326.15,197.27 326.14,196.99 326.12,195.97 326.11,196.43 326.09,195.49 326.07,195.12 326.06,193.64 326.04,194.41 326.02,193.17 326.00,192.17 325.98,193.63 325.97,193.17 325.95,191.73 325.93,190.21 325.92,190.72 325.90,190.68 325.89,189.35 325.88,189.73 325.87,189.27 325.86,188.57 325.84,188.10 325.83,186.73 325.82,186.52 325.81,185.70 325.80,185.04 325.79,185.68 325.79,184.63 325.79,184.69 325.79,183.64 325.80,182.78 325.80,183.45 325.80,182.86 325.80,181.68 325.80,181.53 325.80,179.87 325.80,179.99 325.80,180.40 325.81,179.36 325.81,178.73 325.82,178.99 325.83,178.48 325.83,176.79 325.84,176.56 325.84,176.41 325.85,175.25 325.86,175.57 325.86,175.12 325.87,174.32 325.87,173.05 325.88,173.19 325.88,172.77 325.89,172.47 325.90,171.76 325.90,171.11 325.91,171.64 325.91,170.97 325.92,169.48 325.93,168.66 325.93,169.33 325.94,167.95 325.94,167.20 325.95,167.41 325.96,166.15 325.96,165.89 325.97,165.68 325.97,165.31 325.97,164.53 325.98,164.85 325.98,164.16 325.98,164.24 325.98,163.06 325.99,162.47 325.99,162.29 325.99,161.23 325.99,161.34 326.00,160.02 326.00,159.55 326.00,157.98 326.00,158.40 326.01,158.48 326.01,158.05 326.01,157.35 326.01,156.99 326.02,157.53 326.02,155.87 326.02,155.41 326.02,154.74 326.03,154.60 326.03,153.20 326.03,153.54 326.03,153.77 326.03,152.80 326.04,152.25 326.04,150.91 326.04,150.08 326.04,150.29 326.05,150.05 326.05,148.99 326.05,148.46 326.05,147.62 326.06,147.26 326.06,148.06 326.06,146.93 326.06,146.77 326.06,145.70 326.06,144.87 326.07,144.57 326.07,144.53 326.07,143.53 326.07,143.75 326.07,143.12 326.07,141.66 326.07,141.99 326.07,141.60 326.07,141.87 326.07,139.78 326.08,139.66 326.08,139.27 326.08,138.63 326.08,139.10 326.08,137.32 326.08,137.25 326.08,137.32 326.08,137.13 326.08,135.98 326.09,135.93 326.09,134.66 326.09,134.83 326.09,133.69 326.09,133.92 326.09,132.06 326.09,132.76 326.09,131.52 326.09,131.14 326.09,130.76 326.10,130.47 326.10,129.70 326.10,128.68 326.10,128.44 326.10,128.48 326.10,128.18 326.10,127.25 326.10,126.83 326.10,125.87 326.11,126.06 326.11,125.11 326.11,124.01 326.11,125.23 326.11,123.44 326.11,123.24 326.11,123.46 326.11,121.96 326.11,120.94 326.11,121.55 326.11,121.12 326.11,119.94 326.11,119.48 326.11,119.72 326.12,118.51 326.12,118.22 326.12,117.59 326.12,118.34 326.12,115.97 326.12,116.71 326.12,115.67 326.12,115.98 326.12,113.53 326.12,114.42 326.12,113.89 326.12,112.50 326.12,111.49 326.12,113.20 326.13,111.95 326.13,110.97 326.13,110.29 326.13,110.64 326.13,110.23 326.13,108.93 326.13,108.77 326.13,108.93 326.13,107.29 326.13,107.62 326.13,107.37 326.13,105.31 326.13,105.09 326.13,106.31 326.13,104.65 326.14,104.76 326.14,103.94 326.14,103.74 326.14,103.45 326.14,103.08 326.14,102.23 326.14,100.73 326.14,100.29 326.14,101.22 326.14,99.43 326.15,99.19 326.15,98.07 326.15,97.69 326.15,97.59 326.15,97.59 326.15,96.83 326.15,96.07 326.15,95.29 326.16,94.35 326.16,95.06 326.16,93.66 326.16,94.30 326.16,93.58 326.16,91.88 326.16,92.33 326.16,92.45 326.16,90.62 326.17,90.91 326.17,90.55 326.17,89.94 326.17,89.29 326.17,89.64 326.17,88.37 326.17,87.29 326.17,86.84 326.18,86.44 326.18,85.89 326.18,85.68 326.18,84.57 326.18,85.81 326.18,84.46 326.18,83.60 326.18,84.00 326.18,83.45 326.19,81.60 326.19,82.02 326.19,80.73 326.19,80.36 326.19,80.51 326.19,79.61 326.20,79.52 326.20,78.47 326.20,78.64 326.20,77.96 326.21,76.37 326.21,76.68 326.21,75.11 326.21,75.13 326.22,75.45 326.22,75.22 326.22,73.67 326.23,73.47 326.23,73.07 326.23,72.21 326.23,72.97 326.24,72.29 326.24,71.32 326.24,70.58 326.24,70.29 326.25,69.72 326.25,68.99 326.25,68.13 326.25,68.21 326.26,67.98 326.26,67.24 326.26,67.47 326.26,65.37 326.27,65.58 326.27,65.60 326.27,65.38 326.27,64.22 326.28,63.91 326.28,63.36 326.28,62.99 326.28,62.34 326.29,61.89 326.29,61.74 326.29,60.70 326.29,60.29 326.30,59.25 326.31,58.89 326.31,58.74 326.32,58.59 326.32,57.65 326.33,58.11 326.33,56.55 326.34,56.42 326.34,55.60 326.35,55.99 326.36,54.71 326.36,53.70 326.37,53.46 326.37,52.10 326.38,53.19 326.38,53.49 326.39,51.62 326.39,51.66 326.40,51.25 326.40,50.17 326.41,49.47 326.42,49.92 326.42,48.24 326.43,48.57 326.43,48.06 326.44,46.83 326.44,45.83 326.45,46.67 326.45,45.77 326.46,45.61 326.47,44.20 326.47,44.03 326.48,44.05 326.48,43.37 326.49,42.85 326.50,42.04 326.51,41.88 326.52,41.40 326.54,41.19 326.55,40.49 326.56,40.02 326.57,39.22 326.59,40.13 326.60,37.66 326.61,38.09 326.62,36.05 326.63,36.45 326.65,36.80 326.66,34.76 326.67,35.84 326.68,34.18 326.70,34.59 326.71,33.46 326.72,32.92 326.73,32.49 326.74,32.63 326.76,31.60 326.77,31.64 326.78,30.77 326.79,29.83 326.81,30.47 326.83,28.96 326.85,28.62 326.87,28.99 326.89,28.51 326.90,27.43 326.92,27.35 326.94,26.58 326.96,25.29 326.98,24.98 327.00,24.82 327.02,24.90 327.04,23.51 327.07,23.03 327.09,22.34 327.11,22.16 327.13,21.31 327.16,21.48 327.18,21.20 327.20,20.36 327.23,18.79 327.26,18.55 327.29,18.72 327.31,18.95 327.35,17.50 327.38,17.67 327.42,16.73 327.45,16.87 327.49,15.19 327.53,14.69 327.58,14.51 327.62,14.34 327.67,13.88 327.72,14.34 327.78,13.01 327.85,11.77 327.91,12.22 327.98,10.36 328.06,11.19 328.15,10.29 328.23,9.36 328.32,9.12 328.40,8.59 328.49,8.64 328.57,7.77 328.67,7.91 328.77,6.56 328.90,7.27 329.07,7.09 329.30,5.74 329.69,5.92 330.17,5.34 330.55,5.93 330.91,6.28 331.22,5.39 331.53,7.38 331.82,6.73 332.10,7.44 332.38,7.81 332.64,8.91 332.89,8.88 333.15,9.25 333.40,9.67 333.64,9.94 333.88,11.18 334.12,10.56 334.35,11.60 334.58,11.88 334.81,12.46 335.03,12.56 335.25,12.92 335.47,14.11 335.68,14.51 335.88,14.26 336.08,14.39 336.28,15.36 336.46,16.17 336.63,16.04 336.81,16.50 336.99,16.13 337.15,18.06 337.30,17.99 337.46,19.32 337.62,19.61 337.77,19.87 337.91,20.41 338.05,21.08 338.20,21.37 338.34,21.95 338.47,22.80 338.60,22.38 338.73,22.54 338.86,23.71 338.99,23.94 339.12,25.62 339.24,25.07 339.37,25.08 339.49,26.10 339.61,26.57 339.73,27.84 339.85,27.72 339.97,28.56 340.09,28.62 340.21,28.52 340.33,29.43 340.45,29.62 340.57,31.59 340.69,31.75 340.80,31.19 340.91,30.72 341.02,32.12 341.13,32.78 341.25,33.03 341.36,34.04 341.46,34.57 341.57,35.24 341.67,35.64 341.77,35.56 341.87,36.10 341.97,37.20 342.07,37.51 342.16,36.79 342.26,38.55 342.35,39.49 342.44,38.67 342.54,39.69 342.63,41.17 342.72,40.60 342.81,41.87 342.90,41.36 342.99,42.13 343.08,42.32 343.16,43.09 343.25,43.79 343.34,43.83 343.43,44.73 343.51,44.84 343.60,46.19 343.68,46.18 343.77,47.16 343.86,46.65 343.94,47.62 344.03,48.71 344.11,48.25 344.20,49.75 344.28,49.52 344.37,50.38 344.45,50.72 344.54,51.07 344.62,51.85 344.71,52.39 344.80,52.24 344.88,53.60 344.97,53.25 345.06,54.04 345.15,54.90 345.23,54.32 345.32,55.63 345.42,56.27 345.51,56.94 345.60,57.37 345.69,56.95 345.78,57.36 345.87,58.53 345.96,59.94 346.05,59.90 346.13,59.60 346.22,60.65 346.30,61.13 346.39,61.37 346.48,61.72 346.56,61.83 346.63,62.33 346.71,63.66 346.79,63.91 346.86,64.40 346.94,65.40 347.01,65.89 347.09,65.13 347.16,66.29 347.24,66.89 347.31,67.02 347.38,67.75 347.45,68.04 347.53,69.95 347.60,69.20 347.67,70.30 347.74,69.76 347.82,69.78 347.89,71.91 347.97,72.04 348.04,72.15 348.12,72.56 348.19,73.63 348.27,74.04 348.34,73.85 348.42,75.41 348.50,75.97 348.58,75.60 348.66,74.70 348.75,77.45 348.83,77.71 348.91,77.50 348.99,77.61 349.08,78.81 349.19,79.76 349.29,80.12 349.39,80.03 349.49,80.10 349.59,80.20 349.70,81.08 349.84,81.56 349.99,82.06 350.14,83.67 350.29,83.00 350.55,82.75 350.87,84.67 351.25,84.53 351.55,83.89 351.78,83.81 351.96,83.04 352.12,83.09 352.27,81.60 352.41,81.70 352.54,80.68 352.67,80.58 352.79,80.47 352.92,79.86 353.04,79.37 353.16,79.16 353.29,79.04 353.41,76.78 353.54,77.03 353.67,77.31 353.80,76.25 353.94,76.29 354.08,76.29 354.24,75.32 354.40,74.78 354.57,74.06 354.74,73.23 354.91,72.89 355.07,73.23 355.24,72.85 355.40,72.13 355.56,71.07 355.72,69.97 355.87,70.18 356.03,69.39 356.20,69.54 356.36,68.21 356.53,67.56 356.69,68.39 356.87,67.16 357.05,66.88 357.23,66.33 357.43,65.79 357.64,65.14 357.86,64.88 358.12,64.14 358.41,64.45 358.81,63.67 359.22,63.31 359.59,64.10 359.79,65.06 359.99,65.26 360.17,65.52 360.30,65.48 360.44,66.25 360.57,67.06 360.70,67.54 360.81,68.74 360.91,68.96 361.02,69.25 361.13,68.89 361.23,70.84 361.33,70.48 361.42,69.93 361.52,72.10 361.61,72.05 361.71,72.76 361.80,72.92 361.89,73.58 361.99,73.43 362.08,74.23 362.18,75.24 362.27,76.10 362.37,75.20 362.47,76.60 362.56,77.16 362.67,76.56 362.78,77.82 362.89,78.19 363.01,78.23 363.12,79.04 363.23,80.03 363.34,80.80 363.46,80.44 363.57,81.27 363.67,82.17 363.77,82.51 363.87,82.06 363.97,83.73 364.06,84.74 364.16,84.18 364.25,85.88 364.34,84.36 364.44,85.05 364.53,86.18 364.63,87.51 364.72,87.36 364.82,87.94 364.92,87.80 365.02,88.51 365.13,89.03 365.23,90.15 365.35,89.94 365.47,90.29 365.60,91.21 365.73,92.45 365.91,91.16 366.09,92.01 366.39,93.23 366.72,92.74 366.98,93.25 367.24,91.36 367.35,90.92 367.46,91.68 367.57,90.67 367.68,90.22 367.80,89.60 367.88,88.79 367.96,88.30 368.03,88.46 368.11,87.93 368.19,87.49 368.26,86.58 368.34,85.18 368.41,85.83 368.48,85.26 368.54,84.75 368.60,83.63 368.67,83.27 368.73,84.12 368.79,82.92 368.86,82.28 368.92,81.04 368.98,81.26 369.04,81.85 369.10,80.57 369.16,81.59 369.22,78.19 369.28,78.38 369.34,77.58 369.40,77.54 369.46,77.74 369.52,76.55 369.58,75.74 369.64,76.95 369.70,75.51 369.76,74.75 369.82,74.80 369.88,73.11 369.95,73.36 370.01,73.13 370.07,73.17 370.13,72.12 370.19,72.11 370.26,71.25 370.32,70.71 370.39,68.39 370.47,70.00 370.54,69.40 370.61,68.52 370.68,67.94 370.75,67.48 370.82,66.60 370.90,66.21 370.97,64.38 371.06,64.83 371.16,64.91 371.25,64.93 371.34,63.44 371.44,64.15 371.53,62.82 371.62,62.26 371.72,61.96 371.83,62.08 371.94,60.41 372.05,60.94 372.16,60.54 372.27,59.40 372.37,59.52 372.48,58.61 372.58,58.18 372.69,56.74 372.80,57.19 372.90,56.30 373.01,55.10 373.12,56.27 373.23,54.64 373.33,54.59 373.44,54.96 373.55,53.59 373.67,52.88 373.78,53.73 373.90,52.25 374.02,52.14 374.13,52.07 374.26,51.19 374.39,50.04 374.52,49.54 374.66,49.21 374.79,49.63 374.94,48.74 375.10,47.54 375.27,47.07 375.43,46.94 375.62,46.60 375.85,46.01 376.09,45.13 376.40,46.03 376.81,45.17 377.22,44.90 377.59,45.62 377.82,45.34 378.06,46.03 378.25,46.13 378.42,47.06 378.60,47.24 378.77,47.99 378.91,47.32 379.06,49.03 379.20,49.65 379.35,50.51 379.49,49.95 379.62,51.09 379.76,51.06 379.90,52.51 380.03,52.67 380.17,52.77 380.31,52.05 380.45,54.30 380.59,55.10 380.73,54.81 380.88,54.88 381.04,56.20 381.19,56.18 381.35,56.33 381.52,57.83 381.71,57.93 381.90,58.65 382.09,58.52 382.30,59.57 382.51,59.24 382.73,59.61 382.94,59.71 383.15,60.91 383.36,60.56 383.58,61.42 383.80,61.46 384.02,62.62 384.25,64.11 384.48,63.06 384.73,63.58 384.97,64.08 385.23,64.48 385.51,65.30 385.79,66.75 386.10,66.15 386.41,66.89 386.77,66.29 387.13,66.81 387.53,67.75 387.96,67.88 388.43,67.89 388.91,67.73 389.39,67.88 389.88,68.24 390.37,69.54 390.86,69.05 391.35,68.01 391.82,68.90 392.26,69.19 392.68,69.33 393.08,68.34 393.47,69.69 393.84,70.61 394.17,70.33 394.46,70.57 394.72,71.33 394.95,71.94 395.14,72.02 395.29,72.62 395.41,73.53 395.53,73.64 395.65,73.19 395.78,74.26 395.88,75.33 395.94,75.86 396.00,76.04 396.05,76.69 396.11,76.71 396.17,77.97 396.23,77.93 396.28,79.32 396.30,78.43 396.33,79.51 396.35,80.45 396.38,80.50 396.40,80.99 396.43,81.26 396.45,81.94 396.48,82.52 396.49,82.93 396.50,83.49 396.51,83.77 396.52,83.92 396.52,84.77 396.53,85.86 396.54,86.52 396.55,86.46 396.55,86.39 396.56,87.73 396.56,88.06 396.56,88.28 396.56,89.43 396.56,90.07 396.56,89.74 396.56,90.50 396.56,91.39 396.56,91.21 396.56,92.29 396.56,93.33 396.55,93.23 396.55,94.03 396.55,93.81 396.54,93.66 396.54,95.45 396.54,96.86 396.54,95.78 396.53,96.63 396.53,96.82 396.53,97.34 396.52,98.48 396.52,98.92 396.52,98.30 396.52,99.76 396.52,99.87 396.52,100.87 396.52,102.70 396.52,101.27 396.52,102.70 396.52,101.92 396.52,103.48 396.52,104.54 396.52,104.16 396.52,105.28 396.53,104.72 396.54,105.18 396.54,106.75 396.55,106.84 396.56,107.97 396.57,107.84 396.57,107.49 396.58,108.64 396.59,108.37 396.59,109.76 396.60,109.06 396.61,110.70 396.62,110.04 396.64,111.58 396.65,111.93 396.66,112.97 396.67,114.18 396.68,114.49 396.69,114.66 396.70,114.58 396.71,114.86 396.72,116.23 396.73,115.61 396.74,116.73 396.75,117.58 396.77,117.33 396.78,117.50 396.79,117.78 396.80,118.64 396.81,119.22 396.82,121.03 396.82,121.58 396.83,120.92 396.84,121.29 396.85,122.28 396.86,122.13 396.86,123.13 396.87,123.52 396.88,123.94 396.89,124.57 396.90,125.34 396.91,125.94 396.91,126.43 396.92,125.78 396.93,126.90 396.94,126.90 396.95,128.87 396.96,127.37 396.96,129.15 396.97,129.41 396.98,130.51 396.99,131.10 396.99,131.88 397.00,130.61 397.01,131.46 397.01,131.78 397.02,133.15 397.03,134.22 397.03,135.12 397.04,134.92 397.05,135.27 397.05,135.82 397.06,136.12 397.07,138.17 397.07,136.72 397.08,138.11 397.09,138.33 397.09,138.98 397.10,137.85 397.10,138.57 397.11,139.85 397.12,139.89 397.12,141.51 397.13,142.29 397.14,142.44 397.14,142.83 397.15,143.91 397.15,143.61 397.16,144.25 397.16,144.29 397.17,145.24 397.18,145.57 397.18,146.13 397.19,146.31 397.19,147.27 397.20,147.19 397.20,148.66 397.21,148.59 397.22,148.56 397.22,149.26 397.23,150.31 397.23,149.99 397.24,150.61 397.24,151.65 397.25,152.39 397.26,152.51 397.26,152.75 397.27,153.66 397.27,153.49 397.28,155.01 397.28,155.38 397.29,156.49 397.29,155.74 397.30,155.66 397.30,155.76 397.31,158.50 397.31,158.09 397.32,159.04 397.32,158.71 397.33,159.95 397.33,159.87 397.34,161.95 397.34,160.64 397.35,162.16 397.36,160.98 397.36,162.31 397.37,162.44 397.37,164.24 397.38,164.65 397.38,165.54 397.39,165.69 397.39,165.98 397.40,165.17 397.40,166.60 397.41,166.73 397.41,167.16 397.42,167.78 397.42,169.11 397.43,168.66 397.43,168.96 397.44,170.55 397.44,170.76 397.45,170.43 397.45,171.12 397.46,172.67 397.47,172.41 397.47,173.03 397.48,173.59 397.48,174.41 397.49,174.38 397.49,175.11 397.50,175.69 397.50,175.46 397.51,177.13 397.51,177.72 397.52,177.66 397.52,178.00 397.53,178.57 397.54,178.56 397.54,180.52 397.55,179.46 397.55,179.97 397.56,180.52 397.56,181.94 397.57,182.88 397.58,182.37 397.58,182.34 397.59,183.28 397.59,184.24 397.60,184.41 397.60,185.33 397.61,185.23 397.62,185.49 397.62,185.99 397.63,186.52 397.63,187.47 397.64,188.79 397.65,188.83 397.65,188.45 397.66,189.81 397.66,190.49 397.67,190.47 397.68,191.53 397.69,191.43 397.69,191.68 397.70,192.95 397.71,194.30 397.71,192.67 397.72,193.59 397.73,194.40 397.73,195.23 397.74,196.62 397.75,196.60 397.75,196.82 397.76,197.16 397.77,197.21 397.77,197.83 397.78,199.07 397.79,199.24 397.79,199.37 397.80,199.97 397.81,200.36 397.81,201.39 397.82,200.58 397.82,202.09 397.83,201.91 397.84,202.68 397.84,203.66 397.85,204.05 397.85,205.38 397.86,205.66 397.86,205.11 397.87,206.15 397.88,206.87 397.88,206.84 397.89,206.74 397.89,208.24 397.90,208.58 397.90,208.94 397.91,209.56 397.91,211.12 397.92,210.24 397.92,210.80 397.92,212.11 397.93,211.76 397.93,212.92 397.93,212.85 397.93,213.26 397.94,213.80 397.94,215.36 397.94,215.14 397.95,215.18 397.95,216.08 397.95,216.42 397.96,217.60 397.96,216.75 397.96,217.16 397.97,218.45 397.97,217.94 397.97,219.59 397.97,220.23 397.98,221.16 397.98,221.92 397.98,222.31 397.98,222.62 397.99,223.50 397.99,223.07 397.99,223.29 397.99,224.15 398.00,224.80 398.00,224.85 398.00,226.19 398.00,226.15 398.00,228.10 398.01,226.35 398.01,227.48 398.01,228.11 398.01,228.10 398.02,229.24 398.02,229.35 398.02,229.72 398.02,229.81 398.03,231.67 398.03,231.74 398.03,231.76 398.04,232.48 398.04,233.08 398.04,233.54 398.04,234.12 398.05,234.29 398.05,234.76 398.05,236.16 398.06,235.88 398.06,237.05 398.06,237.85 398.07,237.13 398.07,238.53 398.07,238.55 398.07,238.62 398.08,239.47 398.08,240.10 398.09,240.55 398.09,241.31 398.10,241.05 398.11,242.13 398.11,242.74 398.12,243.58 398.12,244.84 398.13,244.20 398.13,244.91 398.14,244.80 398.14,246.43 398.15,246.08 398.15,246.20 398.16,247.10 398.16,247.34 398.17,247.23 398.18,248.76 398.19,248.59 398.20,249.87 398.21,249.87 398.22,250.99 398.23,249.77 398.24,251.91 398.25,252.20 398.26,252.29 398.27,252.45 398.28,253.69 398.29,254.20 398.30,255.98 398.31,254.47 398.32,255.78 398.33,256.03 398.34,256.61 398.35,256.58 398.37,257.33 398.39,258.43 398.41,258.50 398.42,258.63 398.44,259.68 398.46,260.23 398.48,261.12 398.50,261.28 398.52,261.52 398.53,261.47 398.55,263.63 398.57,262.89 398.59,264.11 398.61,263.73 398.64,263.85 398.67,265.04 398.71,265.41 398.74,265.88 398.77,266.08 398.81,266.95 398.84,267.03 398.87,268.13 398.91,267.93 398.94,269.07 398.97,269.49 399.01,270.37 399.05,271.44 399.10,271.08 399.14,271.42 399.19,273.02 399.23,272.69 399.27,272.65 399.32,273.52 399.36,274.41 399.41,274.96 399.46,275.12 399.51,276.71 399.57,275.37 399.63,275.66 399.69,276.07 399.76,278.16 399.83,278.26 399.91,278.94 400.01,278.97 400.12,280.68 400.22,280.19 400.38,279.59 400.53,280.23 400.73,282.25 400.94,282.35 401.20,281.45 401.49,282.21 401.81,283.05 402.18,283.54 402.60,283.39 403.08,283.47 403.54,283.81 403.95,283.61 404.26,283.55 404.57,282.96 404.83,282.19 405.08,281.51 405.32,281.62 405.53,281.70 405.75,280.40 405.96,280.60 406.16,279.82 406.35,279.86 406.55,278.36 406.74,277.98 406.92,277.23 407.10,277.79 407.28,276.71 407.46,276.49 407.63,275.67 407.81,275.35 407.98,275.05 408.15,274.44 408.33,273.60 408.50,274.28 408.66,273.33 408.81,272.15 408.97,271.93 409.13,270.58 409.26,271.38 409.40,270.49 409.54,269.74 409.67,268.57 409.79,269.10 409.91,268.47 410.03,268.56 410.15,266.91 410.26,267.04 410.37,266.59 410.48,266.23 410.59,265.72 410.70,264.57 410.80,264.49 410.91,264.99 411.01,264.30 411.12,263.02 411.22,262.91 411.32,261.93 411.42,261.58 411.53,261.37 411.63,261.14 411.74,260.37 411.85,259.60 411.95,259.36 412.06,259.12 412.18,257.99 412.29,257.23 412.41,257.13 412.52,257.03 412.63,257.55 412.74,256.07 412.85,255.30 412.96,254.85 413.06,253.85 413.15,253.25 413.25,253.82 413.35,254.14 413.44,252.76 413.54,252.48 413.63,250.33 413.72,251.52 413.81,249.72 413.90,250.14 414.00,249.48 414.09,248.66 414.19,248.03 414.28,248.21 414.37,247.42 414.48,247.39 414.58,247.38 414.69,247.40 414.79,245.90 414.90,245.01 415.03,245.12 415.16,244.16 415.29,243.73 415.44,242.66 415.63,242.24 415.82,242.39 416.14,242.52 416.53,241.92 416.92,242.07 417.15,243.66 417.38,242.71 417.55,243.16 417.71,244.27 417.88,243.83 418.02,244.34 418.16,244.75 418.30,245.80 418.43,245.97 418.56,247.36 418.69,246.68 418.81,247.82 418.94,247.43 419.06,248.88 419.18,250.63 419.30,249.55 419.43,249.09 419.55,250.59 419.68,251.58 419.80,252.94 419.93,250.94 420.05,252.53 420.19,252.83 420.33,253.43 420.47,254.66 420.61,254.99 420.75,255.04 420.88,254.46 421.02,255.52 421.15,256.07 421.28,255.96 421.40,257.71 421.52,258.89 421.64,258.48 421.76,259.26 421.88,259.17 421.99,259.55 422.10,261.12 422.22,260.89 422.33,261.98 422.44,262.09 422.56,262.77 422.67,263.14 422.79,263.69 422.90,263.45 423.02,264.54 423.13,265.74 423.25,265.71 423.38,265.42 423.50,266.15 423.63,266.29 423.75,267.50 423.88,267.68 424.02,267.39 424.17,268.09 424.32,269.24 424.47,269.76 424.65,269.89 424.86,270.84 425.06,270.43 425.34,271.99 425.73,271.10 426.12,272.07 426.44,270.45 426.64,269.72 426.85,269.04 427.01,268.99 427.15,268.78 427.29,269.19 427.43,268.36 427.55,268.10 427.67,266.70 427.78,267.59 427.90,266.77 428.01,265.51 428.11,265.07 428.22,265.21 428.33,263.85 428.43,263.65 428.53,264.15 428.64,262.86 428.74,261.99 428.84,262.41 428.95,260.19 429.05,261.22 429.16,260.81 429.27,260.79 429.38,259.37 429.49,259.47 429.61,258.87 429.74,258.11 429.86,257.37 429.99,257.40 430.11,256.39 430.24,255.89 430.36,255.38 430.49,255.70 430.61,253.98 430.72,254.00 430.83,253.83 430.94,253.51 431.05,252.87 431.16,250.67 431.27,251.80 431.37,251.40 431.48,252.00 431.58,249.04 431.69,248.69 431.80,250.00 431.91,247.88 432.02,247.68 432.13,247.90 432.24,247.33 432.36,247.12 432.48,245.86 432.60,246.52 432.72,245.90 432.86,245.21 433.00,244.41 433.15,243.89 433.29,242.63 433.49,242.31 433.69,242.47 433.93,241.78 434.31,241.56 434.73,241.48 435.01,242.85 435.26,242.82 435.43,244.07 435.61,244.27 435.76,243.79 435.91,244.82 436.06,245.45 436.19,245.12 436.32,245.77 436.46,246.46 436.59,247.08 436.72,247.13 436.86,248.30 436.99,249.58 437.13,249.91 437.27,249.62 437.42,248.62 437.59,250.39 437.75,251.61 437.91,251.25 438.08,251.42 438.24,251.60 438.40,252.29 438.55,252.69 438.70,253.35 438.85,254.17 438.99,255.04 439.14,254.88 439.28,256.14 439.43,255.79 439.58,256.73 439.73,258.49 439.88,258.06 440.05,257.34 440.21,259.28 440.38,259.17 440.57,259.21 440.77,259.99 440.97,260.64 441.24,261.08 441.53,261.14 441.96,260.80 442.39,260.65 442.72,261.09 442.99,260.93 443.22,259.45 443.41,258.86 443.61,258.69 443.78,257.78 443.94,258.31 444.10,257.74 444.25,257.05 444.39,256.11 444.53,255.96 444.67,254.91 444.81,255.32 444.94,253.95 445.07,253.29 445.20,254.25 445.33,253.00 445.46,252.29 445.59,252.52 445.72,251.42 445.85,250.97 445.98,251.42 446.11,250.70 446.24,249.86 446.37,249.36 446.49,249.16 446.60,248.11 446.72,247.50 446.84,247.01 446.95,247.05 447.07,246.06 447.17,246.50 447.26,245.83 447.35,245.51 447.45,244.90 447.54,244.52 447.63,243.04 447.72,243.07 447.81,242.21 447.89,242.90 447.97,241.64 448.05,241.70 448.13,241.06 448.21,240.00 448.29,238.94 448.37,239.48 448.45,237.75 448.53,238.14 448.60,237.91 448.68,236.90 448.76,236.08 448.84,236.14 448.91,234.97 449.00,235.35 449.08,234.81 449.16,234.55 449.24,233.70 449.32,233.72 449.40,232.53 449.48,232.59 449.57,232.36 449.66,230.99 449.75,230.64 449.84,230.44 449.93,229.29 450.03,228.75 450.12,228.62 450.23,228.21 450.34,227.08 450.46,226.75 450.57,226.13 450.68,226.03 450.80,225.54 450.95,225.75 451.10,224.83 451.26,225.26 451.42,223.92 451.58,222.84 451.77,222.59 451.97,222.52 452.19,222.23 452.41,221.62 452.64,220.81 452.89,220.60 453.16,220.77 453.45,218.71 453.77,218.87 454.10,218.78 454.46,219.25 454.84,219.96 455.24,217.24 455.66,218.25 456.10,218.16 456.56,217.58 457.03,217.23 457.50,216.88 457.98,217.47 458.46,216.92 458.95,216.44 459.43,215.70 459.91,216.78 460.40,217.02 460.88,216.84 461.36,215.50 461.83,215.58 462.31,215.36 462.78,215.70 463.27,215.92 463.75,215.01 464.24,215.11 464.71,215.01 465.16,214.55 465.58,214.38 465.93,214.04 466.23,213.47 466.47,212.49 466.70,213.40 466.85,212.19 467.00,212.29 467.11,211.44 467.19,210.75 467.28,210.83 467.33,209.95 467.38,209.69 467.42,208.65 467.45,209.10 467.47,208.08 467.50,207.04 467.52,207.75 467.54,206.24 467.55,206.03 467.57,204.63 467.58,204.56 467.60,205.26 467.62,203.68 467.63,203.63 467.65,202.71 467.67,201.90 467.69,202.84 467.72,201.83 467.74,201.21 467.77,200.55 467.80,200.59 467.81,199.41 467.83,199.54 467.85,198.38 467.87,197.39 467.88,197.79 467.90,196.98 467.92,196.94 467.94,195.84 467.95,195.21 467.97,195.50 467.99,194.66 468.01,194.74 468.02,193.10 468.04,193.49 468.06,193.04 468.07,191.84 468.09,191.41 468.11,191.69 468.13,189.38 468.14,189.61 468.16,188.86 468.18,188.78 468.20,188.81 468.21,187.64 468.23,186.69 468.25,187.07 468.27,186.31 468.27,187.18 468.28,185.58 468.28,184.97 468.29,184.28 468.30,184.22 468.30,183.82 468.31,183.23 468.31,181.98 468.32,182.41 468.32,181.58 468.33,180.84 468.34,180.91 468.34,180.60 468.35,178.91 468.35,179.02 468.36,178.02 468.37,178.04 468.37,178.10 468.38,177.69 468.38,177.12 468.39,175.61 468.40,175.22 468.40,175.28 468.41,174.41 468.41,173.93 468.42,173.43 468.43,173.08 468.43,173.33 468.44,171.09 468.44,171.52 468.45,171.17 468.46,171.06 468.46,169.80 468.47,169.89 468.47,168.89 468.48,168.20 468.49,167.39 468.49,168.11 468.50,167.74 468.50,166.94 468.50,165.59 468.50,165.61 468.51,164.81 468.51,164.71 468.51,164.65 468.51,164.18 468.51,162.93 468.51,162.94 468.51,162.31 468.52,162.27 468.52,160.88 468.52,159.95 468.52,160.63 468.52,159.68 468.52,158.83 468.53,158.76 468.53,158.08 468.53,157.09 468.53,157.42 468.53,156.11 468.53,156.16 468.53,156.60 468.54,155.53 468.54,154.76 468.54,153.94 468.54,153.78 468.54,152.83 468.54,152.28 468.55,153.13 468.55,151.21 468.55,151.42 468.55,150.68 468.55,149.71 468.55,148.92 468.56,149.16 468.56,149.05 468.56,149.26 468.56,147.49 468.56,146.59 468.56,147.19 468.56,146.82 468.57,145.46 468.57,144.08 468.57,145.17 468.57,143.45 468.57,143.23 468.57,143.24 468.57,142.50 468.57,142.24 468.57,141.72 468.57,140.87 468.57,141.91 468.57,140.00 468.57,139.13 468.57,138.67 468.57,138.28 468.57,137.64 468.57,137.64 468.57,137.84 468.57,136.22 468.57,136.74 468.57,135.85 468.57,135.55 468.57,134.41 468.57,134.21 468.57,133.72 468.57,132.63 468.57,132.48 468.57,131.38 468.57,131.37 468.57,130.47 468.57,130.87 468.57,129.56 468.57,129.23 468.57,128.76 468.57,128.56 468.57,128.00 468.57,128.34 468.57,127.32 468.57,126.51 468.57,126.62 468.56,125.78 468.56,126.06 468.56,124.23 468.56,124.22 468.56,124.28 468.56,123.91 468.56,123.00 468.56,123.19 468.56,122.10 468.56,120.83 468.56,120.94 468.56,119.96 468.56,119.81 468.56,118.88 468.56,118.87 468.56,118.65 468.56,117.71 468.56,117.52 468.56,115.87 468.56,115.85 468.56,115.53 468.56,114.73 468.56,114.70 468.56,113.10 468.56,113.85 468.55,113.31 468.55,113.18 468.55,111.57 468.55,111.70 468.55,112.10 468.55,111.07 468.55,110.37 468.55,109.38 468.55,109.46 468.55,108.19 468.55,108.37 468.55,107.27 468.55,108.49 468.55,107.11 468.55,106.00 468.54,105.71 468.54,105.18 468.54,105.04 468.54,104.74 468.54,102.46 468.54,103.06 468.54,102.85 468.54,103.18 468.54,102.58 468.54,100.84 468.54,100.64 468.54,99.88 468.54,100.16 468.54,98.67 468.54,98.16 468.53,98.18 468.53,97.06 468.53,97.51 468.53,95.96 468.53,95.92 468.53,95.46 468.53,94.93 468.53,94.97 468.53,94.81 468.53,92.88 468.53,92.88 468.53,91.88 468.53,92.16 468.53,91.67 468.53,91.58 468.52,90.86 468.52,89.72 468.52,91.10 468.52,89.67 468.52,89.00 468.52,87.98 468.53,87.90 468.53,87.46 468.53,85.74 468.53,85.53 468.53,85.68 468.53,85.61 468.53,85.05 468.53,84.08 468.53,82.56 468.53,83.49 468.53,81.78 468.53,82.49 468.53,82.66 468.53,81.41 468.53,80.79 468.53,79.34 468.53,79.38 468.53,78.66 468.53,78.07 468.53,77.99 468.53,77.10 468.53,77.49 468.53,76.71 468.53,75.40 468.53,75.22 468.53,74.58 468.53,74.96 468.53,74.51 468.53,73.05 468.53,72.60 468.53,72.67 468.53,72.48 468.53,71.89 468.54,71.69 468.54,70.50 468.54,69.39 468.54,69.77 468.54,69.17 468.54,69.14 468.54,68.12 468.54,68.21 468.54,66.21 468.54,66.55 468.54,66.13 468.54,65.13 468.54,65.74 468.54,64.56 468.55,63.87 468.55,63.79 468.55,63.56 468.56,62.65 468.56,61.80 468.56,61.34 468.57,61.49 468.57,61.01 468.57,60.34 468.58,59.85 468.58,58.30 468.58,58.61 468.59,57.69 468.59,58.25 468.59,56.99 468.60,56.85 468.60,56.30 468.60,54.91 468.61,54.64 468.61,53.91 468.61,53.91 468.61,53.59 468.62,53.47 468.62,53.10 468.62,52.02 468.63,51.49 468.63,50.98 468.63,49.50 468.64,49.27 468.64,48.98 468.64,48.27 468.65,48.65 468.65,48.71 468.65,47.70 468.66,47.09 468.66,45.72 468.66,46.55 468.67,45.36 468.67,45.89 468.67,44.85 468.68,45.29 468.70,43.49 468.71,43.17 468.72,42.52 468.73,41.64 468.74,40.57 468.75,40.88 468.76,41.26 468.77,39.69 468.79,39.33 468.80,39.29 468.81,38.49 468.82,38.49 468.83,38.33 468.84,37.16 468.85,36.03 468.86,36.33 468.87,35.36 468.89,35.10 468.90,34.75 468.91,34.32 468.92,33.24 468.93,32.66 468.94,32.24 468.95,31.72 468.96,31.50 468.98,31.75 468.99,31.23 469.00,29.67 469.02,29.76 469.03,28.95 469.05,28.56 469.07,28.09 469.09,27.15 469.11,26.93 469.13,26.96 469.15,26.89 469.16,25.83 469.18,24.66 469.20,23.82 469.22,23.13 469.23,23.78 469.25,22.60 469.27,22.96 469.29,22.28 469.31,21.22 469.33,20.65 469.35,20.70 469.37,21.33 469.39,20.05 469.42,19.61 469.44,17.89 469.46,19.20 469.50,17.70 469.53,17.87 469.56,17.40 469.60,16.05 469.64,15.69 469.69,15.13 469.74,14.51 469.79,14.25 469.84,13.39 469.92,13.21 469.99,12.51 470.07,12.68 470.15,12.19 470.25,10.55 470.36,10.17 470.46,10.64 470.58,10.16 470.70,9.76 470.83,8.00 470.97,8.71 471.11,7.15 471.25,7.54 471.41,6.27 471.58,5.67 471.76,5.99 471.95,5.56 472.19,4.69 472.46,4.42 472.81,5.15 473.27,4.20 473.68,4.70 474.00,5.24 474.26,3.92 474.51,5.79 474.73,6.24 474.94,5.94 475.15,7.00 475.35,7.10 475.54,7.40 475.73,8.19 475.92,8.91 476.10,8.99 476.28,10.26 476.47,10.87 476.65,10.70 476.84,10.78 477.03,11.09 477.22,11.59 477.41,12.09 477.60,13.34 477.79,13.75 477.98,14.15 478.16,14.96 478.34,14.58 478.53,16.38 478.70,16.00 478.88,16.42 479.05,16.78 479.23,17.08 479.40,18.10 479.56,18.32 479.73,18.21 479.90,19.51 480.05,18.91 480.21,19.65 480.37,20.91 480.53,20.86 480.68,21.05 480.82,22.14 480.97,22.72 481.12,23.54 481.26,23.64 481.40,23.62 481.54,24.50 481.67,25.05 481.81,23.64 481.94,27.06 482.06,26.16 482.19,26.61 482.32,27.63 482.44,27.71 482.55,27.62 482.66,28.96 482.77,30.24 482.88,29.55 482.99,29.50 483.10,31.74 483.20,30.42 483.29,31.17 483.38,31.91 483.47,33.32 483.57,32.90 483.66,32.08 483.75,34.52 483.84,34.07 483.92,35.82 484.00,36.00 484.08,36.93 484.17,37.42 484.25,38.06 484.33,37.29 484.41,38.62 484.49,38.99 484.56,38.49 484.64,38.91 484.71,40.23 484.79,40.35 484.86,41.06 484.93,41.59 485.01,42.61 485.08,42.47 485.16,42.20 485.23,42.95 485.30,44.18 485.37,44.92 485.44,44.74 485.52,45.13 485.59,45.97 485.66,45.98 485.73,46.44 485.81,47.17 485.88,47.00 485.95,49.40 486.02,49.15 486.10,49.09 486.17,49.31 486.24,50.23 486.32,50.98 486.40,51.73 486.47,51.34 486.55,52.74 486.63,53.24 486.71,52.87 486.79,53.35 486.86,54.41 486.94,55.31 487.03,55.49 487.12,55.97 487.20,55.66 487.29,57.77 487.38,57.88 487.47,58.55 487.55,57.66 487.64,58.85 487.73,58.88 487.81,59.78 487.90,60.79 487.98,60.66 488.07,61.38 488.16,62.05 488.24,63.00 488.31,62.88 488.39,63.11 488.47,63.93 488.54,64.59 488.62,65.01 488.70,64.74 488.77,65.56 488.85,66.90 488.92,66.65 489.00,66.57 489.07,66.97 489.15,67.72 489.22,68.03 489.30,68.98 489.37,68.80 489.45,70.64 489.53,71.26 489.61,70.91 489.68,70.89 489.76,71.49 489.84,73.00 489.92,73.46 490.00,73.30 490.09,74.71 490.18,74.74 490.27,74.46 490.36,74.81 490.45,75.77 490.54,76.13 490.63,77.66 490.73,77.64 490.85,77.51 490.96,78.55 491.08,78.94 491.19,78.92 491.31,79.47 491.47,80.40 491.64,80.73 491.81,80.72 491.99,81.81 492.28,81.98 492.64,81.45 493.05,82.97 493.45,82.66 493.77,81.97 494.03,81.50 494.27,81.04 494.50,80.80 494.71,79.81 494.91,79.31 495.11,79.59 495.30,79.08 495.48,78.21 495.67,78.34 495.85,76.85 496.03,77.09 496.21,76.53 496.39,76.20 496.57,76.56 496.75,75.55 496.94,75.16 497.14,75.37 497.32,73.52 497.50,73.46 497.68,72.68 497.83,72.30 497.98,71.92 498.14,72.10 498.28,70.81 498.42,70.62 498.56,69.77 498.70,69.20 498.84,69.35 498.98,68.47 499.12,68.27 499.27,67.95 499.42,67.47 499.58,65.68 499.75,66.30 499.94,65.38 500.18,64.77 500.51,65.29 500.90,63.84 501.21,65.17 501.39,65.93 501.56,65.72 501.69,67.84 501.81,68.59 501.93,68.69 502.04,68.20 502.13,68.75 502.23,68.40 502.32,70.49 502.42,69.90 502.50,70.16 502.58,70.89 502.67,71.56 502.75,72.08 502.84,72.51 502.92,73.02 503.00,73.82 503.09,73.98 503.17,74.49 503.26,75.95 503.35,75.81 503.44,76.39 503.53,75.44 503.62,77.18 503.72,77.81 503.83,78.05 503.94,78.88 504.05,79.09 504.16,79.75 504.27,79.34 504.38,80.83 504.50,80.50 504.61,80.65 504.71,82.40 504.81,81.84 504.92,83.64 505.02,83.25 505.12,83.83 505.22,85.00 505.32,85.02 505.42,84.69 505.52,87.14 505.62,86.94 505.72,87.06 505.83,87.36 505.93,87.43 506.04,88.14 506.14,88.39 506.25,89.36 506.37,90.01 506.48,89.66 506.60,90.39 506.71,90.85 506.85,91.60 506.99,92.48 507.13,92.90 507.28,93.52 507.48,93.29 507.67,93.87 507.95,94.32 508.33,94.77 508.64,94.56 508.95,94.37 509.08,93.47 509.22,92.75 509.36,92.66 509.50,90.81 509.61,92.07 509.70,91.04 509.79,90.62 509.89,89.52 509.98,89.97 510.07,89.04 510.16,88.74 510.24,87.90 510.31,87.15 510.39,88.21 510.47,85.84 510.54,85.50 510.62,85.11 510.70,85.15 510.77,84.47 510.84,83.48 510.91,83.17 510.99,83.33 511.06,82.04 511.13,82.16 511.20,80.80 511.27,81.37 511.34,80.39 511.42,81.24 511.49,79.62 511.57,79.58 511.64,78.97 511.71,78.76 511.79,78.06 511.86,77.58 511.93,77.18 512.01,75.86 512.10,76.29 512.18,75.18 512.26,75.00 512.35,75.37 512.43,73.80 512.52,72.77 512.60,73.29 512.69,72.49 512.79,71.91 512.90,70.64 513.00,70.70 513.11,70.71 513.21,69.70 513.32,70.34 513.42,67.96 513.54,67.95 513.66,68.39 513.78,68.07 513.89,67.34 514.01,66.73 514.13,65.08 514.24,65.14 514.35,64.72 514.46,64.85 514.58,64.44 514.69,63.44 514.80,62.96 514.91,62.11 515.02,62.96 515.14,60.70 515.25,60.44 515.36,61.07 515.48,60.53 515.59,59.68 515.70,59.87 515.82,59.37 515.94,58.05 516.06,58.52 516.18,56.99 516.30,56.98 516.42,57.15 516.54,55.42 516.66,54.62 516.78,55.02 516.91,54.17 517.05,53.93 517.18,52.37 517.32,53.52 517.45,52.40 517.58,51.36 517.73,51.40 517.90,50.85 518.06,50.68 518.22,49.03 518.38,49.36 518.55,49.08 518.77,48.52 518.99,47.76 519.21,47.49 519.44,47.98 519.83,46.39 520.23,46.36 520.65,47.07 521.03,47.64 521.27,47.65 521.52,48.41 521.72,49.20 521.90,48.32 522.08,49.34 522.25,50.07 522.40,50.47 522.55,50.91 522.70,51.56 522.84,52.09 522.98,52.54 523.12,52.15 523.26,53.04 523.39,53.17 523.53,54.46 523.67,55.13 523.80,55.30 523.94,55.55 524.08,56.00 524.22,56.00 524.37,56.09 524.51,58.82 524.66,57.79 524.81,58.30 524.99,59.34 525.16,59.57 525.34,59.97 525.52,60.06 525.72,60.31 525.91,62.04 526.11,61.94 526.30,62.58 526.49,62.06 526.69,62.74 526.88,63.84 527.07,64.40 527.27,64.61 527.46,65.93 527.66,65.34 527.86,66.36 528.07,67.19 528.28,67.10 528.50,67.27 528.72,67.46 528.95,68.34 529.19,68.91 529.44,68.18 529.71,69.51 529.98,69.15 530.30,69.51 530.62,69.72 530.98,71.20 531.38,70.54 531.82,71.55 532.27,71.69 532.74,71.32 533.22,72.27 533.68,72.21 534.14,72.15 534.60,72.02 535.07,72.95 535.54,72.30 536.00,72.53 536.43,72.14 536.79,73.99 537.07,74.55 537.28,75.51 537.49,74.30 537.62,75.12 537.73,76.81 537.85,75.98 537.92,77.35 537.98,77.11 538.05,78.16 538.10,79.00 538.13,78.37 538.16,79.54 538.19,79.54 538.22,79.40 538.23,81.25 538.25,81.56 538.27,82.01 538.28,82.97 538.29,82.93 538.30,83.56 538.31,84.12 538.32,84.80 538.33,84.58 538.34,85.36 538.36,86.02 538.37,86.43 538.38,86.86 538.39,87.03 538.42,88.08 538.44,88.14 538.46,89.29 538.48,89.34 538.50,90.60 538.52,91.35 538.54,90.63 538.56,90.70 538.59,90.94 538.61,92.88 538.63,93.75 538.65,92.96 538.67,94.37 538.69,93.39 538.72,95.52 538.74,96.25 538.76,96.39 538.77,97.09 538.78,96.91 538.80,97.97 538.81,97.94 538.83,98.73 538.84,97.97 538.85,99.30 538.87,99.78 538.88,100.73 538.90,101.11 538.91,101.11 538.92,102.10 538.94,102.57 538.95,102.58 538.96,102.27 538.97,103.73 538.98,103.87 538.99,104.76 538.99,104.67 539.00,106.69 539.01,106.44 539.02,108.20 539.03,109.21 539.04,107.78 539.05,108.01 539.06,109.82 539.07,108.84 539.08,109.57 539.09,110.80 539.09,111.65 539.10,112.49 539.11,111.77 539.11,111.77 539.12,113.14 539.13,114.28 539.13,114.92 539.14,114.14 539.15,114.77 539.15,115.53 539.16,115.87 539.17,116.34 539.17,116.51 539.18,117.70 539.19,118.73 539.19,118.14 539.20,119.42 539.20,119.91 539.21,119.75 539.21,120.17 539.22,120.83 539.22,121.39 539.23,121.90 539.23,121.81 539.24,123.93 539.24,122.94 539.25,123.92 539.25,124.63 539.26,124.57 539.26,124.83 539.27,125.95 539.27,126.04 539.28,126.22 539.28,127.97 539.28,127.65 539.29,128.23 539.29,129.57 539.30,129.99 539.30,129.63 539.31,131.59 539.31,131.26 539.32,131.02 539.32,132.00 539.32,132.58 539.33,132.20 539.33,133.29 539.34,134.42 539.34,134.76 539.35,134.58 539.35,135.88 539.36,135.52 539.36,136.17 539.36,136.85 539.37,137.14 539.37,137.92 539.38,137.90 539.38,138.38 539.39,139.11 539.39,141.08 539.40,139.69 539.40,141.76 539.41,141.54 539.41,141.27 539.41,142.32 539.42,143.02 539.43,144.01 539.43,143.53 539.44,144.73 539.44,145.34 539.45,145.26 539.45,145.83 539.46,146.52 539.47,146.79 539.47,147.80 539.48,147.75 539.48,148.66 539.49,148.85 539.49,149.91 539.50,149.43 539.51,150.60 539.51,150.51 539.52,150.93 539.52,151.46 539.53,152.56 539.54,152.25 539.54,153.40 539.55,153.07 539.55,155.62 539.56,155.31 539.57,154.57 539.57,156.19 539.58,156.75 539.58,156.23 539.59,156.79 539.59,157.10 539.60,158.75 539.60,158.94 539.61,159.45 539.61,161.06 539.62,160.29 539.62,160.31 539.63,162.10 539.63,162.18 539.63,163.16 539.64,162.66 539.64,163.09 539.65,164.13 539.65,164.26 539.66,165.25 539.66,166.06 539.66,165.96 539.67,166.37 539.67,166.81 539.68,167.15 539.68,167.39 539.68,168.39 539.69,168.92 539.69,168.97 539.69,170.05 539.70,170.05 539.70,171.41 539.71,171.32 539.71,172.19 539.71,172.85 539.72,173.69 539.72,173.19 539.72,173.86 539.73,174.68 539.73,174.67 539.74,174.73 539.74,176.28 539.74,176.83 539.75,177.25 539.75,176.84 539.76,178.64 539.76,178.32 539.76,179.25 539.77,180.00 539.77,179.61 539.78,178.63 539.78,180.87 539.78,181.73 539.79,182.37 539.79,181.79 539.80,183.36 539.80,183.88 539.81,184.49 539.81,184.32 539.82,184.75 539.82,185.41 539.83,186.45 539.83,186.42 539.83,186.56 539.84,187.36 539.85,188.46 539.85,188.29 539.86,188.44 539.86,188.73 539.87,190.20 539.87,189.93 539.88,191.37 539.89,190.80 539.89,191.65 539.90,192.95 539.90,192.37 539.91,193.26 539.91,193.73 539.92,194.01 539.93,195.44 539.94,194.58 539.94,196.38 539.95,197.21 539.96,197.21 539.96,197.88 539.97,197.98 539.98,198.35 539.99,199.32 539.99,199.41 540.00,200.36 540.01,199.95 540.01,199.84 540.02,201.21 540.02,201.24 540.03,203.49 540.04,202.94 540.04,202.89 540.05,203.07 540.06,204.61 540.06,205.31 540.07,205.58 540.07,205.50 540.08,207.09 540.09,207.64 540.09,207.14 540.10,208.54 540.10,209.28 540.11,209.85 540.11,209.35 540.12,209.71 540.12,211.31 540.13,211.44 540.13,211.92 540.14,211.83 540.14,211.86 540.14,212.68 540.15,214.04 540.15,213.56 540.16,214.11 540.16,214.89 540.17,215.79 540.17,217.10 540.17,216.14 540.18,217.19 540.18,217.70 540.19,217.09 540.19,218.18 540.20,217.70 540.20,218.71 540.20,219.69 540.21,220.90 540.21,221.38 540.22,222.23 540.22,222.01 540.22,222.84 540.23,223.23 540.23,223.32 540.24,223.47 540.24,225.33 540.24,224.95 540.25,225.82 540.25,226.80 540.26,225.77 540.26,226.51 540.27,228.07 540.27,227.33 540.27,227.89 540.28,228.82 540.29,229.24 540.29,229.86 540.30,230.19 540.30,231.06 540.31,231.29 540.31,232.19 540.32,233.02 540.32,233.17 540.33,233.05 540.33,233.75 540.34,234.65 540.34,234.82 540.35,235.07 540.35,235.93 540.36,236.56 540.36,236.97 540.37,237.77 540.37,238.23 540.38,238.69 540.39,239.28 540.40,238.96 540.41,240.52 540.41,240.15 540.42,240.32 540.43,241.50 540.44,241.86 540.45,242.14 540.45,242.93 540.46,244.18 540.47,243.64 540.48,243.97 540.48,244.09 540.49,245.85 540.50,246.12 540.51,246.65 540.52,246.51 540.52,246.72 540.53,247.35 540.55,249.58 540.56,248.86 540.57,249.83 540.59,249.59 540.60,249.94 540.61,251.17 540.62,251.50 540.64,252.32 540.65,252.76 540.66,253.79 540.67,253.60 540.69,253.56 540.70,253.97 540.71,254.94 540.72,255.75 540.74,256.47 540.75,256.25 540.77,256.81 540.79,257.99 540.81,256.94 540.83,258.18 540.85,258.57 540.87,259.40 540.89,260.84 540.92,260.94 540.94,261.25 540.96,260.73 540.98,262.18 541.00,263.48 541.02,262.18 541.04,263.50 541.06,264.54 541.09,264.58 541.13,265.16 541.17,264.57 541.20,266.11 541.24,265.94 541.28,266.96 541.31,268.45 541.35,268.91 541.39,267.82 541.42,267.85 541.46,269.27 541.50,271.00 541.54,270.52 541.59,271.06 541.64,271.74 541.69,271.28 541.74,272.74 541.79,272.90 541.84,273.75 541.89,274.27 541.95,273.87 542.01,274.12 542.06,275.73 542.13,275.28 542.20,275.49 542.26,276.67 542.35,277.57 542.44,278.55 542.53,278.69 542.65,278.79 542.77,279.49 542.94,279.15 543.11,280.15 543.35,281.08 543.61,280.93 543.95,280.87 544.34,282.73 544.80,281.89 545.30,281.75 545.73,281.53 546.11,281.66 546.45,280.88 546.76,279.94 547.05,280.12 547.33,279.88 547.59,279.05 547.84,278.97 548.09,278.21 548.33,278.09 548.56,278.62 548.79,277.70 549.01,276.12 549.22,275.69 549.43,275.79 549.64,275.33 549.84,275.34 550.04,274.48 550.23,274.46 550.42,273.66 550.60,273.55 550.76,272.90 550.92,271.95 551.09,271.14 551.22,269.79 551.35,270.90 551.48,269.04 551.61,269.98 551.72,269.09 551.83,268.31 551.94,268.51 552.04,267.54 552.14,267.65 552.23,267.87 552.32,265.99 552.42,266.28 552.51,264.77 552.59,263.90 552.67,263.18 552.76,263.46 552.84,263.19 552.93,262.22 553.01,262.12 553.09,261.65 553.17,261.67 553.26,260.67 553.34,261.12 553.43,259.52 553.52,259.28 553.61,259.19 553.71,258.64 553.81,257.24 553.90,257.66 554.00,256.72 554.10,256.66 554.19,256.29 554.28,254.68 554.38,254.98 554.46,254.37 554.54,254.21 554.62,253.01 554.70,253.11 554.78,253.22 554.86,250.68 554.94,251.17 555.01,251.04 555.09,250.60 555.16,250.14 555.24,249.90 555.32,249.15 555.40,248.63 555.48,248.62 555.55,248.10 555.64,246.24 555.73,247.05 555.82,245.56 555.91,246.86 556.00,245.03 556.12,244.60 556.23,244.67 556.35,245.21 556.49,243.04 556.66,242.54 556.84,242.60 557.16,241.98 557.55,241.62 557.96,242.42 558.20,242.47 558.44,243.12 558.65,242.74 558.83,242.89 559.01,244.56 559.19,244.84 559.35,246.07 559.50,245.86 559.65,247.09 559.80,246.18 559.95,246.68 560.09,247.83 560.23,247.62 560.37,248.12 560.51,248.35 560.65,250.19 560.79,249.70 560.92,251.09 561.06,251.24 561.20,252.13 561.33,251.53 561.47,252.91 561.61,253.70 561.75,253.44 561.89,253.67 562.04,254.80 562.18,255.38 562.33,255.37 562.48,255.93 562.63,256.98 562.78,255.87 562.92,257.63 563.06,257.66 563.20,258.42 563.34,258.66 563.46,259.23 563.58,259.21 563.71,258.77 563.83,260.56 563.95,261.07 564.07,261.15 564.19,262.08 564.30,262.08 564.42,262.91 564.53,263.53 564.65,264.21 564.77,264.52 564.89,265.40 565.00,265.52 565.12,265.73 565.24,265.70 565.37,267.28 565.49,267.72 565.62,266.79 565.75,268.33 565.88,268.95 566.03,269.66 566.18,269.70 566.33,270.59 566.48,271.87 566.68,270.89 566.89,272.44 567.10,272.29 567.44,272.36 567.83,272.97 568.23,272.68 568.52,271.73 568.73,272.00 568.94,271.20 569.11,270.81 569.25,269.94 569.40,270.40 569.55,269.25 569.68,269.17 569.80,267.48 569.92,267.86 570.04,266.58 570.16,267.45 570.27,267.16 570.38,266.28 570.49,265.61 570.61,265.68 570.72,264.09 570.82,263.78 570.93,264.75 571.04,262.84 571.15,262.29 571.26,261.54 571.37,261.34 571.48,261.17 571.60,260.39 571.71,259.67 571.82,259.47 571.94,258.85 572.07,258.35 572.21,258.50 572.34,258.43 572.47,256.63 572.60,256.40 572.74,256.33 572.87,255.73 573.01,254.86 573.14,254.45 573.26,254.46 573.38,253.46 573.50,254.13 573.62,252.01 573.74,252.84 573.86,251.87 573.98,250.63 574.10,251.06 574.21,250.46 574.33,249.81 574.45,249.75 574.58,248.51 574.70,247.87 574.82,248.47 574.95,247.33 575.08,247.16 575.21,246.62 575.34,246.01 575.49,245.80 575.65,245.00 575.80,244.42 575.96,243.56 576.17,243.92 576.39,242.99 576.64,242.95 577.04,242.73 577.44,242.53 577.71,243.09 577.93,243.03 578.09,244.26 578.24,243.96 578.39,244.23 578.51,245.61 578.64,245.60 578.76,247.14 578.88,245.70 579.00,247.73 579.11,247.68 579.23,248.25 579.35,248.49 579.47,249.67 579.58,249.28 579.72,250.18 579.85,251.04 579.98,251.50 580.13,251.66 580.29,252.93 580.45,253.40 580.62,253.20 580.80,253.51 580.97,254.04 581.14,253.44 581.31,255.13 581.47,255.26 581.64,256.15 581.80,256.26 581.97,257.18 582.14,257.78 582.31,258.14 582.49,257.83 582.66,258.82 582.85,259.18 583.04,260.38 583.24,259.76 583.46,260.87 583.69,260.92 583.93,261.87 584.24,262.31 584.59,262.44 585.04,263.07 585.44,261.40 585.78,260.68 586.02,261.28 586.25,261.48 586.45,261.12 586.62,259.80 586.79,259.47 586.96,259.99 587.11,257.75 587.24,258.25 587.38,257.21 587.52,257.79 587.65,257.56 587.78,256.04 587.90,255.21 588.02,254.92 588.14,254.98 588.26,254.70 588.38,253.63 588.49,254.18 588.60,252.77 588.72,252.66 588.83,250.95 588.94,251.89 589.05,250.50 589.17,250.17 589.28,250.11 589.39,249.32 589.50,248.18 589.62,248.01 589.73,247.11 589.85,247.13 589.97,246.67 590.09,246.90 590.20,246.95 590.31,245.14 590.42,245.09 590.52,244.06 590.63,245.14 590.74,243.25 590.84,243.12 590.93,242.46 591.02,241.89 591.10,242.46 591.19,240.33 591.27,240.58 591.35,239.99 591.44,239.77 591.52,238.30 591.59,237.82 591.66,237.68 591.74,236.75 591.81,237.48 591.88,236.60 591.96,237.09 592.03,235.25 592.10,234.47 592.17,234.45 592.24,234.22 592.32,233.30 592.39,233.91 592.46,232.53 592.53,231.77 592.60,231.15 592.68,230.34 592.76,229.73 592.83,229.52 592.91,229.79 592.99,228.57 593.07,229.46 593.14,227.62 593.24,227.79 593.33,227.29 593.42,227.92 593.51,227.00 593.61,225.54 593.70,224.90 593.80,224.86 593.93,224.48 594.05,223.82 594.17,222.73 594.30,222.25 594.42,222.56 594.58,221.59 594.77,222.30 594.95,220.30 595.14,220.63 595.33,219.25 595.59,219.47 595.86,219.66 596.15,218.93 596.47,217.83 596.83,218.39 597.21,216.76 597.61,217.26 598.03,216.73 598.46,216.70 598.89,216.46 599.35,216.46 599.81,216.34 600.29,216.21 600.77,216.35 601.26,215.88 601.75,216.14 602.24,215.27 602.73,215.60 603.22,215.95 603.72,216.62 604.21,215.82 604.69,216.33 605.18,214.41 605.65,215.14 606.13,214.78 606.61,214.32 607.09,214.85 607.57,213.95 608.03,214.42 608.46,214.02 608.82,213.60 609.12,212.60 609.32,213.24 609.52,211.36 609.72,212.12 609.82,210.64 609.92,210.67 610.02,209.35 610.11,210.59 610.15,208.35 610.19,209.98 610.22,208.58 610.26,208.24 610.29,207.19 610.30,206.10 610.30,205.47 610.31,205.80 610.32,205.00 610.32,204.93 610.32,203.90 610.31,203.63 610.30,202.81 610.30,202.96 610.29,201.89 610.28,202.17 610.27,201.55 610.26,200.56 610.25,200.45 610.24,200.98 610.23,199.02 610.22,198.30 610.21,197.43 610.20,197.40 610.19,196.88 610.19,196.41 610.18,196.28 610.17,196.65 610.17,195.36 610.16,194.13 610.16,193.96 610.16,192.94 610.16,193.52 610.17,192.92 610.17,191.49 610.18,191.76 610.19,190.35 610.19,191.26 610.20,189.28 610.20,189.33 610.21,189.21 610.22,188.79 610.23,187.74 610.23,187.91 610.24,187.34 610.25,186.85 610.26,186.17 610.26,186.24 610.27,184.99 610.28,185.19 610.29,184.07 610.29,183.22 610.30,183.26 610.31,182.73 610.32,182.93 610.32,181.38 610.33,181.69 610.34,181.38 610.35,180.80 610.35,180.53 610.36,179.33 610.37,178.73 610.37,178.36 610.38,176.68 610.39,177.28 610.40,176.55 610.40,176.27 610.41,175.16 610.41,175.80 610.42,174.95 610.42,174.23 610.42,173.54 610.42,173.15 610.42,171.82 610.43,172.58 610.43,171.25 610.43,170.71 610.43,170.11 610.43,170.70 610.44,169.23 610.44,168.84 610.44,169.29 610.44,167.97 610.45,167.54 610.45,167.58 610.45,165.85 610.45,166.96 610.45,165.61 610.46,165.30 610.46,165.49 610.46,163.83 610.46,164.21 610.47,162.61 610.47,162.96 610.47,162.07 610.47,161.81 610.47,161.13 610.48,161.08 610.48,160.15 610.48,160.10 610.48,159.69 610.48,158.16 610.49,157.45 610.49,156.67 610.49,157.19 610.49,156.73 610.49,156.37 610.49,155.63 610.49,155.58 610.49,153.72 610.49,153.78 610.49,154.04 610.50,152.65 610.50,153.33 610.50,152.54 610.50,151.51 610.50,150.47 610.50,151.07 610.50,150.31 610.50,149.12 610.50,148.97 610.50,149.79 610.50,147.84 610.50,147.69 610.50,146.69 610.50,146.70 610.50,145.68 610.50,146.06 610.50,145.85 610.50,144.41 610.50,144.07 610.50,144.06 610.50,143.63 610.50,142.32 610.50,141.47 610.50,141.81 610.50,141.26 610.50,141.02 610.50,140.57 610.50,139.39 610.50,139.48 610.50,138.95 610.50,139.00 610.50,137.41 610.50,136.87 610.50,136.16 610.50,136.41 610.50,135.21 610.50,135.70 610.50,134.67 610.50,134.34 610.50,133.84 610.50,133.28 610.50,133.00 610.50,131.61 610.50,131.38 610.50,130.94 610.50,130.09 610.50,130.07 610.49,129.71 610.49,129.46 610.49,129.17 610.49,128.52 610.49,127.53 610.49,126.58 610.49,127.07 610.49,126.65 610.49,126.29 610.49,125.55 610.49,125.26 610.49,124.17 610.49,123.14 610.49,122.97 610.49,122.68 610.49,122.78 610.49,121.38 610.49,121.35 610.48,120.09 610.48,120.47 610.48,119.29 610.48,119.86 610.48,119.24 610.48,117.88 610.48,117.92 610.48,116.08 610.48,117.11 610.48,115.59 610.48,116.21 610.48,115.03 610.48,114.93 610.48,114.37 610.48,114.10 610.48,113.21 610.48,112.75 610.48,112.50 610.47,111.81 610.47,111.45 610.47,110.19 610.47,109.96 610.47,109.85 610.47,108.23 610.47,108.39 610.47,108.54 610.47,107.21 610.47,107.56 610.47,105.79 610.47,106.80 610.47,105.33 610.47,105.04 610.47,105.22 610.47,103.80 610.47,103.41 610.47,103.21 610.47,102.33 610.47,102.65 610.47,102.28 610.47,100.53 610.47,101.00 610.47,100.25 610.47,99.62 610.47,99.68 610.47,98.68 610.47,99.23 610.47,97.93 610.47,97.01 610.47,96.93 610.47,96.55 610.47,95.77 610.47,95.46 610.47,95.73 610.47,94.61 610.47,93.21 610.47,93.70 610.46,93.65 610.46,91.42 610.46,91.72 610.46,90.67 610.46,90.41 610.46,90.26 610.46,89.00 610.46,90.36 610.46,89.97 610.46,88.62 610.46,87.96 610.46,88.05 610.46,85.91 610.46,87.11 610.46,85.25 610.46,85.66 610.46,85.02 610.46,84.76 610.46,84.16 610.47,83.88 610.47,82.62 610.47,82.15 610.47,82.58 610.47,81.88 610.47,80.51 610.47,80.09 610.47,80.11 610.48,79.37 610.48,79.06 610.48,78.10 610.48,78.36 610.48,76.53 610.48,77.30 610.48,76.43 610.48,75.76 610.48,75.31 610.49,75.14 610.49,73.79 610.49,74.02 610.49,73.29 610.49,72.28 610.49,72.98 610.49,71.87 610.49,70.77 610.50,70.38 610.50,70.58 610.50,69.44 610.50,69.53 610.50,68.47 610.50,68.16 610.50,67.75 610.50,67.03 610.50,67.32 610.51,66.22 610.51,65.19 610.51,65.20 610.51,64.82 610.51,64.51 610.51,64.08 610.51,63.39 610.51,63.23 610.52,62.57 610.52,61.71 610.53,61.11 610.53,60.78 610.53,59.79 610.54,60.29 610.54,59.17 610.55,58.66 610.55,58.32 610.56,57.88 610.56,56.85 610.57,56.67 610.57,56.22 610.57,55.63 610.58,55.01 610.58,54.75 610.59,54.26 610.59,53.43 610.60,53.95 610.60,52.63 610.60,52.33 610.61,52.48 610.61,51.20 610.62,50.85 610.62,49.47 610.63,50.25 610.63,50.29 610.63,49.10 610.64,47.59 610.64,47.24 610.65,47.51 610.65,47.18 610.66,46.12 610.66,46.51 610.66,45.12 610.67,44.43 610.67,44.37 610.68,43.51 610.69,42.37 610.70,42.45 610.71,42.22 610.72,41.06 610.74,41.51 610.75,41.23 610.76,39.82 610.77,39.15 610.78,38.92 610.79,38.81 610.81,37.68 610.82,37.91 610.83,37.29 610.84,36.60 610.85,37.01 610.86,34.82 610.88,34.51 610.89,35.14 610.90,34.11 610.91,34.14 610.92,32.62 610.94,33.11 610.95,31.49 610.96,30.79 610.97,31.10 610.98,30.92 610.99,30.02 611.01,30.45 611.03,28.97 611.05,28.78 611.07,28.27 611.09,27.26 611.11,27.96 611.13,25.59 611.15,27.13 611.17,26.45 611.19,25.37 611.21,24.09 611.23,24.20 611.25,23.39 611.27,23.08 611.30,22.66 611.32,22.54 611.34,21.25 611.37,21.58 611.39,21.55 611.42,21.03 611.45,19.59 611.48,19.11 611.51,18.70 611.53,18.48 611.57,17.47 611.61,16.86 611.64,16.36 611.68,16.48 611.72,16.39 611.77,16.02 611.82,15.03 611.87,14.46 611.92,12.86 611.98,12.60 612.05,13.37 612.12,12.48 612.18,11.61 612.27,10.55 612.36,10.86 612.45,9.63 612.54,10.46 612.63,9.03 612.73,8.74 612.83,9.14 612.93,8.21 613.03,7.76 613.14,6.96 613.26,6.51 613.39,5.23 613.54,4.74 613.72,4.87 613.93,4.82 614.24,3.84 614.70,3.43 615.10,3.73 615.44,4.34 615.72,5.66 615.98,5.68 616.23,6.42 616.46,6.29 616.69,7.19 616.91,7.15 617.12,7.95 617.34,8.52 617.54,7.79 617.75,9.22 617.95,9.61 618.15,9.15 618.35,9.69 618.55,10.25 618.75,11.67 618.95,11.57 619.15,12.41 619.35,12.88 619.54,13.14 619.74,13.99 619.92,13.83 620.11,14.57 620.30,14.95 620.48,15.48 620.65,16.07 620.83,16.95 621.00,17.25 621.17,16.82 621.33,18.67 621.50,18.10 621.66,19.41 621.81,19.17 621.97,19.90 622.12,20.64 622.28,21.54 622.42,21.01 622.56,20.91 622.71,21.96 622.85,22.74 622.99,23.04 623.12,23.79 623.25,24.30 623.39,24.39 623.52,25.24 623.64,25.48 623.76,25.57 623.89,26.59 624.01,26.28 624.12,27.11 624.22,29.02 624.33,28.40 624.44,29.03 624.55,29.32 624.65,30.11 624.76,30.40 624.85,31.77 624.94,32.49 625.03,32.07 625.12,32.88 625.21,32.56 625.30,33.07 625.38,33.23 625.47,34.11 625.54,34.92 625.62,35.90 625.70,35.27 625.78,35.66 625.86,38.17 625.94,37.35 626.01,37.68 626.09,38.88 626.16,39.71 626.23,39.28 626.30,39.39 626.37,40.41 626.44,41.35 626.52,41.14 626.59,42.39 626.66,42.41 626.73,43.05 626.80,44.07 626.86,44.04 626.93,44.03 627.00,44.77 627.07,45.02 627.14,46.01 627.21,45.87 627.28,47.49 627.35,46.73 627.42,48.44 627.49,47.51 627.56,48.61 627.63,49.85 627.70,49.67 627.77,50.56 627.84,50.66 627.92,50.90 627.99,51.00 628.06,53.02 628.14,52.84 628.21,52.65 628.29,54.03 628.36,53.62 628.44,53.99 628.53,55.72 628.61,55.83 628.69,56.80 628.77,56.37 628.86,56.69 628.94,57.79 629.02,58.06 629.10,58.80 629.18,60.59 629.26,60.32 629.34,60.49 629.42,61.33 629.50,61.14 629.58,62.24 629.66,61.84 629.73,63.36 629.80,64.02 629.87,63.49 629.94,64.13 630.01,63.99 630.08,64.63 630.15,65.03 630.22,65.65 630.29,67.44 630.36,67.14 630.42,68.06 630.49,68.36 630.56,69.19 630.63,69.74 630.70,69.90 630.77,69.15 630.84,70.81 630.91,70.79 630.98,70.32 631.06,71.82 631.13,72.38 631.20,72.93 631.27,72.94 631.35,74.21 631.43,74.58 631.52,74.29 631.60,75.87 631.68,76.37 631.77,76.25 631.85,77.77 631.94,77.19 632.05,77.56 632.15,78.78 632.26,79.06 632.37,79.27 632.47,79.97 632.60,80.33 632.76,81.17 632.93,80.79 633.09,82.04 633.26,81.29 633.61,81.86 633.95,82.44 634.40,82.33 634.75,82.28 635.07,82.22 635.31,81.19 635.55,80.82 635.77,80.99 635.98,79.49 636.19,79.51 636.38,79.33 636.57,78.87 636.75,79.06 636.94,78.27 637.11,77.33 637.29,77.02 637.47,76.78 637.65,76.29 637.83,75.60 638.01,75.58 638.19,74.56 638.38,73.64 638.56,74.16 638.73,73.64 638.90,72.18 639.06,72.46 639.20,71.51 639.35,71.69 639.49,71.18 639.61,70.53 639.74,69.78 639.87,68.62 640.00,69.00 640.13,67.95 640.25,68.12 640.38,67.33 640.52,67.17 640.66,66.47 640.80,65.69 640.96,65.34 641.12,64.57 641.34,65.22 641.56,64.39 641.97,63.36 642.34,64.16 642.62,64.62 642.81,65.22 643.00,65.67 643.14,65.78 643.28,66.83 643.41,67.21 643.54,67.91 643.65,68.26 643.76,68.63 643.87,67.90 643.98,69.47 644.09,69.59 644.19,69.76 644.29,71.56 644.39,71.57 644.49,72.95 644.59,72.22 644.68,73.35 644.78,73.54 644.88,73.90 644.98,74.72 645.08,75.09 645.18,75.70 645.28,76.21 645.39,76.68 645.49,77.84 645.60,77.06 645.72,77.99 645.84,77.30 645.95,78.81 646.07,79.92 646.19,79.70 646.30,80.70 646.42,81.51 646.53,81.44 646.64,81.47 646.74,82.43 646.84,82.22 646.94,83.13 647.05,84.08 647.14,85.51 647.24,84.46 647.34,84.92 647.44,86.22 647.54,86.89 647.64,86.92 647.74,87.09 647.84,87.17 647.94,87.96 648.05,88.92 648.16,89.69 648.27,89.35 648.38,90.72 648.49,90.03 648.62,90.57 648.76,91.32 648.89,92.07 649.04,92.59 649.23,92.87 649.42,93.67 649.72,94.17 650.08,94.47 650.40,93.25 650.66,92.99 650.80,92.80 650.93,92.20 651.07,92.35 651.21,92.43 651.30,90.60 651.40,91.29 651.49,89.09 651.58,89.18 651.68,88.90 651.77,88.18 651.85,87.66 651.93,86.32 652.00,86.68 652.08,86.21 652.16,86.11 652.24,85.34 652.31,85.40 652.39,83.96 652.46,83.52 652.53,83.49 652.61,82.24 652.68,82.20 652.75,81.84 652.82,80.86 652.90,80.94 652.97,80.84 653.04,80.68 653.12,79.54 653.20,78.52 653.27,78.60 653.35,78.66 653.42,76.25 653.50,76.83 653.57,77.02 653.65,75.57 653.74,75.07 653.83,75.41 653.91,73.58 654.00,73.36 654.08,73.26 654.17,73.41 654.25,71.86 654.36,72.60 654.46,71.30 654.57,71.43 654.68,71.44 654.79,70.13 654.89,70.18 655.00,70.11 655.12,68.59 655.24,68.06 655.36,67.30 655.48,67.48 655.60,67.60 655.72,65.41 655.84,65.97 655.96,65.50 656.08,64.63 656.19,64.82 656.31,63.76 656.43,63.56 656.54,61.76 656.66,62.27 656.78,62.39 656.90,61.05 657.02,60.71 657.14,59.91 657.25,59.26 657.37,59.56 657.49,58.83 657.62,58.60 657.74,58.50 657.87,57.40 657.99,56.38 658.12,56.17 658.24,55.43 658.37,54.71 658.50,54.89 658.64,55.16 658.78,54.06 658.92,53.14 659.06,53.13 659.20,52.27 659.34,52.06 659.51,51.97 659.67,50.70 659.84,50.41 660.01,49.24 660.17,49.84 660.37,49.69 660.59,49.38 660.82,48.50 661.05,47.95 661.35,47.82 661.74,46.98 662.15,47.21 662.57,46.03 662.85,47.13 663.09,47.47 663.29,49.45 663.49,48.98 663.66,50.00 663.83,49.35 663.99,50.79 664.15,50.65 664.30,51.31 664.46,51.17 664.61,52.52 664.77,52.70 664.93,52.63 665.10,54.68 665.27,54.43 665.44,53.98 665.64,54.26 665.85,55.90 666.08,55.93 666.32,56.79 666.57,57.49 666.83,57.90 667.09,59.09 667.36,58.47 667.63,58.92 667.91,59.30 668.19,59.50 668.47,59.84 668.76,60.10 669.06,60.28 669.36,60.57 669.66,60.86 669.96,61.45 670.27,63.04 670.59,61.71 670.92,63.07 671.25,63.76 671.58,64.38 671.92,64.88 672.26,64.44 672.60,64.61 672.94,65.30 673.29,65.57 673.60,66.27" fill="none" stroke="#00ff00" stroke-width="1.8" stroke-linejoin="round"/><path d="M113.7 153L114.6 212L115.5 153M254.8 153L255.7 212L256.6 153M396.6 153L397.5 212L398.4 153M538.9 153L539.8 212L540.7 153" fill="none" stroke="#0000ff" stroke-width="1.6" stroke-opacity="0.42" stroke-linejoin="round"/><rect x="535.1" y="6.9" width="133.69999999999993" height="98.89999999999999" fill="#fff" stroke="#444" stroke-width="1.6"/><path d="M537.2 20.6H557.8" stroke="#ff4d4d" stroke-width="3.2"/><text transform="translate(559.85 26.80) scale(1.0750 1)" font-family='"Liberation Sans", sans-serif' font-size="18.6" fill="#000" stroke="#000" stroke-width="0.1">TSMC-SVM</text><path d="M537.2 44.8H557.8" stroke="#6b6bff" stroke-width="1.6"/><text transform="translate(559.85 51.00) scale(1.0750 1)" font-family='"Liberation Sans", sans-serif' font-size="18.6" fill="#000" stroke="#000" stroke-width="0.1">TSMC-RBF</text><path d="M537.2 69.0H557.8" stroke="#ff4dff" stroke-width="2.6"/><text transform="translate(559.85 75.20) scale(1.0750 1)" font-family='"Liberation Sans", sans-serif' font-size="18.6" fill="#000" stroke="#000" stroke-width="0.1">TSMC</text><path d="M537.2 93.3H557.8" stroke="#33ee33" stroke-width="2.2"/><text transform="translate(558.65 99.50) scale(1.0750 1)" font-family='"Liberation Sans", sans-serif' font-size="18.6" fill="#000" stroke="#000" stroke-width="0.1">PID</text><text transform="translate(31.84 17.10) scale(1.0750 1)" font-family='"Liberation Sans", sans-serif' font-size="19" fill="#000" stroke="#000" stroke-width="0.1">0.06</text><text transform="translate(31.54 64.50) scale(1.0750 1)" font-family='"Liberation Sans", sans-serif' font-size="19" fill="#000" stroke="#000" stroke-width="0.1">0.04</text><text transform="translate(31.99 111.90) scale(1.0750 1)" font-family='"Liberation Sans", sans-serif' font-size="19" fill="#000" stroke="#000" stroke-width="0.1">0.02</text><text transform="translate(60.13 159.30) scale(1.0750 1)" font-family='"Liberation Sans", sans-serif' font-size="19" fill="#000" stroke="#000" stroke-width="0.1">0</text><text transform="translate(25.20 206.70) scale(1.0750 1)" font-family='"Liberation Sans", sans-serif' font-size="19" fill="#000" stroke="#000" stroke-width="0.1">-0.02</text><text transform="translate(24.74 254.10) scale(1.0750 1)" font-family='"Liberation Sans", sans-serif' font-size="19" fill="#000" stroke="#000" stroke-width="0.1">-0.04</text><text transform="translate(70.13 312.50) scale(1.0700 1)" font-family='"Liberation Sans", sans-serif' font-size="19" fill="#000" stroke="#000" stroke-width="0.1">0</text><text transform="translate(163.34 312.50) scale(1.0700 1)" font-family='"Liberation Sans", sans-serif' font-size="19" fill="#000" stroke="#000" stroke-width="0.1">10</text><text transform="translate(262.59 312.50) scale(1.0700 1)" font-family='"Liberation Sans", sans-serif' font-size="19" fill="#000" stroke="#000" stroke-width="0.1">20</text><text transform="translate(362.82 312.50) scale(1.0700 1)" font-family='"Liberation Sans", sans-serif' font-size="19" fill="#000" stroke="#000" stroke-width="0.1">30</text><text transform="translate(462.87 312.50) scale(1.0700 1)" font-family='"Liberation Sans", sans-serif' font-size="19" fill="#000" stroke="#000" stroke-width="0.1">40</text><text transform="translate(561.79 312.50) scale(1.0700 1)" font-family='"Liberation Sans", sans-serif' font-size="19" fill="#000" stroke="#000" stroke-width="0.1">50</text><text transform="translate(660.79 312.50) scale(1.0700 1)" font-family='"Liberation Sans", sans-serif' font-size="19" fill="#000" stroke="#000" stroke-width="0.1">60</text><text transform="translate(329.42 342.60) scale(0.9800 1)" font-family='"Liberation Sans", sans-serif' font-size="21.6" fill="#000" stroke="#000" stroke-width="0.1">Time(s)</text><text transform="translate(17.00 210.86) rotate(-90) scale(1.0000 1)" font-family='"Liberation Sans", sans-serif' font-size="20.6" fill="#000" stroke="#000" stroke-width="0.1">Tracking Error</text></g></svg>
</body></html>
